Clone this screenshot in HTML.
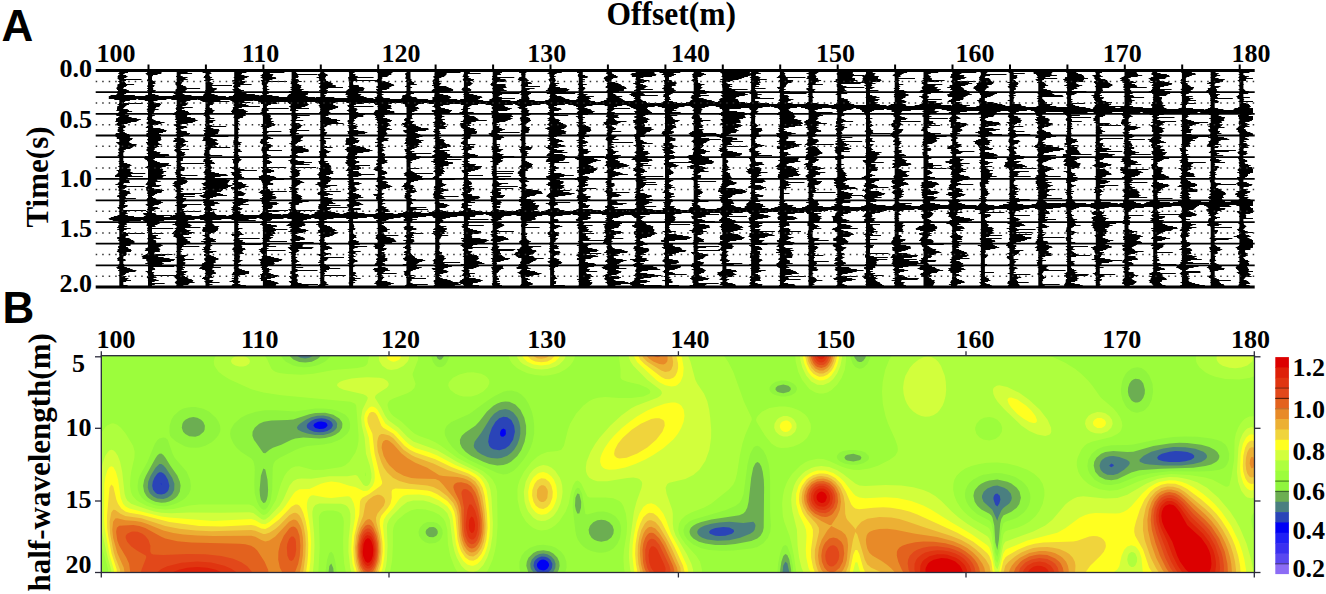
<!DOCTYPE html>
<html><head><meta charset="utf-8"><style>
html,body{margin:0;padding:0;background:#fff;overflow:hidden}
svg{display:block}
</style></head><body>
<svg width="1326" height="594" viewBox="0 0 1326 594">
<rect width="1326" height="594" fill="#fff"/>
<clipPath id="cpB"><rect x="101.3" y="355.7" width="1153.2" height="216.8"/></clipPath>
<g clip-path="url(#cpB)">
<rect x="101.3" y="355.7" width="1153.2" height="216.8" fill="#0000f5"/>
<path d="M95.3 349.7l1164 0 0 228-1164 0zM313.4 425.7l1.9 2.4 4 1 4-0.3 2-0.7 2.2-2.4-0.4-2-1.8-1.4-4-0.9-3.3 0.3-3.8 2zM503.3 428.5l-2.1 1.2-0.9 2-0.3 2 0.5 2 0.8 0.9 2 0.2 2-1.6 0.6-1.5-0.3-4zM160.7 483.7l0.6 1 0-1.1zM539.3 560.8l-2.2 2.9-0.2 2 0.8 2 1.6 1.7 4 1 2-0.3 2-1.3 1.8-3.1-0.2-2-1.1-2-2.5-1.8-2-0.3-2 0.2z" fill="#2a44b8" fill-rule="evenodd"/>
<path d="M95.3 349.7l1164 0 0 228-1164 0zM507.3 417.2l-4-0.4-4 1.4-3.8 3.5-3.6 6-2.8 8-0.9 6 1 4 1.6 2 2.5 1.6 6 1 6-1.7 4-3.2 3.8-5.7 1.8-8-0.8-6-2.8-5.6zM306.7 425.7l0.4 2 2.2 2.1 4.9 1.9 5.1 0.6 4-0.2 4-1 4-2.7 1.5-2.7-0.3-2-1.2-1.9-2-1.6-4-1.5-4-0.5-6 0.9-4 1.7-3.7 2.9zM1157.1 457.7l1.3 2 4.9 1.5 6 0.7 10 0 6-0.7 5.8-1.5 2.9-2 0.3-2-2.1-2-4.9-1.7-6-0.8-6-0.1-5.7 0.6-7.7 2-3.5 2zM1111.3 463.6l-2.2 2.1 2.2 1.5 2.6-1.5-0.6-1.2zM159.3 472.2l-2.1 1.5-2.8 4-1.6 4-0.6 4 0.9 4 2.2 2.8 2 1.4 4 0.7 3.4-0.9 2.6-2 1.2-2 0.9-4-1.5-6-2.6-4.4-2-2.1-2-1zM997.3 493.5l-2 0.6-1.3 1.6-0.6 2 0.2 2 1.7 5 2 1.8 2-3.1 1.1-3.7-0.6-4zM709 531.7l0.9 2 5.4 2 4 0.4 6-0.3 6.6-2.1 2.2-2-0.4-2-4.4-2.1-6-0.5-8 0.9-4.5 1.7zM535.6 559.7l-1.4 2-0.7 4 1.6 4 2.2 2.2 4 1.5 4-0.1 3.6-1.6 2-2 1.1-2 0.4-4-2-4-2.6-2-2.5-0.9-4-0.2-3.1 1.1z" fill="#4a7f80" fill-rule="evenodd"/>
<path d="M95.3 349.7l200.1 0-0.5 2 0.5 2 1.5 2 3.6 2 4.8 0.7 4-0.6 3.9-2.1 1.5-2 0.4-2-0.4-2 542.8 0-0.2 4.1 2 2.4 2-0.3 1.3-2.2 0.3-2-0.4-2 396.8 0 0 228-469.8 0-0.3-6-1.9-8.5-2-1.4-2.1 3.9-1 12-450.8 0-0.1-0.8-0.1 0.8-235.9 0zM509.3 409.9l-4-0.8-6 1.1-5.2 3.5-3.5 4-9.3 15-6.7 9-0.9 4 0.5 2 3.3 4 3.8 2.5 6 2.7 4 1 6 0.5 4-0.4 6-2.3 4-2.9 2.8-3.1 3.2-5.3 2-5.3 1-5.4 0-6-1-5.4-2-4.9-4-5zM337.2 423.7l-0.9-2-1.7-2-5.3-2.9-6-1.2-6 0.2-6 1.4-5.5 2.5-5.9 4-2.1 2-0.9 2 1.1 2 3.9 2 5.4 1.7 8 1.5 8 0 6-1.3 4-2.1 2-1.7 1.5-2.1zM1139.4 459.7l0.4 2 4.6 2 4.9 0.9 14 1 18-0.2 12-1.3 8-2.2 4-2.3 1.5-1.9 0.2-2-1.1-2-2.5-2-8.1-3-10-1.5-12-0.1-10 1.3-12 3.4-7.6 3.9zM1099.5 465.7l1.1 4 2.7 3.1 4 2 6 0.3 4.5-1.4 6.3-4 4.3-4 1.3-2-0.2-2-2.8-2-7.4-2.8-6-1-4 0.3-4 1.2-3.2 2.3-1.5 2zM159.3 464.1l-3.8 3.6-4.9 8-2.4 6-0.4 6 1.2 4 1.2 2 3.1 2.9 4 1.9 6 0.4 4.1-1.2 3-2 1.9-2 1.9-4 0.2-6-2.2-6-6.6-10-2.3-2.5-2-1.1zM997.3 485.5l-4 0.6-6 2.5-3.6 3.1-1.7 4 0 2 1.5 4 8.8 8 5 11.1 0.8-3.1 3.2-7.2 2-2.4 6-4.5 2-3.4 0.5-2.5-0.9-4-3.4-4-3.4-2zM755.5 525.7l-0.5-2-1.7-2-10 1.2-14-1.1-10 0.6-8 1.3-7.1 2-4 2-2.2 2-0.8 2 0.4 2 1.5 2 3.1 2 5.1 1.7 10 1.4 12-0.6 10.8-2.5 10.1-4 3-2 1.4-2zM539.3 554.1l-4 1.8-3.6 3.8-1.4 4 0.3 4 0.7 1.9 3.4 4.1 4.6 2.3 6 0.3 4-1.3 4.1-3.3 1.9-3.8 0.3-4.2-1.4-4-2.9-3.3-4-2.2-4-0.6z" fill="#6cae52" fill-rule="evenodd"/>
<path d="M95.3 349.7l193.1 0 0.2 4 0.9 2 3.8 3.7 6 2.6 6 0.6 6.5-0.9 5.5-2.6 2-1.6 2-2.9 0.8-2.9-0.2-2 113.9 0-0.1 4 1.6 4.5 2 1.6 2-0.3 2-2.2 1.1-3.6 0-4 409.2 0 0 4 1 4 2.7 3.5 2 0.9 2-0.2 2-1.1 2-2.7 1.3-4.4 0-4 392.7 0 0 228-467.8 0-0.4-8-1.8-10.1-2-4.7-2-1-2 2-1.9 5.8-1.2 8-0.3 8-228.1 0 4.8-4 2.2-4 0.8-4-0.4-4-1.9-4.2-4-4.1-4-2.1-6-1.1-6 0.9-4 1.8-4.8 4.8-1.7 4-0.5 4 1.8 6 3.3 4 2.8 2-200.1 0-0.8-9.5-2-4.7-2 2.4-1.4 11.8-232.6 0zM1135.3 378.7l-2 0.7-2 1.5-1.9 2.8-1.3 4-0.2 4 0.8 4 2.6 4.5 2 1.6 2 0.8 2 0 2-0.7 2-1.4 2-2.7 1.4-4.1 0.2-4-1.6-6.2-2-2.7-2-1.5zM775.5 389.7l1.8 2.1 2 0.8 4 0.6 5.8-1.5 1.7-2-0.2-2-2.2-2-5.1-1.2-5.5 1.2-2.1 2zM509.3 401.8l-4-0.4-4 0.6-4 1.4-3.9 2.3-6.6 6-7.5 9.8-4 4.3-10 6.8-3.5 3.1-1.9 4 0.2 4 1.9 4 3.5 4 5.8 4.2 12 5.9 6 2.1 8 1.5 6-0.4 4-1.2 4-2.2 6-5.7 4-6 3.3-8.2 1.5-8 0-8-1.8-8-3.9-8-5.1-5.3zM342.4 423.7l-0.6-2-2.5-3.3-6-3.7-8-1.9-10 0.2-6 1.3-16 5.2-6 0.6-16 0.3-7.5 1.3-4.6 2-4.5 4-2.1 4-0.2 4 1.5 4 9.4 13.3 2 0.2 4.2-3.5 3.4-2 8.4-3 10.2-5 3.8-1.3 8-0.8 16 1 6-0.6 6-1.4 4-1.8 4-2.9 2.8-4.2zM185.4 419.7l-2 2-1 2-0.6 4 1.3 4 2.2 2.4 4 2.1 6 0.6 4-1.2 4.4-3.9 0.9-2 0.3-4-1.6-3.8-2.2-2.2-3.8-1.9-4-0.7-4 0.6zM1219.4 455.7l-2.1-3.8-2.7-2.2-5.3-2.6-8-2.3-14-1.8-8-0.2-10 0.6-16 2.7-20 5.6-6 0.4-14-1.2-8 1-4.2 1.8-4.7 4-2.2 4-0.5 4 1.5 6 4.1 4.8 6 3.1 6 0.6 6-1 14-6.6 8-2.3 22-1.5 32-1 12-1.7 6-1.7 5.1-2.7 1.9-2 0.9-2zM161.3 453.6l-2 0.2-2 1.6-2 3-9.4 17.3-1.7 4-1.1 6 1 6 2.2 4 1.8 2 3.2 2.3 4 1.8 6 1 4-0.3 4-1.1 3.7-1.7 2.7-2 1.9-2 2.2-4 0.8-6-0.7-4-2.6-6.1-6.9-9.9-5.1-8.3-2-2.5zM844.4 457.7l1.3 2 1.6 0.8 6 1.1 6-1.4 1.1-0.5 1.1-2-1.3-2-6.9-1.9-6 1-1.9 0.9zM759.3 463l-2-0.9-2 1.3-2.1 4.3-2 10-2.6 24-1.3 5.7-2 4.2-2 2-4 1.7-28 4.1-10 2.5-4.8 1.8-3.4 2-2.2 2-1 2-0.4 2 0.4 2 0.9 2 2.5 2.7 5.6 3.3 6.4 1.9 10 1.3 10 0 10-1 16-3 6-2.4 3.2-2.8 2.3-4 0.9-4 0.4-40-0.3-8-1.1-8-1.4-5.2zM263.3 468.4l-2.4 7.3-1.3 14 0.4 6 0.9 4 2.4 3.2 2-0.5 1.4-2.7 1-4 0.4-6-0.6-10-2.2-10.1zM997.3 479.4l-8 1.1-4 1.2-4.1 2-2.7 2-3.4 4-0.9 2-0.8 4 1.3 6 2.6 4 4 3.7 8.1 4.3 1.9 1.7 1.2 2.3 1.8 8 1 16.5 2 7.7 1.6-10.2 1.3-16 1.1-4.8 2-3.4 8.1-3.8 5.3-4 2.6-3.7 1.6-6.3-1.3-6-2.8-4-5.5-4.3-3.9-1.7zM577.3 493.4l-1.9 4.3-0.4 8 0.8 4 1.5 3.8 2-0.1 1.7-5.7 0.2-6-1.9-7.6zM590 525.7l-1.4 4 0.7 4.4 2.3 3.6 2.6 2 3.1 1.4 4 0.6 6-1.3 4-3 2.1-3.7 0.4-4-1.3-4-3.2-3.5-4-1.9-4-0.5-4 0.5-4 1.9zM426.3 529.7l-0.7 2 0.3 2 1.4 2.1 2 1.1 4 0.4 3-1.6 1.3-2 0.2-2-0.6-2-1.9-1.9-2-0.8-4 0.2z" fill="#90f53e" fill-rule="evenodd"/>
<path d="M95.3 349.7l183.9 0 1.7 6 2.4 3.5 2.6 2.5 7.4 3.7 4 1.1 6 0.7 6-0.3 6.3-1.2 3.7-1.2 5.5-2.8 2.5-1.9 3.6-4.1 0.9-2 0.6-4 98.5 0 0.7 8 1.3 4 2.4 3.5 2 1.6 2 0.5 2-0.2 2-0.9 2-1.8 2-3 1.5-3.7 0.8-8 400.6 0 0.4 8 2.1 6 2.6 3.4 4 1.6 2-0.1 2-0.9 4-3.7 2.9-6.3 0.8-8 388.3 0 0 228-465.6 0-0.9-12-1.9-10-3.6-9.4-2-1.4-2 1-1.1 1.8-2.1 6-2 10-1 14-214.9 0 2.6-4 1.8-6-0.2-6-2.2-6-3-4-5.4-4-4.5-1.8-8-1.1-6 0.4-7.3 2.5-5.4 4-3 4-2.2 6 0 6 0.8 4 3.6 6-187 0-0.6-10-1.3-8-1.6-5.4-2-2.5-2 1.2-2.2 6.7-1.3 10-0.3 8-230.2 0zM1137.3 367.3l-4 0.6-2 0.9-3.8 2.9-1.7 2-2.3 4-1.4 4-1.2 8 0.3 4 1.3 6 3 6 1.8 2.2 4 3.3 4 1.4 2 0.2 6-1.8 2-1.4 3.5-3.9 2.9-6 1.4-8-0.6-8-3.1-8-3-4-2.3-2-2.8-1.6zM769.5 387.7l0 2 0.9 2 2.2 2 2.7 1.4 6 1.3 4 0 6-1.2 4-2.5 1.6-3-0.1-2-1-2-2.5-2.3-4-1.9-4-0.9-4 0-6 1.5-4 2.6zM511.3 390.6l-4 0.2-4 1-8.2 3.9-7.8 5-18 13.4-18 7.8-4.5 3.8-2 4 0 4 0.4 2 3 6 4.6 6 6.5 6.1 9.4 5.9 28.6 13.4 6 1.3 4-0.3 6-3.1 4-3.7 6-7.3 4-6.1 3.3-6.2 2-6 1.5-8 0.1-8-0.9-7.8-1.4-6.2-3.3-8-3.3-5.1-4-4.1-4-2.4zM173.8 415.7l-2.4 4-1.8 6-0.2 6 0.7 4 1.5 2 4.8 4 8.9 4.7 4 1 6 0.4 4-0.4 5.9-1.7 6.1-3.3 3.3-2.7 3.5-4 2-4 0.3-2-0.3-4-1.6-4-2.6-4-6.6-5.9-6-3-8-1.8-4-0.1-4.8 0.8-3.2 0.9-4 2.1zM345.3 414.8l-8-4-6-1.6-8-0.8-8 0.2-20 2.9-20-1.3-10 0-9.4 1.5-8.6 2.7-6.4 3.3-6.8 6-3.5 6-0.5 4 0.7 4 2.8 6 3 4 4.3 4 10.4 6.7 2 2.7 1.2 4.6 0.3 4-0.5 14 0.5 10 2.3 8 2 4 2.2 2.8 2 1.2 2-0.3 2-1.8 2-3.6 1.5-4.3 1.4-10 0.5-22 0.8-4 1.8-3 4.5-3 15.5-7.8 5.5-2.2 6.5-1.6 16-1.6 8-1.6 6-2.1 4-2 6-5.1 2-3.5 0.7-2.5 0.1-4-0.8-3.5-1.2-2.5zM163.3 437.4l-4 1.1-2 1.7-2.4 3.5-7.6 18.5-7.5 13.5-1.4 4-0.8 6 0.3 4 1.3 4 2.7 4 2.2 2 3.2 2.2 6 2.7 4.3 1.1 5.7 0.5 4-0.3 6-1.4 4-1.6 5.8-3.2 2.5-2 3.3-4 1.7-4 0.3-4-0.8-6-3.4-8-12.1-14-2-4-4.9-14-2.4-1.9zM1229.2 453.7l-1.9-6.3-2-2.9-4-3-4-1.6-6-1.4-14-1.7-12-0.3-12 0.6-14 1.8-26 5.6-6 0.6-16 0.1-8 1.5-6 2.5-5.5 4.5-3.5 6-0.9 6 0.6 4 1.7 4 4.9 6 6.7 3.9 4 1.1 6 0.4 8-1.5 18-7.4 14-3 18-1.9 30 0.1 12-0.5 8-1.1 4-1.5 2-1.5 2-2.7 1.6-4.4zM759.3 446.4l-2-0.6-2 0.4-1.9 1.5-3.2 6-2.6 10-4 30-2.3 6.3-2 2.9-4 3.2-10 4.1-32.4 9.5-3.8 2-4.2 4-1.4 4 0.1 2 1.2 4 2.8 4 5.7 4.8 8 3.7 8 1.7 12 0.9 12-0.4 18-1.8 6-1.5 6-3.9 4.6-5.5 2.4-6 0.6-6-0.8-14 0-32-0.7-10-0.8-6-2.5-8-2.8-5.3zM836.9 455.7l0 2 1.2 2 2.5 2 4.7 2 6 1.1 6-0.1 6-1.5 4-2.4 1.1-1.1 0.7-2-0.5-2-3.3-3.1-4-1.7-6-1-6 0-6 1-4 1.9zM995.3 472.9l-12 1.9-4 1.4-6 3.3-4 3.6-1.9 2.6-1.8 4-0.7 4 0.3 4 1.3 4 2.2 4 2.6 3.3 6 5.2 12 6.2 2 2.6 1.5 6.7 2.5 23.1 2 4.3 2-7 2-19.1 2-7.5 2.1-1.8 7.9-2.4 4-1.9 6-4.4 2.9-3.3 2.4-4 1.3-4 0.5-4-0.3-4-2.3-6-3.1-4-3.4-3-6-3.6-6-2.2-8-1.7zM577.3 487.8l-2 2.3-1.3 3.6-1 6-0.3 8 2.8 24 0.8 4 1.6 4 2.7 4 2.7 2.8 4 2.7 4 1.9 6 1.5 4 0.1 4-0.5 4-1.2 4-2.5 4-4.6 2.8-6.2 1.1-8-0.4-4-1.5-4.4-4-5.1-4.1-2.5-3.9-1.4-4-0.7-6 0.1-10 2.7-2-0.6-3.2-20.1-2.8-5.4zM419.8 527.7l-1.3 4 0.6 4 2.7 4 3.5 2.5 4 1.2 6-0.3 4-2.3 2-2.7 1.4-4.4-0.3-4-2.1-4-3-2.5-4-1.3-6 0.2-4 1.8z" fill="#9cfd3c" fill-rule="evenodd"/>
<path d="M98.4 439.7l3.7-8 3.2-4.5 2-1.9 4-1.9 2-0.1 4 1.5 3.6 2.9 4.9 6 7.3 12 1.6 6-0.3 6-3.2 14-0.8 6-0.3 8 0.8 6 1.7 4 3.5 4 3.2 2.2 7.3 3.8 8.7 2.8 10 1.1 8-0.7 16-3.3 10-1.1 50 0.1 4 1.5 8 7.8 2 1 2-0.3 2-1.4 2.9-3.5 5.9-10 4.9-16 3.5-8 2.8-4 4-3.6 4-1.7 4-0.2 14 3.9 10-0.3 18-2.7 4-1.9 4.1-3.5 5.9-8.9 2-5.2 1.1-5.9 0.2-6-2.4-30-1.1-2-4.5-2-69.3-6.4-18-2.8-12-3.3-22-10-6-3.6-4.8-3.9-4.1-6-0.7-4 0.9-4 2.7-4 5.8-4 34.1 0 4.1 2.5 3.6 3.5 2.4 3.9 4 8.8 2 2.1 2 1.2 4 1.3 8 1.1 14 0.6 12-1 20-3.6 24-2 6-1.3 2-0.9 2.1-2.2 2.2-10 1.9-4 44.8 0 1.6 4 0.1 6-5.4 14 0.2 2 2.8 8-1.1 4-3.2 3.2-4 2.4-14 5.3-4 2.2-1.7 2.9 0 2 1.1 4 2.4 4 2.2 2.2 8 5.7 10 9.5 3.5 2.6 4.5 2.3 10 3.4 6 2.8 6 3.7 15.9 11.8 26.1 13.6 5.6 4.4 3.7 4 3.2 6 1.3 6 0.5 34-1.3 18-1.5 8-2.2 8-4.4 10-2.9 4.5-3.1 3.5-20.4 0-3.4-4-3.6-6-4.6-12-2.3-12-0.6-14-2-7.7-2-3.6-4-3.7-5.8-3-8.2-2.3-8-0.5-6 1.3-6 3.2-7.5 6.3-3 4-1.4 4-0.5 4 0 14-0.7 14-3.1 18-42.2 0-2.7-14-0.8-10-0.3-12 0.7-20-0.5-3.8-2-4.2-2.9-2-5.1-1.1-6-0.1-4 0.7-2 1.2-2 3.1-0.4 2.2 0.8 30-1.6 30-212 0 1.8-4 0.3-4-4.9-17.8-2-5.7-2-2.9-2-0.2-2 2.7 0-96.3zM365.3 472.6l0 3.5 0.6-0.4 0-2zM508.2 349.7l66.7 0 0.3 4-0.5 4-1.8 4-2.9 4-4.7 3.9-6 3.2-4 1.3-6 1.2-6 0.4-8-0.6-8-1.9-6-2.6-4-2.4-5-4.5-2.5-4-1.4-4zM619.2 349.7l100.5 0 8.4 12 5.2 10.1 10.7 29.9 7.6 16 0.2 2-6.5 15.1-2.9 8.9-2.6 12-2.8 18-1.7 6.5-2 4.2-4.7 5.3-17.5 14-7.3 4-12.5 4.8-6 3.3-4.1 3.9-2.2 4-0.8 6 0.9 4 2 4 4.2 6 10.9 12 3.9 6 1.9 8-0.1 4-0.9 4-75.4 0-1.7-10-0.5-10 0.6-8 2.6-16 0.5-10-1.2-10-2.6-7.8-2-3.1-2-1.9-6-2.6-8-0.8-16 0-2-1.3-6-12.4-2-2.4-2-0.8-2.1 1.1-2.3 4-2.3 8-1.9 10-3.1 8-6.3 9.5-4 4.1-4 2.8-4 1.7-6 0.7-4-0.7-4-1.7-4-3-3.2-3.4-3.8-6-2.5-6-2.2-10-0.2-10 0.5-4 1.9-6 4.2-8 7.3-9.5 6-5.4 4-2.6 6-2.3 10-0.8 4-1.3 2.6-4.1 4-16 2.2-6 6-10 7.1-8 6.1-4.7 4-2 4.6-1.3 7.4-0.6 14 1 12 0 12-1.7 6.2-2.7 0.9-2-0.9-2-2.6-2-7.6-3.1-12-2.8-5.3-2.1-1.5-2 0-8-1.6-14zM794.8 349.7l51.4 0-0.3 12-1.1 8-3.1 8-4.4 6.9-6 5.6-4 2.2-4 1-4 0.1-4-0.9-6-3.7-7.3-9.2-3.8-8-2.5-10zM782.9 495.7l1.2-6 2.2-6 1.9-4 4-6 8-8 5.1-3.4 4-1.8 8-1.7 6 0.3 6 2 12 5.5 6 2 6 1.2 6 0.3 10-1.5 8.5-2.9 11.5-5.6 5.9-4.4 2.3-4 0.3-2-0.4-4-2.1-5.9-7.2-16.1-2.7-8-2.6-12-0.8-12 0.7-10 2.5-12 4-10 3.6-6 3-4 61.3 0 6.2 3.5 6 0.8 31.4-4.3 18.6 0 12 1.5 11.2 2.5 10.8 3.5 12 5.6 10 6.3 5.9 4.6 6.2 6 5 6 8.5 12 12.4 10.5 4 4.7 3 4.8 1.5 4 0.6 4-1.1 4-1.2 2-2.8 2.4-6 3-19.5 4.6-4.7 2-2.5 2-3.3 4-3.7 8-0.8 4 0 4 1.5 6 2.1 4 3.2 4 4.5 4 5.2 3.1 6 2.4 10 1.6 8-0.9 6-1.8 14.3-6.4 11.5-4 10.2-2.5 12-1.1 18 1 16 2.3 7.5 2.3 12.5 6.7 2 0.4 2-1.2 2-8.4 2.8-17.5 0.5-20 1.2-6 2.3-6 2.3-4 2.9-3.5 2-1.7 4-2 4-0.3 2 0.6 4 2.3 0 87.8-6.3 6.8-1.2 2-0.7 4 1.3 8 6.9 20.8 0 29.2-462.2 0-3.2-22-2.6-12.8-2-7.6-5.1-13.6-1.4-6-0.7-12zM980.1 419.7l-3.6 4-1.3 4 0 2 1.2 4 2.9 3.5 4 2.4 6 1 6-1.5 4-3 2.5-4.4 0.4-4-1.4-4-3.5-3.9-4-2.1-4-0.7-5.3 0.7zM987.3 462.8l-8 1.1-8 2.2-6 2.5-4.7 3.1-4 4-2.2 4-1 4-0.2 6 1.2 6 2.4 6 3.8 6 3.4 4 4.4 4 5.5 4 13.4 7.2 2 1.6 2 4.7 4 26.5 2 3.4 2-5.7 4-23 1.6-2.7 2.4-1.3 10-2.6 6-2.6 6-3.5 6-5.3 4-5.4 3.4-7.3 1.7-8-0.1-6-1.7-6-3.3-5.3-5.2-4.7-6.8-4-10-3.8-10-2.3-10-1.1zM1196.7 353.7l2.4-4 60.2 0 0 24.7-10 3.5-10 1.5-14-0.5-10-2.1-6-2.4-4-2.2-5.5-4.5-2.7-4-0.8-2-0.5-4zM448.3 385.7l0.1-2 0.9-2 3.7-4 6.3-3.3 8-2 6-0.2 8 1.6 4 1.9 2 1.7 1.6 2.3 0.5 2-0.2 2-1.9 3.8-4 3.9-6 3.4-6 1.8-8-0.1-4-1-4-1.7-5.1-4.1zM756.6 417.7l1.3-2 4.1-4 7.3-3.8 10-1.5 6 0.1 6 1 6.3 2.2 3.7 2 4 3.1 2.5 2.9 2.8 6 0.4 4-0.6 4-3.2 6-3.9 3.8-4 2.6-6 2.4-6 1.3-6 0.3-4-0.8-5.7-3.6-6.5-8-8.6-14-0.4-2z" fill="#aeff3e" fill-rule="evenodd"/>
<path d="M378.6 355.7l1.5-4 1.7-2 24.3 0 1.7 2 1.4 4-0.6 4-1.1 2-4.2 4.2-6 3-6 1-4-0.7-5-3.5-3-4.6zM516.1 351.7l0.2-2 49.8 0 0.3 2-1.2 6-1.9 2.9-4 3.8-4 2.3-8 2.4-6 0.4-6-0.5-4-0.9-8-3.9-3-2.5-2.9-4zM627.9 349.7l57.7 0 4.9 12 4.8 18 2 4 6.8 10 3.2 7.5 1.9 8.5 1 8 1 12-0.1 8-1.7 12-4.1 11.2-5.9 8.8-6.1 5.4-8 4-16 3.7-2 1.3-1.7 3.6 1 6 5.6 16 0.6 4 0 10 0.8 6 2.2 6 10.8 18 4.8 10 1.7 6 0.1 4-0.8 4-60.5 0-1.7-8-1.1-10-0.2-6 0.6-10 4.4-32 2.6-10 5-14 0.7-4-0.4-2-2.5-2.6-2-0.9-4-0.6-6 0.4-20 3.3-10-0.1-4-1.1-4-2.4-2-2.7-1.2-3.3-0.3-4 0.8-6 4-10 4.7-8 4.3-6 10.6-12 11.1-10.1 10-7.4 4.8-2.5 21.2-7.9 3.1-2.1 1.4-2-0.1-2-1.4-2-13.2-10-13.8-14-2.7-4-1.7-4-0.9-4zM799.6 349.7l42.8 0-0.4 8-1.6 8-3.1 7.5-4 5.9-4 3.5-6 2.5-6-0.3-6-3.4-5-5.7-3.9-8-2.1-8zM1216.5 357.7l0.4-2 1.3-2 2.2-2 3.8-2 21.2 0 3.9 2.1 2 1.8 1.8 4.1-0.2 2-1 2-4.6 3.8-6 2.1-6 0.6-6-0.4-6.7-2.1-3.1-2-1.8-2-1-2zM231.2 359.7l1.7-2 2.4-1.2 6-0.9 4 0.9 2.4 1.2 1.9 2 0.3 2-0.8 2-3 2-2.8 0.7-4 0.2-4-1-3-1.9-1.2-2zM927.3 356.5l4 0.4 4 2 2.9 2.8 2.7 4 3.9 10 1 6 0.4 8-0.6 6-1.5 6-1.6 4-3.2 4.9-2 2.1-4 2.6-4 1.3-4 0.2-4-0.9-4-1.7-4-2.7-3.7-3.8-2.6-4-1.8-4-1.6-6-0.5-6 0.7-6 1.5-5.7 4.6-8.3 3.5-4 5.1-4 4.8-2.4zM490.4 489.7l1.1 8 1.4 26-0.5 12-1.9 12-3.2 9.8-4 7.4-4 4.4-2 1.4-4 1.4-4-0.3-4-2-4-4.1-4.5-8-2.2-6-1.9-8-2.9-24-2.5-6.5-4-4.3-4.9-3.2-9.1-3.8-6-1.3-10-0.2-6 1.7-6 4.5-9.1 9.1-3.2 4-1.7 4-0.4 4 0.7 18-0.7 14-0.8 6-3 12-30.2 0-2.7-10-1.8-16 0.2-12 1.8-18 0-8-1.1-4.3-2-3-2-1.5-4-1.2-22-0.2-4 1.6-2 2.6-0.9 4 0 4 1.7 18 0.4 12-0.6 16-1.5 16-202.5 0 1.3-4 0-4-3.4-12-5.5-24-2-12-0.7-34 0.9-14 2-10 2.8-8 2.8-4 1.2-1.2 2-0.7 2 0.4 2 1.7 2.5 3.8 2.3 6 2.1 10 2.4 22 1.2 4 1.5 2.7 3.9 3.3 6.1 2.4 16 5.2 8 1.5 10 0.4 18-0.8 32 0.4 28-0.6 4 0.9 8 5.9 2 0.8 2-0.3 4-2.9 10.1-10.9 3.9-6.3 6.1-13.7 3.9-4.6 4-2.1 4-0.5 10 0.3 18-2.6 18 0 8-1.3 2 0.9 6 9 2 1.2 2-0.1 2-1.7 1.2-2.5 0.9-4 0-4-1.5-8-3.9-12-1.4-16-2.8-12-0.7-8 1.3-8 4.9-10 0.5-2-1.5-2-3-1.5-19.6-4.5-4.6-2-2-2 0.3-2 2.7-2 3.2-1.2 8-1.9 7.9-0.9 8.1-0.4 12 0.4 4 0.9 4 2.3 1.5 2.8-0.4 2-1.6 2-9.3 6-2.1 2-0.5 2 6.3 10 3.9 8 2.8 4 10.8 8 8.6 9.1 6 4.7 24 8.7 20 11.8 20.2 9.7 5.3 4 3.4 4 2.4 4zM993.7 387.7l2.9-2 2.7-0.4 8 1.6 12 5.9 10 7.1 10.6 9.8 7.7 10 3.5 8 0.2 4.1-0.9 1.9-1.1 1.1-4 1.1-8-1.4-8-3.6-8-5.5-16.5-15.7-7.2-8-2.6-4-1.7-4-0.4-4zM1085.7 419.7l2.9-4 3.1-2 5.6-1.6 4 0.1 4 1.1 4 2.6 2.7 3.8 0.7 4-1.4 4-4 3.7-6 2-6-0.2-4.5-1.5-2.8-2-1.6-2-1.4-4zM776.8 419.7l2.4-2 4.1-1.6 4 0 4 1.3 2.8 2.3 2.3 4 0.2 4-1.5 4-3.8 3.5-4 1.4-4 0-4-1.6-3.5-3.3-1.6-4 0.3-4zM1251.3 426.9l3.9 0.8 4.1 3.2 0 62.7-4 3.5-4 1.2-4-0.9-2-1.4-4-5.3-3.2-9-1.2-10 1.5-24 1.7-8 2.6-6 2.6-3.5 2-1.7zM543.3 465.1l4.3 0.6 4 2 3.7 3.2 4.5 6.8 1.5 4 0.9 4 0.4 6-0.7 6-1.5 6-2.6 6-2.5 3.9-2 2.3-4 3.2-4 1.7-4 0.3-4-0.9-4-2.4-5-6.1-1.9-4-1.8-6-0.8-10 1.9-10 4.1-8 3.5-4 2.6-2 3.4-1.8zM791.8 493.7l2.2-8 1.9-4 2.7-4 3.7-4 3-2.5 6-3.2 4-1.3 6-0.7 8 1.1 8 3.2 5.5 3.4 12.5 9.9 4 1.8 6 0.7 20-1.1 16 0.5 12 1.7 10 2.7 6 2.5 6 3.6 6 5 10.7 10.7 6.9 6 8.3 6 20.1 12.5 2 2.2 2 6 3.9 21.3 2.1 3.7 2.1-5.7 3.9-18.6 2-3.4 28-10.3 12-5.8 7.1-5.9 12.9-15.1 3.3-2.9 4.7-3 4-1.6 6-0.9 22 2.2 12-0.5 10-3.1 18.8-11.1 11.2-4.6 6.3-1.4 5.7-0.6 8 0.2 6 0.9 6.6 1.5 7.4 2.5 9.7 5.5 11.4 10 11.8 14 5.1 7.7 4.5 8.3 6.8 16 4.6 16 1.5 8 1 10-447.9 0-4.3-10-2.4-10-1.5-12-0.7-16-4.4-18-0.9-6-0.4-6zM1131.3 552.1l-2.4 1.6-1 2-0.7 4 1 4 1.1 1.9 2 1.3 2 0 2-1.4 1.7-3.8 0.1-4-1.8-4.1-2-1.4z" fill="#d2ff3c" fill-rule="evenodd"/>
<path d="M387 355.7l1-2 1.3-1.1 4-1.3 4 0.6 2.6 1.8 0.9 2-0.2 2-1.3 2-4 1.9-2 0.1-2-0.4-2.9-1.6-1.3-2zM521.5 351.7l0.3-2 38.7 0 0.2 4-1.6 4-3.8 3.9-6 2.8-8 1.2-8-1.1-6-2.8-4-3.9-1.1-2.1zM632.9 349.7l45.8 0 3.3 8 1.7 10-0.7 8-2.4 6-3.3 3.4-2 1-4 0.5-6-1.4-6-3-3.3-2.5-18.7-17.5-3.7-6.5zM802.4 349.7l37.2 0-0.5 8-1.8 7.2-2 4.7-4 5.9-4 3.3-4 1.5-4 0.1-4-1.4-4-3-3.4-4.3-3.5-8-1.4-6zM1008.8 397.7l2.5-0.3 6 2.2 9 6.1 5 4.8 4 5.2 1.6 4-0.1 2-1.5 1.2-2 0.2-4-1.1-6-3.4-6-4.7-6-6.3-2.6-3.9-1.3-4zM681.4 405.7l2.3 4 0.8 6-0.9 6-2.3 6.1-3.4 5.9-4.6 5.7-10 8.8-10 6.7-8 4.5-10 4.5-10 3.5-10 2.2-6 0.2-4-0.9-2.2-1.2-1.8-1.9-1.2-4.1 0.3-4 1.4-4 3-6 4.5-6.5 4.7-5.5 8.2-8 7.5-6 7.6-5.4 10-5.8 8-3.6 9.2-3.2 6.8-1.3 4 0.1 3.5 1.2zM486.5 489.7l1.9 12 1.4 18 0.1 8-0.6 8.7-1.7 9.3-2.7 8-3.6 6.4-4 4-4 1.7-2 0-4-1.3-4-3.6-3.3-5.2-1.8-4-2.3-8-3.5-28-1.3-4-3.8-5.4-8-5.9-10-4.3-10-1.5-12 0.2-4 1-4 3.1-6 8.9-7.1 7.9-2.4 4-0.8 6 1.7 18-0.2 12-1.8 12-3.3 10-22.8 0-4.1-14-1.2-14 0.7-14 3.1-18 0-8-1.2-6-2.6-5.5-2-1.6-2-0.4-16 1.9-6-0.5-12-2.4-2 0.4-2 1.4-1.5 2.7-0.9 4 0 4 3.3 22 0.9 12-0.7 20-1.8 16-195.6 0 1-4-0.1-4-4.1-14-5.2-28-0.6-8 0.3-36 1-6.7 2-6.6 2-3.2 2-1 2 0.9 2.6 4.6 2.2 8 2.6 18 2.4 6 2.2 2.5 4 2.2 32 8 8 1.1 44 3.4 38-1.9 4 1.2 6 3.6 4 0.4 4-2.3 12-10.9 4-4.9 8-12.2 1.9-2.2 4.1-2.4 10-0.3 11.4-5.3 4.6-1.3 6-0.8 8 1 10 3.2 6 1.3 8 3.8 4-0.2 2-1.1 3.4-3.9 1.6-4 0.5-4-0.3-6-4.1-20-1.5-14-3.8-12-0.9-6 0.2-4 1.3-4 3.2-4 2.4-1.1 2 0.1 2.1 1 1.9 1.7 8 14 11.5 8.3 8.5 9.4 4 3.5 6 3.3 14 4.3 8 3.2 18 9.5 14 5.8 5.6 3 4.4 3.4 2.4 2.6 2.5 4zM1093.1 421.7l1.3-2 2.9-1.6 4-0.1 3.2 1.7 1.3 2 0.1 2-0.9 2-1.7 1.4-2 0.8-4 0-3.4-2.2-0.9-2zM782 421.7l3.3-1.3 2 0.2 2.3 1.1 1.6 2 0.6 2-0.2 2-2.3 3.1-2 1-2 0.1-2-0.5-2-1.4-1.3-2.3-0.2-2 0.6-2zM1251.3 434.2l4 0.9 4 4.2 0 45.6-4 4.4-4 1.1-2-0.4-2-1.2-2-2.2-2-3.3-2.4-7.6-0.8-8 0.7-14 2.1-10 3.1-6 3.3-2.9zM798.6 485.7l3.6-6 3.1-3.2 3.8-2.8 4.2-2 4-1.1 8-0.2 8 2.6 6 3.9 4.9 4.8 9.1 11.9 2.3 2.1 3.7 1.9 6 0.6 20-0.9 12 0.8 14 2.9 12 4.4 8.1 4.3 19.9 12.5 20 11.8 16 11.2 2 2.4 2 5.6 4 21.6 1.3 2.9-134.8 0-4.5-15.4-2 0.3-3.8 15.1-38.8 0-4.2-10-2.2-10-0.5-8 0.7-14-0.5-6-1.4-4-5.8-12-2.7-10 0-10zM543.3 472.1l4 1.1 4 3 2.6 3.5 2.4 6 0.8 8-0.3 4-1.5 5.3-2 4.2-2 2.9-4 3.3-2 0.9-4 0.5-3.5-1.1-2.5-1.6-4-5-2.6-7.4-0.6-8 1.7-8 3.3-6 4.3-4 1.9-0.9zM1246.6 577.7l-100.1 0-2.9-4-0.8-2-1.4-14-1.9-6-2.2-3.3-2-1.8-4-1.4-4 1.2-3.1 3.3-2.6 6-2.3 10.5-2 3.4-4 3-10.8 5.1-104.7 0 5.4-24 2.1-3.6 2-1.3 20-8.2 30-7.9 8-4.4 14.1-10.6 5.9-2.8 4.1-1.2 5.9-0.8 20 0.7 4-0.4 4-1.2 4-2.3 4-3.5 10.8-12.5 6.5-6 6.6-4 4.1-1.7 10-1.8 6 0.2 6 1.3 5.5 2 7.6 4 8.6 6 6.3 5.2 5.1 4.8 7.1 8 9.6 14 7.8 16 3.4 10 2.1 8 1.6 10zM647.3 503.9l4-0.7 4 1.6 4 3.4 4.1 5.5 2.7 6 4.9 14 8.3 15.4 7.7 16.6 1.3 6-1 6-51.3 0-2.1-8-1.5-14 0.2-10 1.2-10 2.8-14 2.7-7.9 4-6.7z" fill="#ffff20" fill-rule="evenodd"/>
<path d="M526.2 351.7l0.4-2 29 0 0.3 2-0.9 4-3.7 3.9-4 1.8-6 0.9-6-0.8-4-1.7-4-4zM636.9 349.7l36.9 0 2.6 6 1.7 8 0 4-0.8 4-1.9 4-2.1 2.1-4 1.5-4-0.4-4-1.8-17.1-13.4-4-4-3-6zM804.6 349.7l32.8 0-0.3 6-1.3 6-2.4 6-2.1 3.2-4 3.9-4 1.8-4 0.1-2-0.6-3.9-2.4-3.5-4-3-6-1.9-8zM369.3 413.2l2-1.3 2 0 2 1.2 2 2.7 4.1 9.9 1.8 2 10.3 6 11.1 12 5.2 4 5.5 2.7 20 6.8 16 7.9 17.5 6.6 6.6 4 3.9 4 3.3 6 2.1 8 2.3 18 0.6 14-1.2 12-2.1 8-3 6.4-4 4.7-4 2-4-0.5-4-2.7-3.9-5.9-1.7-4-2.1-8-2.1-22-1.2-6-2.9-6-4.1-4.6-10-6.9-6-2.6-4-1-14-1.4-18-0.6-3.1 1.1-0.6 2 0.2 6-1.4 6-2.5 4-6.6 8-1.5 4-0.1 4 2.7 18 0.3 10-1.4 12.1-2.9 9.9-2 4-16.8 0-2.8-6-2.2-8-1-8-0.3-8 1-12 5-21.1 0.7-12.9 0.7-2 1.7-2 6.9-3.6 11.3-8.4 1.5-2 0-2-2.8-9-4.7-19-2.2-20-3.7-8-1.2-4-0.1-4zM663.3 419.9l1.1 1.8 0.3 4-2.3 6-6.2 8-8.9 7.7-10 6.2-10.7 4.1-7.3 0.7-2.5-0.7-2.2-2-0.5-2 0.7-4 3.1-6 4.9-6 8.9-8 9.1-6 10.5-4.6 4-0.9 4 0zM1251.3 440.6l2 0.1 1.9 1 2.1 2.2 2 3.9 0 28.8-2 3.8-2 2.2-2 1.2-2 0.2-2-0.8-1.8-1.5-2.2-3.4-2-6.6-0.5-6 0.5-10 1.8-8 2.2-4.3 2-2zM802 485.7l4.4-6 2.4-2 4.5-2.6 6-1.6 4-0.1 4 0.7 4.1 1.6 3.9 2.4 5.8 5.6 4.8 8 5.4 12.7 2 2.7 2 1.3 4 0.8 14-1.5 10-0.5 7.6 0.5 10.4 1.7 8 2.2 8 3 40 18.2 16 9 7.8 5.9 6.2 5.5 2 2.7 2 5.7 2.1 16.1-121.4 0-4.7-2.5-2-2.4-2-4.5-4-14.4-2-3.9-2 0-2 4.6-3.6 17.1-2.3 6-29.6 0-2.4-4-2.3-6-2-10-0.1-8 1.9-14 0-6-1.5-4-7-10-2.2-4-2.7-8-0.5-4 0.3-5.6 1-4.4zM541.3 478.3l4 0.5 4 3.1 2.1 3.8 1.4 6-0.4 6-2.3 6-2.8 3.3-4 1.9-4-0.6-3.4-2.6-2.4-4-1.4-6 0.3-6 2.2-6 2.7-3.5zM1150.4 491.7l4.9-4 6-2.9 6-1.4 8 0.4 5.9 1.9 6.1 3.2 14 10.5 8 7 7.1 7.3 4.9 6.2 6.3 9.8 4.2 8 3.3 8 3.1 10 1.9 10 0.8 12-85 0-6.7-10-6.1-18-8-14-0.9-4 0.2-4 1.5-6 3.9-12 4.6-10zM109.5 487.7l1.8-3.1 2 2 3.1 13.1 1.6 4 3.3 4.9 4 2.9 4 1.3 12 2 28 7.3 30 4 22 0.5 30-1.7 4 0.8 6 2.8 4 0.4 4-1.8 10-7.8 12-12.5 4-2.4 2 0 2 1.2 2 2.8 2 4.6 2.5 8.7 1.8 10 0.7 12-0.2 10-0.8 10-2.1 14-189.1 0 0.8-4-0.1-4-5.2-16-3.5-18-1-8-0.1-12zM647.1 513.7l2.2-0.9 4 0.5 4 2.9 4 5.4 13.5 26.1 8.3 18 1.4 6-1.3 6-43.8 0-2-6-1.5-8-0.8-10 0.5-10 2-12 2.5-8 3.2-6.4zM1105.3 542.3l0.6 3.4-0.3 2-1.8 4-3.3 4-10.3 10-8.5 12-81.1 0 0.7-8 2-8.6 2-3.7 2.1-1.7 10.4-6 9.4-4 7.4-2 8.7-1.3 30-0.8 4-0.8 12-4.2 4-0.6 4 0.3 4 1.5 2.3 1.9z" fill="#f0d43c" fill-rule="evenodd"/>
<path d="M531.2 351.7l0.7-2 18.3 0 0.7 2-0.3 2-1.2 2-2.1 1.5-2 0.9-4 0.7-4-0.6-4-2.1-1.7-2.4zM640.8 349.7l28.7 0 2.6 6 1 6-0.3 4-1.5 3.7-2 1.9-4 0.7-4-1.4-14-8.8-4.1-4.1-2.1-4zM806.6 349.7l28.9 0-0.4 6-1.5 6-1.7 4-2.6 3.7-2 2-4 2-4 0.1-4-1.7-3.9-4.1-3-6-1.4-6zM379.3 435.2l2-1.2 2-0.1 6 1.6 4 2.8 10.2 11.4 7.8 5.4 4 1.9 18 6.5 14 6.5 20 6.2 4 2.2 4 3.2 4 5.8 2.8 8.3 2.3 14 1.2 14-0.3 9-1.5 9-2.5 6.7-4 5.7-4 2.3-4-0.5-3-2.2-2.9-4-2.5-6-1.9-8-1.4-20-1.2-6-3.1-6.8-6-6.7-8-6.3-6-3-6-1.3-18-1.9-10-2.6-6.4-3.4-5.6-5.1-3.4-4.9-2.6-5.4-3.4-10.6-0.7-6 0.1-4.1 0.8-3.9zM1251.3 447.2l2 0.1 2 1.6 1.6 2.8 1.2 4 0.7 6-0.4 6-1.1 4.2-2.1 3.8-1.9 1.5-2 0.3-2-1.1-2-3-1.1-3.7-0.6-6 0.4-6 1.3-5.5 2-3.6zM803.9 487.7l2.5-4 2.9-3.1 4-2.6 4-1.4 4-0.5 6 0.9 4 1.8 4 2.9 4.9 6 3.3 8 1.4 8 0.3 10 1 4 1 2 7.2 8 0.9 1.8 2.5-3.8 3.7-4 5.8-2.9 12-1.7 12 0.5 8 1.5 8 2.3 16 5.7 28 8.8 10 4.2 8 4.5 6 4.4 5.2 4.7 5.4 6 3.5 6 1.1 6 0.1 6-100.5 0-6.8-4.5-12-5.5-4-3.1-2.5-4.9-7.5-25.3-2-2.5-2.3 7.8-4.6 26-3.1 8-3.4 4-19.1 0-3.2-4-2-4-1.9-6-0.9-6 0.1-8 4.2-18-0.3-4-2.4-4-9.1-9.6-4-7.3-1.4-5.1-0.3-4 0.8-6zM541.3 485.2l2 0 2 1.1 2 3 0.6 2.4-0.6 6.2-2 3-2 1.2-2 0-2-1.1-2-3-0.5-2.3 0.4-6 2.1-3.3zM1155.5 491.7l5.8-3.6 6-1.6 6 0.2 6 1.9 5.3 3.1 20.7 17.3 6 5.8 5.9 6.9 5.5 8 4.6 8.5 3.3 7.5 2.7 8.5 1.7 7.5 1 8 0.1 8-73.8 0-6.5-10-5-10-6.2-18-1.7-10 0.3-10 2.5-12 2.4-6 2.2-4zM379.3 494.8l2.5 0.9 2.2 2 0.9 2 0.2 2-1.3 4-6.4 8-1.4 4 0.2 4 3.6 14 1 8 0.1 10-0.9 8-2.7 9.4-2 3.9-2.1 2.7-10.3 0-4-6-2.9-10-1.1-14 1.3-12 2.2-8 4.8-12 2.3-12 3-4 4.8-3.5 4-1.5zM111.3 512.4l2-2.6 2 0.2 5.1 3.7 4.9 2.2 16 2.4 24 7.7 14 2.8 16 1.7 16 0.7 40-1.1 4 0.7 8 3.3 2 0 4-1.4 6-3.8 4-3.3 10-10.4 4-2.3 2-0.2 2 0.7 2 1.9 2 3.5 2.3 6.9 1.7 9.8 0.5 8.2-0.5 12.9-1.7 13.1-1.7 8-182.3 0 0.7-4-0.2-4-4.7-12-1.8-6-3.5-18-0.5-12zM647.3 521.1l2-0.9 2 0 4 1.9 4 4.4 6.8 11.2 5.3 10 9 20 0.5 6-1.3 4-37 0-2.4-6-1.8-8-0.7-8 0.2-10 1.2-8 2.2-7.6 3.4-6.4zM1003.2 573.7l2.1-8 3.3-4 6.7-5.5 6-3.7 6-2.6 6-1.8 6-0.9 8-0.2 5.9 0.7 6.1 1.4 6.3 2.6 3.7 2.4 3.5 3.6 2 4 0.7 4-0.4 6-1.7 6-70.2 0z" fill="#ecb034" fill-rule="evenodd"/>
<path d="M644.8 349.7l20.2 0 2.5 6 0.1 4-0.5 2-1.8 2.1-2 0.7-4-0.6-6-2.5-4-2.6-3-3.1-1.1-2zM808.3 349.7l25.5 0-1 8-1.2 4-2.3 4.1-2 2.3-4 2.4-4 0.1-4-2-3.9-4.9-1.6-4-1.3-6zM383.3 441.2l2-1.1 2 0 2 0.8 4 3.3 8 9.1 6 4.8 8 4.6 12 5.1 12 7.4 4 0.9 14 1 6 1.2 3.9 1.4 3.5 2 4.2 4 2.4 4 2.6 8 3 16 0.9 12-0.5 8-1.7 8-2.3 5.2-2 2.8-2 1.7-2 0.9-2 0.1-2.1-0.7-2.4-2-2.7-4-2.2-6-1.2-6-1.1-20-1.7-8-1.7-4-2.6-4-10.3-12.6-4-4.3-4-1.9-18-0.3-6-0.7-7.5-2.2-7.5-4-7-6.5-2.5-3.5-3.2-6-2-8 0.5-4zM1251.3 456.9l2 0.2 1.3 4.6 0 2-1.3 4.2-2 0.3-1.6-4.5 0.4-4zM817.3 479.1l6-0.5 4 1 4 2 4 3.6 1.8 2.5 2.8 6 1.1 8-1.1 8-2.6 6.2-6 9.2-2-0.1-8-3.9-8-5.1-5.7-6.3-2.7-6-0.8-4 0-4 0.8-4 1.6-4 4.8-5.6zM1157.3 494.1l4-2.8 6-1.9 4 0 6 1.7 4 2.2 5.5 4.4 18.5 16.9 6 6.2 6 7.6 4 6.5 4 8 2.6 6.8 2.3 8 1.1 6.4 0.6 7.6-0.3 6-63.9 0-5.4-8-6.2-12-5-14-3.2-14-0.5-10 1.4-10 2.8-8 2.5-4zM113.1 521.7l2.2-3.1 2-0.4 8 2.1 10 0.7 6 1.1 6 1.9 16 6.6 10 2.5 10 1.4 14 1 16 0.4 38-0.1 4 1 6 3.3 4 1.3 4-0.9 6-3.9 13.8-14.9 4.2-2.2 2 0.2 2 1.3 2.8 4.7 1.4 4 1.4 8 0.3 8-0.4 10-1.5 10.1-2 8.2-1.3 3.7-174.1 0 0.5-6-0.6-4-6.5-14.6-4.2-15.4-0.8-8zM369.3 519l2 1.3 2 2.9 4 9.8 1.8 8.7 0.5 10-1.1 10-3.2 9.4-2 3-2 1.8-2 1-2 0.1-2-0.7-2-1.5-2-2.7-2-4.2-2.4-10.2-0.5-10 1.6-12 2.8-8 4.5-6.8 2-1.5zM647.8 527.7l1.5-0.8 2-0.2 4 1.9 4 4.3 6 9.4 11.8 25.4 0.7 4-0.2 2-1.7 4-30.1 0-2.9-6-2-8-1-10 0.2-6 1.3-8 2-6 1.9-3.5zM831.3 526.1l10 5 4 3.5 2 4.1 0.8 7-1.2 14-1.6 5.9-2 4.1-2 2.6-4 3.3-4 1.5-2 0.1-4-1.1-2-1.3-4-5.1-2.3-6-1-8 0.9-8 2.8-8 5.6-9.2zM866.6 535.7l1-2 1.7-1.6 4-1.9 6-1.3 8-0.2 8.1 1 19.9 4.1 22 3.3 16 4.2 8 3.4 6 3.4 6 4.6 4.9 5 4.2 6 1.9 4 1 4.8-0.4 5.2-85.2 0-8.4-9.2-4-3.6-6-4.2-8.7-5-3.3-3-2-3.9-1.1-5.1-0.3-4zM1008.5 573.7l1.1-4 2.2-4 3.5-4.2 4.6-3.8 9.4-4.8 10-2 6 0.1 6 1 4 1.3 4.6 2.4 2.7 2 3.5 4 1.8 4 0.8 4-0.1 4-0.9 4-59 0z" fill="#e88a28" fill-rule="evenodd"/>
<path d="M650.8 349.7l7.8 0 1.6 2 0.7 2-0.3 2-1.3 1.2-2 0.3-4-1.3-2.4-2.2-0.6-2zM810 349.7l22.1 0-1.1 8-1.7 4.3-2 2.9-2 1.8-4 1.4-4-1-2-1.6-2-2.6-2.3-5.2zM817.3 481.5l6-0.5 6 2.1 4.9 4.6 3.1 6.4 0.8 7.6-1.5 6-3.3 5.4-2 1.8-4 1.9-2 0.3-4-0.5-6.2-2.9-3.8-3.3-2-2.7-2.5-6-0.5-6 1.7-6 3.3-4.6 2-1.7zM457.3 482.6l4-0.3 6 1.5 4 2.8 4 5.8 2 5.4 2 7.9 2.4 14 0 12-1.1 6-1.4 4-1.9 3.4-2 2.1-2 1.1-2 0.1-2-0.7-2-1.8-2.5-4.2-1.9-6-0.8-6-0.9-22-1.9-6.7-4.5-9.3-1.4-4 0.1-2 1.3-2zM1159.7 495.7l5.6-3 4-0.6 6 1.2 4 2.1 5.1 4.3 8.9 9.2 11.7 10.8 6.3 6.8 8 12.1 5.5 13.1 2.6 12 0.5 8-0.6 6-54.8 0-6.6-10-5.9-12-4.7-13.1-3.5-12.9-1.1-10 1-10 3.1-8zM116.9 527.7l2.3-2 14.1-0.6 6 0.8 6 2 16 8.9 4 1.6 12 2.8 14 1.2 48.1 1.3 5.9 0.6 5.8 1.4 3.3 2 2.9 2.9 7.3 11.1 3.5 8 1.1 8-139.3 0 0.3-6-1.1-8-2.7-6-7.1-12-2-5.3-1.2-8.7zM369.3 524.8l2 1.2 2 2.5 3.1 7.2 1.6 8 0.3 8-1 8.8-2 6.6-2 3.7-2 2.1-2 1.1-2 0.1-2-0.8-2-1.7-3.2-5.9-2.2-10-0.1-10 1.8-10 2.6-6 3.1-3.9 2-1zM293.3 526.6l2 0.7 2 2.3 2.2 6.1 0.9 10-0.6 10-1.6 8-2.9 7.9-2 3-2 1.8-2 0.8-2-0.1-2-1-2.3-2.4-3.1-6-1.7-8 0.2-8 1.8-8 3.6-8 5.5-7.2 2-1.4zM649.3 533.1l2-0.4 2 0.4 2 1.3 4 4.2 4.5 7.1 9.2 20 1.2 4-0.1 4-2.5 4-22 0-2.9-4-2.4-6-1.3-6-0.5-12 0.8-6.1 2-5.9 2-3zM833.3 537.5l4 1 4 3.3 2.1 3.9 0.8 8-1.4 8-3.2 6-4.3 3.8-4 0.9-4-1.5-2.9-3.2-2.5-6-0.6-6 0.8-6 1.4-4 1.8-3.2 4-3.9zM896.9 551.7l0.8-2 1.5-2 3.1-2 5-1.8 8-1.6 8-0.7 10.6 0.1 11.4 1.5 8 2.2 6 2.4 6 3.4 5.7 4.5 3.7 4 2.6 3.9 2 4.6 0.9 5.5-0.6 4-73.1 0-4.7-8-3.5-8-1.5-6zM1013.5 575.7l0.5-4 1.6-4 5-6 2.6-2 6.1-3.1 6-1.7 4-0.5 8 0.7 8 3.3 4 3.3 1.6 2 1.9 4 0.8 4-0.7 6-49.2 0z" fill="#e3621e" fill-rule="evenodd"/>
<path d="M811.6 349.7l18.8 0-0.6 6-2.5 5.7-2 2.3-2 1.2-4 0.2-2-1-2.4-2.4-1.6-3-1-3zM819.3 483.4l5.8 0.3 4.2 2.2 4 4.6 1.9 5.2 0.1 6-2 5.5-4 4.4-4 1.6-6-0.6-4-2-4.5-4.9-2.2-6 0.3-6 2.4-5.3 4-3.6zM463.3 489.3l2-0.3 2.3 0.7 3.7 3.4 1.6 2.6 4.4 12.2 2 8.8 0.8 7-0.8 10.4-2 5.9-2 2.8-2 1.3-2 0.2-2-1-1.5-1.6-2.5-5.2-1.1-4.8-0.5-8 0.3-16-2.5-14 0.1-2zM1161.3 497.8l3.8-2.1 4.2-0.8 4 0.7 4 1.8 6 5.2 10 11.4 10 9.2 6 6.5 6.7 10 5.2 12 1.6 6 1.1 8 0 6-0.9 6-45.8 0-7-10-5-10-8.8-24-2.5-10-0.4-8 1.4-8 2.9-6zM367.3 528.5l2 0.1 2 1.3 2.5 3.8 2.5 8 0.8 8-0.6 8-2.3 8-2.9 4.3-2 1.2-2 0.2-2-0.9-2-2.1-2-3.8-1.8-6.9-0.6-6 0.5-8 1.9-8 2-3.9 2-2.3zM125.8 535.7l1.4-2 4.1-2 2-0.3 4.4 0.3 4.7 2 2.7 2 3.3 4 2 6-0.1 6 1.1 2 1.9 0.7 10 0.7 24-1.1 18 0.2 16 1.7 12 2.9 8 3.4 6 4.1 4.5 5.4 2.4 6-114.4 0 1.7-8 4.7-12-0.1-2-8.8-4.9-6-4.4-4.1-4.7-1.6-4zM293.3 536.4l2 2.5 0.6 2.8 0.3 8-1 6-1.9 4.1-2 1.3-2-1.1-1.9-4.3-0.6-8 0.5-4 2-4.9 2-2.2zM651.3 538.8l2 0.2 2 1.1 4 4.6 10 20.9 1.2 4.1-0.6 4-1.4 2-3 2-10.3 0-1.9-1.1-3-2.9-3.1-6-1.8-8-0.2-10 2.1-7.5 1.9-2.5zM833.3 545.2l2 0.7 2 1.9 1.6 3.9 0.4 4-0.8 4-2.1 4-3.1 2.5-2 0.3-2-0.6-2.2-2.2-1.5-4-0.4-4 0.7-4 2.2-4 2.5-2zM908.1 559.7l1.7-4 4-4 3.4-2 5.7-2 6.4-1.1 8-0.4 12 1.7 6 2 6 2.9 4.3 2.9 4.3 4 2.9 4 1.9 4 1.1 6-0.6 4-63 0-3.6-8-0.9-6zM1018 573.7l2.3-6 5-5.2 6-3.1 8-1.5 8 1.2 5.3 2.6 2.7 2.4 2.5 3.6 1.3 6-0.6 4-40.4 0z" fill="#e2481a" fill-rule="evenodd"/>
<path d="M813.4 349.7l15.2 0-0.8 6-2.5 4.6-2 1.6-2 0.6-2-0.3-2-1.3-2-2.7-1.1-2.5zM819.3 485.8l4-0.1 4 1.7 2.6 2.3 2.3 4 0.7 4-1 6-2.6 3.7-4 2.4-2 0.3-4-0.5-3.4-1.9-3.5-4-1.5-4 0.3-6 2-4 2-2zM1163.3 499.7l4-1.7 4-0.1 4 1.5 2 1.3 4 3.7 10 12.7 12 11.3 6.1 7.3 5.8 10 3.9 12 1 10-0.7 6-1.2 4-36 0-6.4-8-4.6-8-3.5-8-8.6-22-2.7-10-0.3-6 0.8-6 2.6-6zM469.3 504.4l2 0.2 2 2.6 2 4.2 2 7 0.6 5.3-0.1 6-1.6 6-0.9 1.8-2 1.9-2 0.2-2-1.4-1.5-2.5-1.9-8-0.1-4 1.6-14zM367.3 531.8l2 0.2 2 1.4 2 3.3 2.1 7 0.5 6-0.7 8-1.9 6.3-2 3.1-2 1.4-2 0.1-2-1-2.7-3.9-1.8-6-0.7-6 0.3-6 1.2-6 1.6-4 1.4-2zM651.3 546.6l2-0.4 2 1.1 2 2.3 6.6 14.1 1.5 4 0.2 2-0.4 2-2 2-3.9 0.7-2.7-0.7-3.3-2.4-2.3-3.6-1.7-5-0.8-7 0.7-6zM914.6 563.7l1.6-4 1.6-2 3.5-3 4-2.1 6-1.7 6-0.7 6 0.3 6 1.1 6 2 4 2 4 2.7 3.5 3.4 2.8 4 1.5 4 0.2 6.5-0.4 1.5-53.5 0-1.9-4-1.1-4zM153.6 577.7l2.3-4 1.9-2 3.5-2.6 6-2.9 14-3.5 16-1.2 14 1 13.2 3.2 6.8 3 4.5 3 2.1 2 2.6 4zM1022.4 573.7l1.4-4 3.4-4 6.1-3.3 6-0.9 6 1 5.5 3.2 2.8 4 1 4-0.5 4-31.7 0z" fill="#e03510" fill-rule="evenodd"/>
<path d="M815.4 349.7l11.2 0-1.2 6-2.1 2.7-2 0.8-2-0.4-2-1.9-1.4-3.2zM819.3 488.6l4-0.2 2 0.8 2.9 2.5 1.8 4 0.1 4-0.8 2.5-2 2.7-2 1.3-2 0.6-4-0.5-2-1.1-2-2-1.7-3.5-0.3-4 1.6-4 2-2zM1165.3 501.9l2-0.8 4-0.1 2.2 0.7 3.8 2.5 4 4.7 8 11.7 14 13.4 5.8 7.7 4.2 8.9 1.6 5.1 1 6 0.1 4-0.8 6-2.6 6-24.5 0-6.1-6-4.3-6-5-10-5.3-14-6.5-14-1.8-6-0.5-6 0.9-6 1.8-4zM471.3 516.6l2 1.2 1.3 3.9 0.5 4-0.5 4-1.3 2.9-2 0.5-2-3.2-0.5-4.2 0.5-6zM367.3 535l2.6 0.7 1.4 1.3 1.5 2.7 1.1 4 0.7 6-0.4 6-1.7 6-1.2 2.2-2 1.8-2 0.2-2-1.3-2-3.2-1.2-3.7-0.7-6 0.3-6 1.6-6.2 2-3.3zM920.4 565.7l1.8-4 1.9-2 5.2-3.4 8-2.1 6 0 4 0.6 8.6 2.9 3.3 2 4.1 3.7 1.8 2.3 1.8 4 0.3 6-0.5 2-44.3 0-2.3-6zM1049.5 573.7l-0.5 4-21.7 0-0.1-4 2.1-4 4-2.9 4-1.1 4 0.2 4 1.5 2.5 2.3zM166.4 577.7l4-4 3.4-2 5.1-2 8.4-1.9 10-0.7 10 0.7 8.6 1.9 8.5 4 4.1 4z" fill="#de2008" fill-rule="evenodd"/>
<path d="M818.4 349.7l5.3 0-0.1 2-1.2 2-1.1 0.8-2-0.9zM821.3 491.6l2 0.4 2 1.4 1.3 2.3 0.3 2-1.7 4-1.9 1.1-2 0.2-2.8-1.3-1.5-2-0.5-2 0.1-2 1-2 1.7-1.5zM1165.3 505.7l4-1.5 4 0.9 2 1.4 4.3 5.2 7.7 13.5 14 12.8 5.5 7.7 2.5 5.4 1.4 4.6 0.8 8-0.5 4-1.4 4-2.3 3.1-2 1.4-2 0.9-4 0.3-6-1.8-4-2.7-4-3.8-5.2-7.4-2.9-6-4.9-14-7.8-14-2.4-6-0.8-5.6 0.5-4.4 1.5-3.6zM367.3 538.3l2 0.3 2 2.3 1.5 4.8 0.5 3.8-0.5 6.2-1.5 4.6-2 2.3-2 0.2-2-1.6-2.2-5.5-0.3-4 0.8-8 1.7-3.8zM925.8 567.7l2.1-4 2.1-2 3.6-2 7.7-1.6 6 0.5 4 1.1 4 1.9 4.7 4.1 2.2 4 0.6 2-0.2 4-0.6 2-34.2 0-1.9-4-0.5-4zM179.2 577.7l3-2 5.3-2 9.8-1.2 10.5 1.2 5.4 2 2.9 2zM1035.8 573.7l1.5-0.9 2 0 1.5 0.9 0.5 2.2-1.7 1.8-2.8 0-1.7-2z" fill="#dc0000" fill-rule="evenodd"/>
</g>
<rect x="101.3" y="355.7" width="1153.2" height="216.8" fill="none" stroke="#2a2a3a" stroke-width="1.3"/>
<line x1="95" y1="356.8" x2="101.3" y2="356.8" stroke="#2a2a3a" stroke-width="1.3"/>
<line x1="1254.5" y1="356.8" x2="1260.5" y2="356.8" stroke="#2a2a3a" stroke-width="1.3"/>
<line x1="95" y1="428.3" x2="101.3" y2="428.3" stroke="#2a2a3a" stroke-width="1.3"/>
<line x1="1254.5" y1="428.3" x2="1260.5" y2="428.3" stroke="#2a2a3a" stroke-width="1.3"/>
<line x1="95" y1="501" x2="101.3" y2="501" stroke="#2a2a3a" stroke-width="1.3"/>
<line x1="1254.5" y1="501" x2="1260.5" y2="501" stroke="#2a2a3a" stroke-width="1.3"/>
<line x1="95" y1="572.5" x2="101.3" y2="572.5" stroke="#2a2a3a" stroke-width="1.3"/>
<line x1="1254.5" y1="572.5" x2="1260.5" y2="572.5" stroke="#2a2a3a" stroke-width="1.3"/>
<line x1="101.3" y1="351.2" x2="101.3" y2="355.7" stroke="#2a2a3a" stroke-width="1.3"/>
<line x1="101.3" y1="572.5" x2="101.3" y2="577.5" stroke="#2a2a3a" stroke-width="1.3"/>
<line x1="389" y1="351.2" x2="389" y2="355.7" stroke="#2a2a3a" stroke-width="1.3"/>
<line x1="389" y1="572.5" x2="389" y2="577.5" stroke="#2a2a3a" stroke-width="1.3"/>
<line x1="678.4" y1="351.2" x2="678.4" y2="355.7" stroke="#2a2a3a" stroke-width="1.3"/>
<line x1="678.4" y1="572.5" x2="678.4" y2="577.5" stroke="#2a2a3a" stroke-width="1.3"/>
<line x1="966" y1="351.2" x2="966" y2="355.7" stroke="#2a2a3a" stroke-width="1.3"/>
<line x1="966" y1="572.5" x2="966" y2="577.5" stroke="#2a2a3a" stroke-width="1.3"/>
<line x1="1254.3" y1="351.2" x2="1254.3" y2="355.7" stroke="#2a2a3a" stroke-width="1.3"/>
<line x1="1254.3" y1="572.5" x2="1254.3" y2="577.5" stroke="#2a2a3a" stroke-width="1.3"/><rect x="1275.3" y="357.10" width="13.6" height="10.93" fill="#dc0000"/><rect x="1275.3" y="367.43" width="13.6" height="10.93" fill="#de2008"/><rect x="1275.3" y="377.77" width="13.6" height="10.93" fill="#e03510"/><rect x="1275.3" y="388.10" width="13.6" height="10.93" fill="#e2481a"/><rect x="1275.3" y="398.43" width="13.6" height="10.93" fill="#e3621e"/><rect x="1275.3" y="408.77" width="13.6" height="10.93" fill="#e88a28"/><rect x="1275.3" y="419.10" width="13.6" height="10.93" fill="#ecb034"/><rect x="1275.3" y="429.43" width="13.6" height="10.93" fill="#f0d43c"/><rect x="1275.3" y="439.77" width="13.6" height="10.93" fill="#ffff20"/><rect x="1275.3" y="450.10" width="13.6" height="10.93" fill="#d2ff3c"/><rect x="1275.3" y="460.43" width="13.6" height="10.93" fill="#aeff3e"/><rect x="1275.3" y="470.77" width="13.6" height="10.93" fill="#9cfd3c"/><rect x="1275.3" y="481.10" width="13.6" height="10.93" fill="#90f53e"/><rect x="1275.3" y="491.43" width="13.6" height="10.93" fill="#6cae52"/><rect x="1275.3" y="501.77" width="13.6" height="10.93" fill="#4a7f80"/><rect x="1275.3" y="512.10" width="13.6" height="10.93" fill="#2a44b8"/><rect x="1275.3" y="522.43" width="13.6" height="10.93" fill="#0000f5"/><rect x="1275.3" y="532.77" width="13.6" height="10.93" fill="#2020f5"/><rect x="1275.3" y="543.10" width="13.6" height="10.93" fill="#3a30f0"/><rect x="1275.3" y="553.43" width="13.6" height="10.93" fill="#5a48f0"/><rect x="1275.3" y="563.77" width="13.6" height="10.33" fill="#8c6cf5"/><rect x="1275.3" y="387.50" width="13.6" height="1.2" fill="#8b2a10"/><rect x="1275.3" y="397.83" width="13.6" height="1.2" fill="#5a200a"/><rect x="1275.3" y="408.17" width="13.6" height="1.2" fill="#c07030"/><rect x="1275.3" y="480.50" width="13.6" height="1.2" fill="#4a8a20"/><rect x="1275.3" y="490.83" width="13.6" height="1.2" fill="#3d6a30"/><rect x="1275.3" y="563.17" width="13.6" height="1.2" fill="#4a3a8a"/>
<clipPath id="cpA"><rect x="95.7" y="69" width="1157.3" height="220"/></clipPath><g clip-path="url(#cpA)">
<path d="M129.5 71v1H128v1H124.7v1H123.3v1H126.1v1H127.5v1H126.3v1H124.2v1H127.8v1H126v1H124.5v1H125.2v1H126v1H128.9v1H127.1v1H125.9v1H123.9v1H123.3v1H126.6v1H128.8v1H129.5v1H128.1v1H126.1v1H124.3v1H134.9v1H146.8v1v1v1H136.3v1H129.9v1H125.2v1H124v1H125.4v1H129v1H126.5v1H125.3v1H124.2v1H123.3v1H127.8v1H129v1H132.1v1H127.4v1H128.2v1H125.2v1H129.1v1H128.6v1H131.6v1H136.8v1H140.8v1H138.6v1H136.7v1H130.8v1H127.6v1H123.7v1H124.5v1H125.7v1H125.3v1H123.3v1v1H124.6v1H123.3v1H124.9v1H126.7v1H129.3v1H128.5v1H130.2v1H129.9v1H132.7v1H132v1H130.3v1H129.2v1H129.6v1H131.5v1H136.6v1H136.2v1H133.6v1H132.4v1H130.6v1H125.8v1H123.8v1H124.5v1H123.6v1H123.3v1v1H123.4v1H124.1v1H123.3v1v1v1v1H124.1v1H123.8v1H127.2v1H130.3v1H131.5v1H129.8v1H129.3v1H127.6v1H130.7v1H130.6v1H130.4v1H132.6v1H132.7v1H131.1v1H131.9v1H131v1H127.8v1H127.2v1H126.1v1H129.3v1H129.2v1H129.9v1H123.8v1H123.3v1H126.5v1H128.7v1H126.4v1H124.9v1H123.3v1H126.3v1H129.6v1H129.9v1H130.6v1H127.6v1H127.1v1H125.5v1H125.9v1H127.6v1H124.8v1H126.7v1H127.1v1H124.9v1H125.2v1H124.1v1H127.7v1H127.3v1H125.2v1H123.3v1v1H124.2v1H127.2v1H126.6v1H127.7v1H125.5v1H127.9v1H134v1H144.1v1H146.8v1v1H140.9v1H129.3v1H124.6v1H126.6v1H126.8v1H124.7v1H126.8v1H124.1v1H123.3v1H126.6v1H124v1H123.4v1H126.1v1H126.8v1H128v1H128.5v1H125.8v1H125.6v1H129.6v1H131.1v1H133.3v1H134.4v1H134.5v1H134.6v1H130.7v1H130.5v1H126v1H127.9v1H128.6v1H131v1H131.6v1H131v1H126.5v1H126.6v1v1H125.8v1H123.6v1H123.3v1v1H125.4v1H125.7v1H123.4v1H123.3v1v1H124.1v1H123.3v1H124.4v1H126.9v1H130.1v1H132.6v1H136.4v1H135.5v1H128.8v1H126.1v1H125.1v1H123.5v1H126.5v1H125.2v1H128.4v1H127.2v1H131v1H126.1v1H123.3v1v1H123.4v1H127.6v1H125.6v1H119.3v-1v-1v-1v-1v-1v-1v-1v-1v-1v-1H119.2v-1H118.5v-1H119.3v-1v-1v-1v-1H118.1v-1H119.1v-1H117.2v-1H116.4v-1H117.7v-1H118.4v-1H118.7v-1H119.3v-1v-1v-1H117.5v-1H117.6v-1H117.1v-1H118.3v-1H119.3v-1v-1H119.1v-1H119.3v-1H118.7v-1H116.9v-1H117.6v-1v-1H118.9v-1H118.1v-1v-1H119.3v-1v-1v-1v-1v-1H118.2v-1H118.7v-1H117.2v-1v-1H119.3v-1v-1v-1v-1v-1v-1H119.2v-1H117.2v-1H118.8v-1H117.1v-1H118.1v-1H118.4v-1H119.2v-1H118.4v-1H118.2v-1H118.3v-1H112.7v-1H109.4v-1H108.8v-1H110.8v-1H113.8v-1H117.5v-1H119.3v-1v-1v-1H118.7v-1H119.3v-1v-1H118.1v-1H117.4v-1H119.1v-1H118.9v-1H119.3v-1v-1v-1v-1H119.1v-1H119.3v-1v-1H119v-1H117.1v-1H117.5v-1H119.3v-1H118.7v-1H119.2v-1H119.3v-1H118.5v-1H118.7v-1H118.9v-1H118.2v-1H117.8v-1H118.9v-1H115.4v-1H117.7v-1H118.5v-1H119.3v-1v-1H119.1v-1H119.2v-1H119.3v-1H115v-1H115.1v-1H116.4v-1H117.5v-1H118.2v-1H118v-1H116.6v-1H119v-1H119.3v-1v-1H118.2v-1H119.3v-1v-1H118.9v-1H119.3v-1H118.5v-1H119.3v-1v-1v-1v-1H118.8v-1H117.7v-1H118.6v-1H118.7v-1H118.1v-1H119.3v-1H118.6v-1H118.3v-1H118.7v-1H119.3v-1v-1v-1H118.5v-1H117.4v-1H116.2v-1H119.3v-1v-1H119.1v-1H116.8v-1v-1H115.6v-1H114.9v-1H115.3v-1H115.8v-1H119.3v-1H117.7v-1H117.6v-1H117.7v-1H118.4v-1H117.9v-1H119.3v-1H117.5v-1H116.3v-1H116.7v-1H117.9v-1H115.3v-1H116v-1v-1H116.2v-1H118.1v-1H119.3v-1H116.4v-1H115.9v-1H118.2v-1H118.5v-1H119.2v-1H116.3v-1H117v-1v-1H117.1v-1H117.3v-1H118.8v-1H117.6v-1H119v-1H119.3v-1v-1v-1H114.3v-1H108.8v-1v-1v-1H110.5v-1H116.4v-1H117.2v-1H118.6v-1H117.6v-1H118v-1H117v-1H116.4v-1H116.7v-1H117.4v-1v-1H117.6v-1H119.3v-1v-1H118.2v-1H119.3v-1H118.6v-1H117.6v-1H117.7v-1H117.6v-1H118.1v-1H119.3v-1H118.3v-1H119.2v-1H119.3ZM162.7 71v1H161.6v1H161.3v1H156.9v1H153v1H152.2v1H152v1v1v1H152.7v1H155v1v1H155.4v1H152.8v1H154.5v1H154.1v1H152.9v1H153.2v1v1H155.7v1H154.8v1H152v1v1H155.2v1H158.6v1H171.1v1H175.5v1H173.5v1H166.4v1H157.5v1H153.6v1H154.2v1H160.2v1H161v1H160.1v1H159.4v1H156.1v1H155.4v1H158.6v1H154.8v1H154.3v1H153.9v1H152.1v1H152v1H154.8v1H152.4v1H152v1H152.1v1H153.5v1H155.6v1H160.2v1H164.6v1H161.4v1H158.3v1H152.8v1H153.1v1H153.2v1H160.5v1H164.1v1H166.6v1H166v1H163v1H159.1v1H161.1v1H160.2v1H160.5v1H161.1v1H161v1H161.4v1H160.5v1H158.2v1H158.3v1H159.5v1H161.6v1H157.9v1H159.2v1H156.6v1H154.8v1H154.7v1H153.9v1H156.7v1H160.3v1H159.8v1H165.8v1H169.2v1H165.1v1H160.6v1H155v1H153.5v1H154.7v1H157.1v1H159.8v1H162.8v1H168.4v1H171.1v1H165.8v1H161.4v1H160.3v1H163.1v1H162.7v1H166.2v1H163.7v1H163.4v1H161.8v1H166v1H163.4v1H162.7v1H155.4v1H156.9v1H157.4v1H160.6v1H155.6v1H155.9v1H156v1H161.2v1H159.5v1H152.1v1H154.1v1H160.5v1H163.9v1H162v1H161.5v1H157.1v1H155.1v1H153.8v1H152v1H153v1H155.6v1H156.7v1H158.1v1H161.1v1H159.1v1H160.8v1H158.8v1H154.3v1H152.8v1H157.9v1H159.7v1H155.3v1H154v1H152v1v1H155.6v1H156.3v1H158.9v1H163.9v1H172.8v1H175.5v1H172.8v1H164.1v1H159.3v1H161.9v1H159.6v1H157.5v1H154.9v1H155.6v1H152v1v1v1v1v1H152.2v1H152.1v1H152.6v1H158v1H155.9v1H156.4v1H156.1v1H153.6v1H155.8v1H156.2v1v1H161.3v1H161.4v1H162.7v1H160.7v1H158.7v1H159.5v1H160.2v1H159.7v1H159.9v1H154.7v1H154.2v1H152v1H155.6v1H158.2v1H163.7v1H168.4v1H174.9v1H173.9v1H170.9v1H162.3v1H163.8v1H162.2v1H158.7v1H154.7v1H153.5v1H154.9v1H155.1v1H152.4v1H152v1H154.2v1H153.4v1H153.8v1H154.5v1H154v1H156.6v1H153.6v1H156.3v1H158.7v1H154.7v1H152v1H155.1v1H154.8v1H152v1H152.3v1H148v-1v-1v-1v-1v-1v-1H147.9v-1H148v-1H147.8v-1H146.9v-1v-1H148v-1v-1H147.8v-1H147.2v-1H145.6v-1H148v-1v-1v-1v-1H147.9v-1H148v-1v-1H145.3v-1H147.4v-1H147.3v-1H146.3v-1H146.2v-1H142.4v-1H142.5v-1H141.8v-1H143.3v-1H145.6v-1H147.3v-1H148v-1v-1H144.9v-1H145.6v-1H145.5v-1H147.5v-1H148v-1v-1H147.9v-1H147.4v-1v-1H147.8v-1H148v-1H147.8v-1H147.3v-1H148v-1v-1H147.9v-1H148v-1v-1H146.9v-1H147.9v-1H147.1v-1H147.5v-1H147.1v-1H147.6v-1H148v-1H146.5v-1H146.7v-1H146.9v-1H148v-1H144.5v-1H143.2v-1H137.5v-1v-1H139v-1H143.8v-1H145.4v-1H143.7v-1H143.1v-1H147v-1H146v-1H147.6v-1H147v-1H147.7v-1v-1H148v-1H146.6v-1H145.7v-1H147.4v-1v-1H147.3v-1H145.7v-1H146.5v-1H147.1v-1H148v-1v-1H147.6v-1H148v-1H147.1v-1H147.4v-1v-1H146.5v-1H146.2v-1v-1H145.7v-1H147.2v-1H147.6v-1H145.7v-1H146.2v-1H147.1v-1H147.6v-1H148v-1v-1v-1v-1v-1v-1v-1v-1v-1v-1v-1v-1H147.5v-1H145.3v-1H146.7v-1H148v-1v-1v-1v-1H147.7v-1H147v-1H145.4v-1H144.3v-1H144.6v-1H145v-1H148v-1v-1H146.8v-1H148v-1H147.7v-1H146.5v-1v-1H147.3v-1H146.8v-1H148v-1v-1H147.2v-1H146.8v-1H146v-1H148v-1H147.7v-1H147.1v-1H148v-1v-1H146.6v-1H143.8v-1H146.3v-1H146.5v-1H148v-1H146.4v-1H147.6v-1H148v-1v-1H145.8v-1H146.8v-1H148v-1v-1H146.7v-1H146.6v-1H147.8v-1H148v-1H146.7v-1H147.2v-1H147.1v-1H147.8v-1H147.9v-1H147.4v-1H148v-1v-1H147.3v-1H147.4v-1H146.8v-1H147.5v-1H148v-1H147.3v-1H148v-1v-1H147.1v-1H148v-1v-1H144.8v-1H138.2v-1H137.5v-1v-1H141.7v-1H145.4v-1H147.9v-1H148v-1v-1v-1H147.2v-1H148v-1H147.1v-1H148v-1H147.2v-1H147.5v-1H148v-1v-1v-1v-1H147v-1H147.4v-1H148v-1v-1v-1H147.7v-1H146.5v-1H145.7v-1H147.1v-1ZM189.7 71v1H187.6v1H184v1H180.7v1v1H182.7v1H187.5v1H185.5v1H187.7v1H183.7v1H183.5v1H182.2v1H181.6v1H181.1v1H183.1v1H185.7v1H186.5v1H188.2v1H186.8v1H185.6v1H185.8v1H183.2v1H182.8v1H184.5v1H191.5v1H203.2v1H204.2v1v1H197.6v1H190.4v1H186.5v1H185.7v1H187.5v1H187.3v1H185.8v1H182.4v1H181.8v1H184.3v1H181.9v1H185.1v1H188v1H189.1v1H193.1v1H190.9v1H187.3v1H187v1H190.9v1H195.1v1H195.5v1H197.6v1H195.2v1H192.8v1H187.6v1H180.7v1v1H186.4v1H187.2v1H183.6v1H180.7v1H181.4v1H186.7v1H187v1H190v1H188.9v1H181v1H183.4v1H180.7v1H183.5v1H184.6v1H185.4v1H188.1v1H184.6v1H183.2v1H186v1H185.6v1H183.7v1H181.8v1H180.7v1v1v1H182v1H185v1H184.5v1H185.4v1H184.2v1H180.8v1H182.8v1H183.1v1H182.9v1v1H180.7v1v1v1H181.4v1H181v1H182.2v1H184.7v1H184.8v1H184.6v1H184.2v1H180.7v1v1v1H182.3v1H181.6v1H181v1H185.4v1H181.4v1H184.4v1H186.9v1H187.7v1H186.9v1H185.5v1H182.8v1H180.7v1H180.9v1H180.7v1H183.2v1H183.7v1H181v1H182.6v1H180.7v1v1H183.7v1H184v1H184.1v1H182.9v1H186.2v1H185.9v1H184.6v1H184.2v1H182.9v1H182.6v1H185.4v1H187v1H186.3v1H184.9v1H182.3v1H184v1H183.3v1H181.9v1H184.3v1H185.3v1H185.4v1H191.6v1H200.6v1H204.2v1H202.8v1H194.6v1H188.2v1H187.4v1H184.9v1H188.3v1H190.3v1H191.6v1H190.5v1H184.5v1H185.1v1H186.6v1H190.6v1H189.2v1H192.8v1H191.8v1H189v1H183.1v1H183.7v1H186.7v1H185.6v1H187.4v1H187.6v1H189.9v1H190.3v1H189.5v1H186.1v1H183.7v1H181.6v1H182v1H181.5v1H183.3v1H180.7v1H181.9v1H180.7v1v1v1H183v1H185.5v1H184v1H184.7v1H184.2v1H185.1v1H183.4v1H185.3v1v1H184.8v1H185.3v1H182.8v1H185v1H182.8v1H184v1H181.7v1H183.4v1H186.2v1H183.9v1H185.5v1H183.7v1H185v1H187.6v1H188.4v1H191.8v1H193.2v1H192.8v1H194.6v1H189.4v1H188.4v1H183.4v1H180.7v1H176.1v-1H176.3v-1H176.5v-1H175.6v-1H174.9v-1H175.6v-1H176.7v-1v-1H175.7v-1H174.7v-1H174.4v-1H174v-1H176.1v-1H176.7v-1H176.4v-1H175.7v-1H176.7v-1v-1v-1v-1H176.2v-1H176.4v-1H176.7v-1v-1v-1v-1v-1v-1v-1H175.5v-1H176.6v-1H176.4v-1H176.7v-1v-1v-1H176.1v-1H176.7v-1v-1v-1H176.6v-1H176.7v-1v-1H175.9v-1H176.7v-1v-1v-1v-1v-1v-1H175.6v-1H173.4v-1H173.7v-1v-1H171.9v-1H172.9v-1H173.9v-1H174.9v-1H175.8v-1H174.7v-1H176.3v-1H176.7v-1H175.6v-1H172.5v-1H175v-1H176.7v-1H175.7v-1H176.2v-1H171.9v-1H167.7v-1H167.1v-1H170.3v-1H172.8v-1H175.4v-1H174.9v-1H176.7v-1v-1v-1v-1v-1v-1v-1H175.1v-1H176.7v-1v-1H176.2v-1H176.7v-1v-1H176.6v-1H176.2v-1H174.8v-1H175.9v-1H176.6v-1H176.5v-1H176.7v-1v-1H175.5v-1H175.3v-1H176.5v-1H176.1v-1H175.5v-1H174.1v-1H172.6v-1H174.4v-1H172.7v-1H173.9v-1H174.5v-1H176.7v-1v-1H176.1v-1H176.7v-1H176v-1H176.7v-1H175.6v-1H175.5v-1H174.8v-1H176.1v-1H175.9v-1H176.4v-1H176.7v-1H176.4v-1H176.7v-1H176.5v-1H176.7v-1v-1v-1H176.1v-1H176.7v-1v-1v-1v-1H176.6v-1H176.3v-1H176.6v-1H176.7v-1H176.4v-1H175.4v-1H174.2v-1H174.7v-1H176.2v-1H175.2v-1H175.6v-1H175.4v-1H175.8v-1H175.7v-1H176.7v-1H173.2v-1H173.6v-1H175.1v-1H174.1v-1H176.7v-1v-1H175.9v-1H175.8v-1H176.7v-1H175.8v-1H176.6v-1H176.7v-1H175.9v-1v-1H176.7v-1H175.9v-1H174.2v-1H175.1v-1H176.4v-1H176v-1H175.5v-1H176.7v-1H174.9v-1H175.7v-1H175.5v-1H175.3v-1H175.4v-1H172.9v-1H173.6v-1H174.5v-1H176v-1H176.7v-1H176v-1H175.6v-1H176.2v-1H176.7v-1H176.2v-1H176.7v-1v-1v-1v-1v-1H171.3v-1H168.1v-1H167.5v-1H170.1v-1H172.8v-1H175.3v-1H173.8v-1H175.4v-1H175.9v-1H175.4v-1H175.7v-1H176.7v-1v-1v-1H176.3v-1H175.5v-1H175.4v-1v-1H176.7v-1v-1H176.5v-1H176.7v-1v-1H176v-1H176.7v-1v-1v-1v-1ZM210.6 71v1H210.7v1H211.4v1H209.5v1v1H210.1v1H212.1v1H210.5v1H213.5v1H210.6v1H209.7v1H211.4v1H213.3v1H212.5v1H211.1v1H211.9v1H212.7v1H216.8v1H216.5v1H214.6v1H214v1H209.5v1H211.4v1H214.6v1H217.7v1H225.9v1H232.6v1H233v1H230.9v1H220.4v1H217.3v1H213.9v1H213.6v1H212.9v1H209.9v1H209.5v1H209.8v1H212.1v1H212.5v1H214.6v1H213.5v1H212.9v1H213v1H209.6v1H209.5v1H209.9v1H210.5v1H214.3v1H209.6v1H215.3v1H213.3v1H212.9v1H209.5v1v1H212.2v1H210.6v1H210.8v1H213.3v1H219v1H219.5v1H218.8v1H218.4v1H218v1H215.4v1H213.4v1H209.5v1H210.7v1H212.7v1H216.7v1H217.6v1H215.2v1H216.6v1H218.5v1H216.7v1H215.4v1H216.6v1H214.1v1H210.8v1H210.4v1H209.5v1v1v1v1H210.4v1H209.5v1v1H210.1v1H210.9v1H209.9v1H212.4v1H212.2v1H214.1v1H215v1H210.6v1H210.8v1H211.4v1H212.1v1H211.6v1H210.7v1H211.4v1H211.2v1H214.8v1H219v1H226.5v1H227.8v1H220.6v1H214.9v1H219.6v1H226.7v1H229.9v1H229v1H228.3v1H227.6v1H227.9v1H232.5v1H230.6v1H228v1H226.5v1H223v1H222.3v1H221.1v1H216.9v1H220.4v1H223v1H220.9v1H216.4v1H213v1H210v1H209.5v1v1H214v1H217.9v1H219.5v1H214.7v1H214.6v1H210.8v1H211v1H212.2v1H216.8v1H212.1v1H210.1v1H214.5v1H215.1v1H216.4v1H226.2v1H233v1v1v1H221.4v1H212.4v1H212.7v1v1H212.5v1H213.7v1H214.5v1H218.4v1H218v1H218.5v1H218v1H217.6v1H216v1H214.6v1H210.9v1H209.5v1v1v1H210.2v1H212.9v1H216v1H214.7v1H216v1H210.9v1H210.6v1H210.8v1H212.2v1H210.6v1H210.3v1H210.1v1H211.3v1H209.5v1H210.8v1H213v1H209.5v1v1H211.3v1H213.9v1H215.9v1H218.4v1v1H215.6v1H215.5v1H215.7v1H213.7v1H213.8v1H214.9v1H213.7v1H213.5v1H212.6v1H212.3v1H214.3v1H214.2v1H215.7v1H215.9v1H212.4v1H211.6v1H212v1H213.3v1H209.7v1H209.5v1H213.2v1H212.4v1H210.5v1H209.5v1H212.5v1H209.5v1H212.5v1H205.5v-1v-1v-1v-1H205.2v-1H204.4v-1H205.5v-1H204.1v-1H202v-1H203v-1H204.8v-1H205.1v-1H205.5v-1H204.8v-1H205.5v-1v-1H205v-1H202.2v-1H199.1v-1H200.1v-1H201.5v-1H203v-1H201.8v-1H202.2v-1H204.1v-1H205.4v-1H204.8v-1H204.2v-1H204.3v-1H205.5v-1v-1H204v-1v-1H205.5v-1H204.4v-1H203.4v-1H204.4v-1H202.1v-1H204v-1H203.3v-1H204.9v-1H205.4v-1H205.5v-1H203.6v-1H203.8v-1H201.1v-1H205.5v-1H203.2v-1H204.4v-1H205.5v-1H204.5v-1H202.5v-1H204.9v-1v-1H205.1v-1H202.7v-1H202.1v-1H202.4v-1H202.9v-1H202.7v-1H205.2v-1H204.8v-1H205.5v-1v-1v-1v-1H204.2v-1H200.1v-1H195v-1v-1H195.5v-1H199.5v-1H203.5v-1H204.9v-1H204.4v-1H205.1v-1H205.2v-1H204v-1H204.3v-1H205v-1H205.4v-1H204.2v-1H203.4v-1H204.1v-1H203v-1H203.5v-1H201.3v-1H202.9v-1H205.5v-1H202.7v-1H200.6v-1H199.5v-1H203.5v-1H204.3v-1H202.7v-1H205v-1H205.5v-1H202.3v-1H203.5v-1H202.7v-1H205.4v-1H203.5v-1H202.8v-1H201.7v-1H204.3v-1H205.5v-1v-1H203v-1H202.9v-1H204.7v-1v-1H205.5v-1H204.5v-1v-1H203.4v-1H204.2v-1H204.9v-1H205.2v-1H205.5v-1H204.5v-1H205.5v-1H204.3v-1H205.3v-1H204.6v-1H204.9v-1H203.2v-1H203.6v-1H203.7v-1H205.4v-1H204.9v-1H205.5v-1H204.2v-1H203.8v-1H204.1v-1H204.6v-1H204.7v-1H204.3v-1H205.5v-1H204.8v-1H205.3v-1H205.5v-1H204.7v-1H205.5v-1v-1v-1v-1H202.3v-1H203.1v-1H203.3v-1v-1H205v-1H203.8v-1H204.1v-1H204v-1H205.2v-1H204.4v-1H203.4v-1H205.5v-1H204.1v-1H205.5v-1v-1H205v-1H204.8v-1H205.5v-1v-1H205.2v-1H205.5v-1H205.4v-1H205.5v-1H205.4v-1H205.1v-1H203.7v-1H204.9v-1H203.8v-1H204.4v-1H205v-1H204.6v-1H205.5v-1H205.1v-1H205.5v-1v-1v-1v-1v-1H205.4v-1H202.4v-1H200.4v-1H198v-1H195v-1H195.2v-1H198.3v-1H203.1v-1H203.6v-1H204.5v-1H205.5v-1v-1H205.1v-1H205.5v-1v-1v-1v-1v-1v-1H205.4v-1H205.5v-1v-1H204.1v-1H205.3v-1H205.2v-1H203.6v-1H204v-1H205v-1H205.5v-1v-1H202.6v-1H202.1ZM248 71v1H246.4v1H242v1H241.4v1H244.4v1H248.8v1H247.2v1H244.6v1H244.5v1H242.1v1H245v1H245.1v1H243.7v1H240.1v1H240.4v1H240.3v1H238.2v1H239.1v1H240.7v1H244v1H241.8v1H242.2v1H246.5v1H254.9v1H259.5v1H261.7v1v1v1H261.5v1H253.7v1H244.4v1H238.2v1H242.3v1H246v1H248.5v1H246v1H241.9v1H238.7v1H243.9v1H245.6v1H247.7v1H246v1H243.3v1H245.3v1H245.7v1H243.3v1H242.9v1H239.7v1H238.2v1v1H239.6v1H238.2v1H239.2v1H238.2v1v1H238.3v1H238.2v1H239.1v1H239.6v1H238.2v1v1H238.6v1H238.2v1v1H240.4v1H238.3v1H238.9v1H238.3v1H238.2v1v1H238.6v1H241.6v1H240.3v1H240.8v1H238.2v1H238.4v1H238.2v1H238.3v1H240.2v1H240.5v1H241.9v1H238.2v1v1v1H239.1v1H238.2v1H238.6v1H239.9v1H241.5v1H240.7v1H239.3v1H238.9v1H238.2v1v1v1v1v1H239.9v1H244.4v1H242.4v1H240.6v1H241.5v1H239.8v1H241.8v1H241.5v1H242v1H244.1v1H243.2v1H239.1v1H238.2v1H238.3v1H241.9v1H243v1H246.4v1H245.6v1H248.6v1H244.7v1H241.5v1H238.2v1v1H241.6v1H243.5v1H242.6v1H244.7v1H243.7v1H238.2v1v1H242.8v1H248.5v1H247.2v1H248.2v1H245.7v1H243.3v1H240.6v1H240.4v1H238.2v1H239.9v1H242.5v1H241.7v1H238.2v1H239.4v1H240.8v1H240.3v1H243.5v1H256.9v1H261.7v1v1H256.6v1H248.7v1H242.2v1H238.2v1H239v1H238.2v1H239v1H238.2v1H238.3v1H238.2v1H242.5v1H239.1v1H238.2v1H240.1v1H241.1v1H242.1v1H243.6v1H239.7v1H239.2v1H238.4v1H241.8v1H239.7v1H242.9v1H242.5v1H245v1H241.3v1H243.6v1H241.6v1H242.3v1H242.1v1H245v1H245.5v1H243.1v1H242.3v1H242.7v1H243.9v1H239.3v1H239.6v1H240.1v1H239.9v1H239.7v1H239.6v1H242.5v1H240.7v1H239.5v1H238.2v1H241v1H240.5v1H238.8v1H238.5v1H239.4v1H241.9v1H244.8v1H249.1v1v1H249v1H245.3v1H239.4v1H238.2v1v1H238.6v1H238.2v1v1H240.2v1H239.7v1H238.2v1H240.4v1H245.9v1H243.4v1H232.3v-1H231.7v-1H232.3v-1H234.2v-1H233v-1H229.5v-1H231.7v-1H233.7v-1H231.7v-1H234v-1H234.2v-1v-1H231.8v-1H232.5v-1H233v-1H234.2v-1v-1v-1H233.8v-1v-1H234.2v-1v-1H233.9v-1H233.8v-1H234.1v-1H233.7v-1H232.6v-1H234.2v-1H234v-1H234.2v-1v-1H233.8v-1H234.1v-1H234.2v-1H234.1v-1H233.5v-1v-1H232.2v-1H232.6v-1H233.5v-1H234.2v-1H233.9v-1H233.8v-1H234.2v-1H233.8v-1H234.2v-1H233.3v-1H233.8v-1H234.2v-1H234.1v-1v-1H232v-1H231.2v-1H234.2v-1v-1v-1v-1v-1v-1v-1v-1v-1v-1v-1v-1H234.1v-1H233.9v-1H231.5v-1H230.3v-1H226.2v-1H225.9v-1H228.6v-1H231.7v-1H232.9v-1H232.5v-1H234.2v-1H232.8v-1H231.3v-1H232.5v-1H231.4v-1H233v-1H233.3v-1H233.9v-1H232.9v-1H232.4v-1H234.2v-1v-1H233.7v-1H234.2v-1H233.2v-1H234.2v-1v-1v-1v-1H233.2v-1H234v-1H234.2v-1H234v-1H231.1v-1H231v-1H234.2v-1v-1H232.4v-1H232.2v-1H234v-1H233.1v-1H233.7v-1H234v-1H234.2v-1H233.9v-1H234v-1H232.8v-1H231.7v-1H231.9v-1H230.8v-1H234.2v-1v-1H233.8v-1H231.8v-1H230v-1H233.8v-1H234.1v-1v-1H233.6v-1H232.9v-1H233v-1H233.1v-1H232v-1H234.2v-1v-1H234v-1H233.7v-1H233.9v-1H234.2v-1H233v-1H234.2v-1H234.1v-1H233.8v-1H234.2v-1v-1v-1v-1H233.5v-1v-1H233.2v-1H233.4v-1H233.5v-1H234.2v-1H234v-1H234.2v-1v-1v-1v-1v-1v-1v-1v-1v-1v-1v-1v-1H233.2v-1H234.2v-1v-1v-1v-1v-1v-1v-1H233.4v-1H233.9v-1H234.1v-1H234.2v-1H232.1v-1H232v-1H231v-1H231.8v-1H232.6v-1H233v-1H232.8v-1H234.2v-1H233.6v-1v-1H234.2v-1H233.7v-1H232.2v-1H230.4v-1H226.3v-1H223.7v-1H225.6v-1H228.8v-1H232.9v-1H233.9v-1H234.2v-1H232.8v-1H233.8v-1H233.3v-1H232.4v-1H234.2v-1H233.6v-1H233v-1H233.7v-1H234.2v-1H232.7v-1H233.4v-1H234.2v-1H232.3v-1H234.2v-1v-1H233.7v-1H234.2v-1v-1v-1v-1v-1ZM268.6 71v1H272.1v1H269.9v1H273.2v1H272.7v1H272.1v1H275.8v1H276.1v1H272.4v1H269.4v1H270.3v1H268.3v1H267.7v1H266.9v1v1H268.3v1H266.9v1H267.1v1H269.3v1H267.3v1H268.3v1H268.5v1H268.8v1H266.9v1H272.4v1H278.8v1H290.4v1v1v1v1H287.9v1H276.6v1H277.2v1H270.9v1H268.1v1H266.9v1v1H268.2v1H268.4v1H268.7v1H266.9v1v1H267.9v1H269.5v1H270.6v1H270.8v1H270.3v1H272.4v1H271.4v1H270.9v1H273.6v1H271.8v1H273.9v1H275.4v1H274.7v1H271.5v1H269.3v1H267v1H266.9v1v1H269v1H268.5v1H267.2v1H266.9v1H267.1v1H268.3v1H270.6v1H273.1v1H268v1H266.9v1v1H269.1v1H267.4v1H270.8v1H272.5v1H271v1H270.7v1H268.9v1v1H266.9v1v1v1v1H268.3v1H270.8v1H267.5v1H269v1H269.1v1H267.2v1H269.4v1H271.2v1H272v1H270.1v1H266.9v1v1v1H267.1v1H268.6v1H271.1v1H274v1H274.1v1H271v1H266.9v1v1H270.1v1H274.4v1H276.1v1H280.7v1H277.3v1H272.5v1H270.5v1H270.3v1H273.1v1v1H267.8v1H267.4v1H268v1H267.9v1H269.6v1H270.2v1H270v1H273.3v1H272.6v1H274.9v1H272.5v1H275.8v1H276.5v1H275.8v1H271.6v1H266.9v1H269.7v1H276.9v1H278.6v1H277v1H272.5v1H272.9v1H272.4v1H271.7v1H267.9v1H266.9v1v1H268.7v1H272.1v1H281.3v1H289.3v1H290.4v1H289.3v1H283.5v1H272v1H270.7v1H266.9v1H267.5v1H266.9v1H271.1v1H276.6v1H277v1H273.2v1H275.1v1H272.2v1H276v1H274.3v1H274.9v1H275.4v1H272.8v1H273.7v1H270.3v1H272.9v1H271.2v1H269.4v1H269.7v1H267v1H266.9v1H270v1H270.2v1H268.8v1H267.6v1H266.9v1H268.5v1H266.9v1v1v1v1v1v1H267.1v1H270.8v1H274.1v1H278.7v1H282.2v1H281.4v1H278.8v1H274.1v1H274.7v1H273.1v1H268.4v1H267.9v1H266.9v1H269v1H271.6v1H269.3v1H269.4v1H268.6v1H270.8v1H273.5v1H278.2v1H277.4v1H274.9v1H270.9v1H267v1H271.2v1H274.4v1H277.6v1H278.6v1H276.1v1H275.8v1H277v1H261v-1H262.9v-1v-1v-1v-1v-1H260.9v-1H261v-1H259.6v-1H260.9v-1v-1H260.8v-1H260.1v-1H262v-1H262.9v-1H262.2v-1H262.9v-1H261.8v-1H262v-1H260.8v-1H261.8v-1H262.9v-1H260.4v-1H260.6v-1H260.1v-1H260.8v-1H259.7v-1H258.7v-1H261.6v-1H262.1v-1H261.6v-1H262.9v-1v-1H261.7v-1H260.9v-1H259.5v-1H260.2v-1H258.8v-1H261v-1H262.5v-1H262.9v-1v-1v-1v-1H262.3v-1H262.9v-1H262.7v-1H262.9v-1H261.9v-1H262.9v-1v-1v-1v-1v-1v-1v-1H262.7v-1H262.9v-1H262.7v-1v-1H262.9v-1H262.3v-1H260.1v-1H261.5v-1v-1H261.4v-1H262.8v-1H261.9v-1H259.5v-1H255.9v-1H253.3v-1H254.1v-1H259.5v-1H260.9v-1H262.1v-1H262.5v-1H262.9v-1H262.7v-1H262.9v-1v-1H261.9v-1H262.9v-1v-1H261.8v-1H261.9v-1H261.4v-1H259.9v-1H261.7v-1H259.9v-1H262v-1H262.9v-1H261.9v-1H262.4v-1H260.6v-1H258.7v-1H259.9v-1H261.1v-1H262.9v-1v-1H262.6v-1H262.9v-1v-1H262.6v-1v-1H262v-1H261.6v-1H261.1v-1H259v-1H259.1v-1H259v-1H258.8v-1H261.2v-1H262.9v-1v-1H262.5v-1H261.8v-1H261.9v-1H262.9v-1H262.2v-1H261v-1H262.9v-1v-1v-1H262.8v-1H262.9v-1H262.3v-1H262.9v-1v-1v-1H262v-1H262.2v-1H262.3v-1H262.9v-1H262.8v-1H262.4v-1H262.2v-1H261.4v-1v-1H261.7v-1H261.9v-1H262.6v-1H262.9v-1H262.8v-1H260.9v-1H259.9v-1H260.2v-1H260.8v-1H260.9v-1H262.6v-1H262.9v-1v-1H262v-1H262.4v-1H262.9v-1H262v-1H262.9v-1v-1v-1H262.5v-1H262.7v-1H260.8v-1H261.8v-1H261.3v-1H262.9v-1v-1v-1v-1v-1v-1v-1v-1H262.3v-1H262.7v-1H262.9v-1H260.5v-1H261.7v-1H261.4v-1H261.7v-1H261.9v-1H262.9v-1v-1v-1v-1H261v-1H260.5v-1H258.1v-1H254.1v-1H252.6v-1H255.2v-1H258.3v-1H261.3v-1H260.4v-1H262.7v-1H262.1v-1H261.8v-1H262.9v-1v-1v-1H262.4v-1H262.9v-1v-1H262.7v-1H261.9v-1H261.7v-1H261.9v-1H261.7v-1H260.9v-1H262.7v-1H262.3v-1H260.7v-1H261.8v-1H260.6v-1H261.9v-1H262.9v-1v-1H261.9ZM298 71v1H296.2v1H297.2v1H295.6v1H298.1v1H298.7v1H298.1v1H295.8v1H298.4v1H299v1H301.7v1H297.9v1H297.3v1H299.2v1H301.4v1H300.9v1H301.2v1H300.3v1H303.6v1H301.8v1H303.2v1H304.5v1H308.1v1H307.8v1H305.8v1H307.7v1H315.3v1H319.1v1v1v1H314v1H307.1v1H307.7v1H308.8v1H307.6v1H305.3v1H301.6v1H298.7v1H296v1H298.3v1H295.6v1v1H296.4v1H297.6v1H300.8v1H297.3v1H300.1v1H297.2v1H296.2v1H295.6v1v1v1H299.5v1H300.6v1H302.4v1H301.2v1H300.6v1H299.1v1H297.3v1H296.1v1H296.9v1H296.3v1H298.9v1H295.8v1H299v1H303.3v1H302.8v1H301.2v1H300.7v1H302.5v1H300.4v1H298.1v1H296.9v1H295.6v1v1H302.8v1H302.9v1H305.5v1H308.3v1H308.8v1H308.6v1H303.4v1H297.4v1H296v1H297.7v1H299.6v1H299.1v1H295.6v1v1H297.6v1H304.2v1H306.5v1H303.8v1H303.6v1H295.6v1v1v1v1H297.2v1H300.7v1H299.4v1H299.2v1H300v1H299.5v1v1H297.8v1H295.6v1v1H297.1v1H300.2v1H302.4v1H304.2v1H300.4v1H299.5v1H297.7v1H296.5v1H295.6v1H298.5v1H297.6v1H296.5v1H297.1v1H297.8v1H296.6v1H298.5v1H300.7v1H302.1v1H301.2v1H302.2v1H301.2v1H300.4v1H305.7v1H302.4v1H299.2v1H298.8v1H295.6v1v1v1H295.7v1H296.2v1H295.6v1H300.6v1H300v1H303.5v1H309.2v1H319.1v1v1v1H311.1v1H306.9v1H303.5v1H302.7v1H302.9v1H304.6v1H305.4v1H305.1v1H301.9v1H299.4v1H300.7v1H305.8v1H308.3v1H306v1H303.4v1H297.8v1H295.6v1H297.2v1H300.4v1H303.4v1H304.8v1v1H299.8v1H295.6v1H296.4v1H299.4v1H303.5v1H302.7v1H302.6v1H303v1H300.3v1H298.2v1H299.3v1H298.6v1H296.6v1H295.8v1H296.3v1H295.6v1v1H297.2v1H295.8v1H296.4v1H297.8v1H299.3v1H296.8v1H295.6v1H301.2v1H296v1v1H295.6v1v1H297.5v1H297.2v1H297.4v1H295.6v1v1H298v1H298.4v1H297.3v1H296.9v1H296.7v1H297.6v1H297.7v1H297.3v1H297.9v1H301.6v1H303.5v1H308.5v1H303.5v1H290.3v-1v-1H290.9v-1H291v-1H289.8v-1H288.9v-1H291.4v-1H291.6v-1H290.5v-1H290v-1H289.1v-1H291.5v-1H291.6v-1H290.2v-1H290.3v-1v-1H291.6v-1v-1v-1H291.5v-1H291.6v-1v-1v-1H291.4v-1H291.6v-1H291.2v-1H291.1v-1H291.6v-1H291.2v-1H291.3v-1H291.1v-1H291.6v-1v-1H291v-1H288.9v-1H291.6v-1H291.1v-1H290v-1H288.8v-1H287.9v-1H290.5v-1H289.8v-1H291.6v-1v-1v-1H291.4v-1H290.6v-1H290.2v-1H291.5v-1H291.6v-1v-1H291.2v-1H291.6v-1H290.6v-1H291.6v-1H288.3v-1H290.2v-1H290.4v-1H291.6v-1H289.3v-1H290.5v-1H286.5v-1H287.8v-1H289.4v-1H290.1v-1H290.6v-1H291.6v-1v-1H287.3v-1H283.5v-1H281.1v-1v-1H282.5v-1H288.2v-1H289.3v-1H290v-1H289.3v-1H288.4v-1H291v-1H289.9v-1H291.1v-1H290.4v-1H290.7v-1H288.6v-1H289.3v-1H291.6v-1v-1v-1v-1H291.4v-1H291.6v-1v-1H291.5v-1v-1v-1H289.1v-1H291.6v-1H290.2v-1H290.4v-1H289v-1H291.6v-1H291.2v-1H291.6v-1v-1v-1v-1v-1v-1H290.9v-1H290.5v-1H289.4v-1H291.6v-1H291.5v-1v-1H290.8v-1H290.2v-1H291.6v-1H290.7v-1H290.4v-1H291v-1H291.3v-1H291.6v-1v-1H290.6v-1H290.2v-1H290v-1H288.4v-1H290.7v-1H291.6v-1H291.3v-1H290v-1H289.9v-1H291.6v-1v-1H291.5v-1H291.6v-1H290.9v-1v-1H291.4v-1H291.6v-1v-1v-1H290.8v-1H289.3v-1H291.2v-1H290.9v-1H291.6v-1v-1v-1H291.3v-1H291.6v-1H291.5v-1H289.8v-1H290.8v-1H289.9v-1H289.8v-1H290.2v-1H289.3v-1H291.2v-1H291.6v-1v-1H290.8v-1H290.2v-1H291.3v-1H291.6v-1v-1H290.6v-1H291.6v-1v-1v-1v-1H291.2v-1H291.6v-1H290.8v-1H291.6v-1v-1H290v-1H290.2v-1H290.6v-1H290.3v-1H289.1v-1H290.5v-1H290.6v-1H288.9v-1H287.8v-1H286.4v-1H283.6v-1H281.9v-1H281.6v-1H284.8v-1H287.2v-1H287.8v-1H288.8v-1H290.7v-1H289.7v-1H288.9v-1H291.6v-1H290.6v-1H291.6v-1H290.4v-1H291.6v-1v-1v-1H290.6v-1H291v-1H291.6v-1v-1H291.3v-1H291.6v-1v-1v-1v-1v-1v-1v-1H291.5ZM324.3 71v1v1H325.4v1H327.4v1H327.7v1H326v1H325.4v1H325.2v1H325.9v1H326.2v1H328.3v1H331.2v1H332.7v1H332.6v1H335.7v1H335.8v1H333.6v1H328.1v1H326.5v1H327.9v1H327v1v1H326.8v1H324.3v1H325.8v1H325.2v1H334.3v1H347.8v1v1v1H341.6v1H335.7v1H333.3v1H333.2v1H335.3v1H338.1v1H338v1H335.5v1H332.7v1H329.5v1H329.2v1H330.4v1H330.8v1H328.3v1H328.4v1H325.8v1H329.2v1H331v1H337v1H340.1v1H337v1H338.3v1H334.2v1H331.2v1H327.4v1H326.3v1H324.3v1v1H325.2v1H325.3v1H324.3v1H327.1v1H326.6v1H325.9v1H324.3v1v1v1v1v1H325.6v1H326.1v1H325.8v1H326v1H324.3v1H324.6v1H327.1v1H326.6v1H324.3v1H326.1v1H327.5v1H330.5v1H329.1v1H326.4v1H326.2v1H326.8v1H326.5v1H324.3v1v1v1v1H327.8v1H325.7v1H329.2v1v1H330.5v1H331.1v1v1H331.3v1H331.1v1H331.5v1H333.4v1H332.9v1H333.3v1H330.1v1H326.3v1H329v1H331.1v1H334.6v1H329.4v1H330.8v1H330.1v1H328.4v1H328v1H326.4v1H329.4v1H330.3v1H327.8v1H324.8v1H326.3v1H324.3v1H325.4v1H326.6v1H329.6v1H332.9v1H327.9v1H324.3v1H328.1v1H332.6v1H331.4v1H328.8v1H332v1H333v1H335.4v1H329v1H324.3v1H327v1H328.5v1H330.8v1H329.7v1H327.8v1H329.9v1H335.2v1H339.5v1H347.8v1v1v1H345.7v1H333.5v1H326.7v1H324.3v1H327.1v1H325.6v1H324.4v1H324.3v1H327v1H330v1H331.9v1H332.6v1H335v1H336.6v1H334.4v1H338.2v1H336.7v1H334.2v1H332.7v1H329.6v1H325.2v1H324.3v1H324.5v1H324.7v1H324.3v1H326.1v1H328.9v1H328.1v1H326.3v1H329.6v1H331.4v1H332.2v1H328v1H324.6v1H324.3v1H325.5v1H330.8v1H328.5v1H325.8v1H324.3v1H328.3v1H328.2v1H327.4v1H326.5v1H324.3v1v1v1H325.8v1H327.4v1H329.1v1H330v1H329.8v1H329v1H326.1v1H326.9v1H324.3v1H325v1H324.3v1v1v1v1v1v1v1H325.5v1H326.7v1H326.5v1H328.3v1H325.4v1H329v1H316.1v-1H318.1v-1H319.3v-1H320.3v-1v-1v-1H320.1v-1H320.3v-1H319.6v-1H320.3v-1v-1v-1v-1v-1H319.5v-1H320.3v-1v-1H319.9v-1H320.3v-1H320v-1v-1H320.1v-1H319v-1H320.3v-1H318.1v-1H319.5v-1H319.3v-1H320.3v-1H320v-1H320.3v-1v-1H318.7v-1H317.9v-1H320.3v-1v-1v-1H320.2v-1H320.1v-1H320.3v-1v-1H320v-1H320.3v-1H319.3v-1H320.3v-1H320v-1H319.9v-1H319v-1H319.9v-1H320.3v-1H320.1v-1H320.3v-1H318.8v-1H320.3v-1v-1H318.1v-1H318.2v-1H317.9v-1H319.7v-1H320v-1H319.2v-1H318.4v-1H318.2v-1H316.2v-1H318.2v-1H316.8v-1v-1H319.2v-1H318.7v-1H314.5v-1H311.5v-1H309.8v-1v-1H311.5v-1H314.4v-1H314.7v-1H317.7v-1H316.6v-1H319.5v-1H318.3v-1v-1H318.2v-1H318.9v-1H318.6v-1H320.3v-1v-1v-1H319.8v-1H319.6v-1H320.3v-1v-1v-1H320.2v-1H317.9v-1H317.3v-1H318.1v-1H319.9v-1H320.3v-1v-1v-1v-1H319.3v-1H318.5v-1H315.5v-1H317.3v-1H317.4v-1H320.3v-1v-1H319.7v-1H318.1v-1H318.9v-1H319.1v-1H318.4v-1H317.3v-1H318.5v-1H318.9v-1H320v-1H319.7v-1H319.5v-1H319v-1H320.3v-1H320.1v-1H320.3v-1H319.9v-1H319.1v-1H318.9v-1H318.4v-1H320v-1H320.3v-1v-1v-1H318.8v-1H319.8v-1H319.6v-1H319.9v-1H319.2v-1H319v-1H320.3v-1v-1v-1v-1v-1v-1v-1v-1v-1v-1H319.5v-1H320.3v-1v-1v-1v-1v-1H319.7v-1H320.3v-1v-1v-1v-1H319.4v-1H320.3v-1H320.1v-1H320.3v-1v-1v-1v-1v-1H320v-1H320.3v-1v-1v-1v-1v-1v-1v-1H318.4v-1H319.2v-1H320v-1H320.3v-1H320.1v-1H320.3v-1H319.7v-1H319.4v-1H318.7v-1H319.7v-1H318.6v-1H315.3v-1H313.4v-1H311.7v-1H309.8v-1H311v-1H315.9v-1H320.3v-1v-1v-1v-1v-1v-1H319.1v-1H320.3v-1v-1H319.3v-1H319.2v-1H320.1v-1H320.3v-1H318.7v-1H320.2v-1H320.3v-1H318.6v-1H319.2v-1H318.9v-1H316.6v-1H318.9v-1H318.2v-1H317.6v-1H319.7v-1H320.3v-1ZM354.7 71v1H354.6v1H353.1v1H355.5v1H355.2v1H357.7v1H358.2v1H356.7v1H357.2v1H357v1H353.5v1H353.1v1v1H353.3v1H358.7v1H359v1H363.4v1H364.5v1H364v1H363.5v1H359.4v1H360.2v1H358.4v1H361.2v1H360.4v1H363.8v1H366.6v1H373.4v1H376.6v1v1v1H376v1H363.8v1H355.9v1H353.9v1H355v1H354.3v1H356.7v1H357.4v1H356.7v1H356v1H358.3v1H361.4v1H365v1H363.3v1v1H357.4v1H356.1v1H354.1v1H354.8v1H353.8v1H353.3v1H355.2v1H353.3v1H355.9v1H357.8v1H356.5v1H356.6v1H353.8v1H358.3v1H364.5v1H367.3v1H365.1v1H358.1v1H354.7v1H353.3v1H354.5v1H358.1v1H356.4v1H359.4v1H359v1H358.1v1H355v1H353.1v1H355.9v1H360.3v1H364.4v1H366v1H369.9v1H372.5v1H369.5v1H363.3v1H357.4v1H357v1H355.3v1H358.8v1H360.1v1H357v1H354.8v1H355.9v1H359.2v1v1H356.3v1H355.1v1H354.9v1H359.4v1H360.8v1H361.1v1H359v1H353.1v1H358.5v1H359.1v1H360.8v1H360.9v1H361.3v1H358.4v1H353.1v1H354.2v1H353.6v1H353.9v1H353.8v1H359.1v1H361.5v1H359.4v1H354.7v1H354.6v1H355.7v1H356.4v1H358.9v1H356.6v1H355.5v1H353.1v1H356.2v1H359.1v1H361v1H360.9v1H363.3v1H358v1H355.2v1H353.7v1H356.4v1H359.7v1H361.3v1H363.2v1H359.2v1H354.3v1H353.1v1H353.6v1H353.1v1H354.2v1H354.4v1H357.7v1H364.6v1H373.1v1H376.6v1v1H366.9v1H357.8v1H353.1v1v1v1v1v1H353.7v1H354v1H354.3v1H353.9v1H355.4v1H355.1v1H353.1v1v1v1H353.3v1H354.3v1H356.3v1H355.9v1H356.5v1H354v1H353.1v1H356.3v1H358.8v1H358.5v1H360.2v1H359.8v1H354.6v1H360.4v1H357.7v1H354.4v1H353.1v1H353.5v1H360.7v1H355.6v1v1H353.3v1H353.9v1H355.6v1H353.3v1H353.8v1H355.1v1H357.3v1H357.5v1H354.5v1H353.6v1H353.1v1H353.9v1H354.6v1H353.1v1v1v1v1v1H355.6v1H356.1v1H354.8v1H356.1v1H353.2v1H354.7v1H356.5v1H355.1v1H356.6v1H353.3v1H355.1v1H353.3v1H353.1v1v1H353.4v1H349.1v-1v-1v-1H348.7v-1v-1H349.1v-1v-1v-1v-1v-1v-1v-1v-1v-1v-1v-1v-1v-1v-1v-1H348.8v-1H349.1v-1v-1H347.7v-1H349.1v-1v-1H347.8v-1H349.1v-1v-1H348.2v-1H349.1v-1H348.3v-1H348.6v-1H349.1v-1H347.9v-1H348.8v-1H349.1v-1v-1H349v-1H349.1v-1v-1H349v-1H348.5v-1H349.1v-1H348.2v-1H348.4v-1H349.1v-1v-1v-1v-1v-1v-1v-1v-1v-1H348.3v-1H349.1v-1H347.7v-1H349.1v-1v-1v-1v-1v-1v-1v-1H348.9v-1H348v-1H349.1v-1H346.2v-1H342.9v-1H339.5v-1H339v-1H341.1v-1H343.5v-1H346.5v-1H348.8v-1H347.8v-1H348.2v-1H348.8v-1H348.5v-1H347.6v-1H346.8v-1H347.3v-1H349.1v-1v-1H348.4v-1H346.5v-1H346v-1H348.5v-1H347.7v-1H349.1v-1v-1H348.6v-1H347.2v-1H348.6v-1H349.1v-1v-1H348v-1H347.8v-1H348.7v-1H348.1v-1H349.1v-1H348.1v-1H348.6v-1H348.5v-1H347.5v-1H349.1v-1H347.9v-1H349.1v-1H348.5v-1H348.4v-1H347.1v-1H347.4v-1H348.6v-1H348.1v-1H348.6v-1H345.8v-1H346.9v-1H347.6v-1H348.1v-1H348.6v-1H347.5v-1H347.3v-1H345.8v-1H345.3v-1H346.5v-1H346.2v-1H347.6v-1H346.4v-1H346.8v-1H346.1v-1H347.3v-1H347.5v-1H348v-1H348.4v-1H346.9v-1H346.4v-1H344.9v-1H346.4v-1H346.8v-1H348.8v-1H349.1v-1H345.3v-1H345.6v-1H346v-1H345.6v-1H345.7v-1H346.1v-1v-1H349.1v-1v-1v-1v-1H347.8v-1H348v-1H347.3v-1H349.1v-1v-1H348.9v-1H348.5v-1H348.6v-1H347.5v-1H349.1v-1H348v-1H348.3v-1H347.5v-1H347.7v-1H349.1v-1v-1v-1v-1v-1v-1v-1v-1H348.4v-1H346.9v-1H348.5v-1H349.1v-1v-1H347.9v-1H347.4v-1H349.1v-1H348.9v-1H346.3v-1H339.1v-1H338.6v-1H339v-1H343.8v-1H347.3v-1H346.4v-1H347.6v-1H345.5v-1H345.9v-1H343.9v-1H345.9v-1H346.6v-1H347.7v-1H349.1v-1v-1H348.3v-1H349.1v-1v-1v-1H349v-1H348.8v-1H348.6v-1v-1H348.3v-1H348.1v-1H349.1v-1v-1v-1v-1H348.9v-1H347.6ZM391.3 71v1H392.5v1H391.4v1H391.3v1H388.7v1H387.6v1H382.3v1v1H381.8v1v1H385.5v1H388.9v1H391.2v1H393.6v1H394.1v1H391.4v1H389.5v1H389.2v1H386.8v1H382.2v1H383.5v1H381.8v1v1H383.5v1H381.8v1H382.3v1H383.3v1H389.9v1H405.3v1v1v1H401v1H391.8v1H388.5v1H391.1v1H391.3v1H390.8v1H391.8v1H387.2v1H390v1H394.2v1H394.4v1H389.7v1H387.3v1H384.5v1H384.9v1H383.2v1H387.2v1H389.9v1H392v1H390.9v1H387.6v1H389.3v1H388.5v1H390.6v1H387.9v1H386.8v1H389.7v1H385.6v1H386.6v1H386v1H386.6v1H387.3v1H386.6v1H384.9v1H384.8v1H384.3v1H388.7v1H387.5v1H388.3v1H383.6v1H381.8v1v1H383.3v1H383.6v1H381.8v1H385.7v1H382.7v1H383.6v1H384.5v1H382.5v1H381.9v1H384.2v1H385.2v1H385v1H383.5v1H384.2v1H384.8v1H385v1H387.4v1H386.7v1H387.4v1H384.6v1H381.8v1v1v1H383.1v1H382.4v1H381.8v1H383.5v1H386.1v1H387.1v1v1H384.8v1H381.8v1H384.7v1H385.4v1H384.1v1H383.6v1H382.6v1H386.5v1H388v1H386.3v1H388.2v1H390.5v1H392.2v1H389.9v1H386v1H382.6v1H381.8v1v1v1H384.3v1H383.4v1H381.9v1H381.8v1H383.6v1H381.8v1H384.9v1H381.8v1H383.1v1H382.3v1H385.2v1H382.6v1H381.8v1H383.8v1H386.5v1H385.6v1H388.4v1H388.5v1H389.7v1H385.1v1H393.4v1H399.6v1H405.3v1v1H400.6v1H393.6v1H388.5v1H386.3v1H381.8v1H382.7v1H384v1H381.8v1H383.6v1H385.1v1H386.3v1H387v1H389.8v1H387.3v1v1H383.4v1H383.8v1H384.5v1H385.8v1H386.5v1H390.5v1H393.7v1H394.5v1H395.5v1H396.2v1H392.1v1H388v1H384.6v1H385.2v1H384v1H383.1v1H386.7v1H386.1v1H384.2v1H381.8v1H384.6v1H384.4v1H385.5v1H385.3v1H385.4v1H384.9v1H387.4v1H387.2v1H387.3v1H385.1v1H382.8v1H384.7v1H385.3v1H384.7v1H381.8v1H385.5v1H387.8v1H388v1H389.8v1H385v1H383.6v1H381.8v1v1H382.6v1H381.8v1H384.2v1H383v1H382.2v1H381.8v1H387.3v1H390.5v1H393.8v1H390.9v1H388.4v1H384.3v1H377.8v-1H376.6v-1H376.3v-1H374.3v-1H375.4v-1H375.7v-1H377.1v-1H377.8v-1v-1v-1H377.3v-1H377.8v-1H376.7v-1H377.1v-1H377.3v-1H374.7v-1H374.4v-1H372.9v-1H374v-1H377.7v-1H377.8v-1H376v-1H374.6v-1H375.2v-1H376.3v-1H376.4v-1H377.1v-1H376v-1H376.6v-1H377.8v-1H377.3v-1H376.4v-1H374.9v-1H377.8v-1v-1v-1v-1v-1H375.1v-1H374.9v-1H373.5v-1H374.8v-1H374.2v-1H376.2v-1H377.5v-1H377.7v-1v-1H377.1v-1H375.6v-1H375.8v-1H376.3v-1H375.7v-1H377.2v-1H377.8v-1H377.7v-1H377.8v-1H377.6v-1H377.8v-1H376.7v-1H377.8v-1v-1v-1H377.7v-1H377.6v-1H376.1v-1H376.9v-1H376.1v-1H377.7v-1H374.1v-1H373.2v-1H370.4v-1H367.3v-1H370.2v-1H375.6v-1H377.8v-1v-1H376.3v-1H376.2v-1H377.7v-1H377.8v-1v-1v-1v-1v-1H377.6v-1H377.8v-1v-1H376.5v-1H376v-1v-1H376.5v-1H374.1v-1H373.2v-1H377.5v-1H377.8v-1v-1H376.8v-1H377.8v-1H377.6v-1H377.2v-1H375.9v-1H375.4v-1H377.8v-1v-1v-1H376.5v-1H376.8v-1H377.2v-1H376.3v-1H377.4v-1H377.8v-1v-1v-1v-1v-1H377.6v-1H375.3v-1H373.6v-1H374.3v-1H374.6v-1H376.4v-1H377.5v-1H376v-1H376.4v-1H377.8v-1H377.2v-1H376.5v-1H377.4v-1H377.8v-1H376.9v-1H377.8v-1v-1v-1v-1H377.6v-1H377.7v-1H377.8v-1v-1v-1v-1H375.7v-1H377v-1H377.4v-1H377.7v-1H375v-1H377.6v-1v-1H376.6v-1H376.7v-1H377.8v-1v-1v-1v-1v-1v-1H376.8v-1H377.8v-1v-1v-1H377.2v-1H377.8v-1H377.5v-1H377.8v-1v-1H376.8v-1H377.6v-1H377v-1H375.5v-1H376.5v-1H375v-1H375.9v-1H374.8v-1H373.6v-1H374v-1H373.9v-1H374.7v-1H375.3v-1H377.8v-1v-1v-1H377.3v-1H377.8v-1H375v-1H374.1v-1H369.7v-1H367.3v-1v-1H371.3v-1H375.2v-1H374.5v-1H376.7v-1H377v-1H377.4v-1H376.6v-1H377.8v-1v-1H376.8v-1H376v-1H377.8v-1H376.4v-1v-1H377.8v-1v-1v-1H377.4v-1H374.8v-1H375.9v-1H377.1v-1H377.8v-1v-1v-1v-1v-1v-1H377.1v-1H377.8ZM410.5 71v1v1v1v1v1v1v1v1H411.5v1H411.4v1H412.3v1H414.3v1H414.1v1H413.7v1H410.5v1v1H412.1v1H410.5v1v1v1H412.1v1H411.3v1H414v1H410.8v1H410.5v1H411.6v1H411.5v1H417.3v1H428.1v1H434v1v1H433.6v1H423.9v1H418.2v1H416.8v1H415.5v1H418.2v1H419.1v1H416.7v1H414.5v1v1H412v1H413.5v1H413.9v1H412.1v1H411.9v1v1H412.7v1H410.5v1v1H414.2v1H412.9v1H412.1v1H415.3v1H416v1H418.4v1H420.9v1H428.3v1H428.6v1H425.9v1H418v1H415.4v1H417.6v1H420.3v1H423v1H422.5v1H419.2v1H416.3v1H419.1v1H423.5v1H421v1H421.8v1H418.6v1H419.3v1H417.9v1H418.6v1H416.7v1H414.5v1H411.9v1H410.5v1H414.4v1H412.1v1H413.1v1H416.2v1H416.3v1H420.8v1H421.2v1H419.4v1H416.2v1H412.6v1H410.7v1H412v1H410.5v1v1v1v1H410.6v1v1H410.7v1H410.9v1H412.6v1H414.5v1H412.4v1H416.9v1H419.8v1H422.5v1H422v1H423.2v1H423.3v1H418.1v1H414v1H411.1v1H410.5v1v1H413.3v1H414.2v1H413.2v1H415v1H412.5v1H416v1H416.8v1H414.6v1H410.5v1v1H411.9v1H411.3v1H410.5v1H411.7v1H415.8v1H413.2v1H411.7v1H412.2v1H413.1v1H411v1H410.5v1v1H412.7v1H416.6v1H413.3v1H413.5v1H412.8v1H421.1v1H431.2v1H434v1v1H426.1v1H418v1H412.4v1H416.9v1H412.5v1H411.8v1H410.5v1v1v1v1H413.4v1H413.1v1H416.3v1H416.4v1H411.7v1H410.5v1H414v1H414.5v1H413v1H413.8v1H412.1v1H414v1H411v1H413.7v1H414.2v1H414.3v1H412.8v1H411.5v1H410.5v1v1v1H411.2v1H410.5v1H411.3v1H410.5v1v1v1H411.1v1H411.9v1H412.9v1H414.4v1H415.1v1H416.9v1H422.9v1H425.2v1H422.2v1H419.2v1H417.7v1H416.4v1H411.5v1H416.9v1H421.7v1H419.1v1H415.8v1H412.8v1H410.8v1H410.5v1v1v1H414.5v1H411.5v1H414.5v1H411.1v1H411.7v1v1H410.5v1v1H412.6v1H416.2v1H417.1v1H420.6v1H405.6v-1H405.1v-1H406.3v-1H406.5v-1v-1v-1v-1v-1v-1H406v-1H406.4v-1H404.9v-1H404.2v-1H404.3v-1v-1H403.7v-1H406.2v-1H406.5v-1v-1H406.4v-1H406.5v-1H405v-1H402.8v-1H406.2v-1H406.3v-1H406.5v-1H404.6v-1H403.7v-1H403v-1H404.7v-1H405.4v-1H405.6v-1H403.9v-1H405.5v-1H403.9v-1H404.5v-1H406.5v-1v-1H405v-1H403.1v-1H404.8v-1H405.9v-1H406.5v-1H405.2v-1H405.5v-1H405.9v-1H403.3v-1H406.5v-1v-1H405.9v-1H404.3v-1H404.9v-1H406.5v-1H406.2v-1v-1H406.5v-1v-1H404.3v-1H404.2v-1H403.6v-1H404.8v-1H406.4v-1H406.5v-1v-1v-1v-1H403.7v-1v-1H405v-1H403.6v-1H400.4v-1H396.7v-1H397.4v-1H397.9v-1H403.1v-1H405.5v-1H406.5v-1v-1v-1v-1v-1v-1v-1v-1v-1v-1v-1H406.3v-1H405.6v-1H404.5v-1H404.7v-1H404.6v-1H405.3v-1H405v-1H406.5v-1H405.6v-1H406.5v-1H404.7v-1H404v-1H404.5v-1H401.7v-1H403v-1H404.1v-1H404.2v-1H405.9v-1H406.5v-1v-1v-1v-1v-1H406.2v-1H404.3v-1H404.5v-1H403.8v-1H405.4v-1H406.5v-1v-1v-1v-1v-1v-1v-1v-1v-1v-1H406.4v-1H406.5v-1v-1H405.7v-1H406.3v-1H404.5v-1H405.6v-1H406.5v-1H405.7v-1H406.4v-1H405.2v-1H404.9v-1H404.4v-1H406.5v-1v-1v-1H405.8v-1H406.5v-1H404.4v-1H405v-1H406v-1H405.4v-1H405.6v-1v-1H406.5v-1v-1v-1v-1v-1H404.7v-1H403.6v-1H403.2v-1H406.4v-1H406.5v-1H405.5v-1H403.4v-1H404.1v-1H403v-1H402v-1H404.8v-1H405.7v-1H404.3v-1H404v-1H405.1v-1H406.5v-1v-1v-1v-1H405.3v-1H406.5v-1v-1v-1v-1H406.4v-1H406.5v-1H405.3v-1H405.1v-1H404.8v-1H402.7v-1H398.9v-1H399.3v-1H398.2v-1H399v-1H401.3v-1H402.1v-1v-1H402.6v-1H405.4v-1H406.2v-1H406.5v-1H405.5v-1H406.5v-1v-1v-1v-1H405v-1H406.3v-1H406.5v-1v-1v-1H405.3v-1H406.1v-1H406.5v-1H405.4v-1v-1H405.8v-1H405.9v-1H405.2v-1H405.3v-1H406.5v-1ZM440.8 71v1H444.7v1H446.7v1H446.4v1H445.5v1H444.3v1H441.4v1H439.2v1v1v1H440v1H439.4v1H441.2v1H440.3v1H439.4v1H446.5v1H448.6v1H451.4v1H453.1v1v1H450.6v1H444v1H439.6v1H443.3v1H448.2v1H450.3v1H451.1v1H449.6v1H457.2v1H462.7v1v1v1H457.4v1H449.6v1H443.1v1H440.4v1H441.1v1H444.6v1H448.8v1H452v1H450.9v1H449.9v1H445v1H441.7v1H442.1v1H444.4v1H442.1v1H441.4v1H444.9v1H442.5v1H443v1H444.9v1H445.8v1H445.5v1H443.7v1H447v1H445.3v1H445.8v1H439.3v1H439.2v1H440.2v1H439.7v1H440.9v1H439.2v1H441.3v1H439.2v1H441.2v1H439.8v1H443.6v1H444.8v1H444v1H444.6v1H445.8v1H449.4v1H450.5v1H450.7v1H447v1H442.8v1H439.8v1H442.1v1H444.7v1H447v1H447.4v1H450.2v1H449.9v1H452.1v1H450.8v1H447v1H446.2v1H444.8v1H448v1H452.9v1v1H448.8v1H447.1v1H443.6v1H443.1v1H444.2v1H442.9v1H444v1H445v1H443.1v1H443.9v1H441.5v1H441.7v1H439.4v1H439.2v1H441.5v1H442.5v1H442.2v1v1H442.1v1H443.5v1H446.3v1H445.1v1H442.8v1H440.9v1H443.3v1H446.7v1H448.4v1H443.7v1H441.6v1H443.3v1H440.4v1H442.5v1H443.3v1H444.1v1H445.5v1H439.2v1H441v1H439.2v1H439.7v1H444v1H447.4v1H449.3v1H447.2v1H445.7v1H439.5v1H439.8v1H442.7v1H446.5v1H462.3v1H462.7v1v1v1H457.2v1H450.1v1H445.7v1H442.4v1H443.3v1H442.9v1H444.7v1H440.2v1H439.2v1H440.6v1H446.3v1H443.6v1H446.9v1H446.7v1H445.1v1H446.4v1H444.3v1H444.8v1H442.3v1H440v1H441.5v1H440.9v1H440.4v1H439.5v1H439.3v1H439.2v1H439.6v1H439.9v1H440.6v1H439.4v1H439.8v1H439.7v1H439.6v1H439.2v1v1H439.9v1H442.1v1H441.8v1H439.7v1H443.5v1H444.5v1H444.2v1H445.9v1H444.4v1H443.6v1H443v1H444v1H444.5v1H448v1H450.3v1H451.9v1H447.9v1H444.3v1H443.4v1H446.6v1H448.3v1H447.3v1H443.3v1H439.7v1H441v1H439.2v1H440.2v1H442.7v1H447.3v1H450.7v1H452.6v1H457.9v1H458.6v1H460.7v1H454.9v1H445.4v1H435.2v-1H433.8v-1H434.8v-1H434.3v-1v-1H433.6v-1H433.8v-1H435.2v-1v-1v-1v-1v-1H434.5v-1H435v-1H435.1v-1H433.9v-1H435.2v-1H432.7v-1H431.8v-1H435.2v-1H434.5v-1H435.2v-1v-1H433.4v-1H433.8v-1H433.6v-1H432.7v-1H433.9v-1H435.2v-1v-1v-1v-1v-1H434.6v-1H435.2v-1H434.8v-1H435.2v-1v-1v-1v-1v-1v-1v-1v-1v-1v-1v-1v-1H435v-1H435.2v-1v-1H434.9v-1H433.8v-1H431.7v-1H433.3v-1H433v-1H435.2v-1H433.1v-1H434.3v-1H435.2v-1v-1v-1v-1v-1v-1H435v-1H435.2v-1v-1v-1H433.3v-1H432.4v-1H430.4v-1H427.1v-1H426.7v-1H428.7v-1H432.3v-1H434.3v-1H435.1v-1H435.2v-1v-1v-1v-1v-1H434.7v-1H434.8v-1H435.2v-1H434.7v-1H435.1v-1H434.4v-1H433.3v-1H433.8v-1H433.5v-1H432.9v-1H433.4v-1H434v-1H434.1v-1H435.2v-1H434.8v-1H434.9v-1H433.9v-1H434.2v-1H435.2v-1v-1v-1v-1v-1v-1H434.8v-1H432.6v-1H432.8v-1H434.1v-1H435.2v-1v-1v-1H434.9v-1H433.4v-1H434.3v-1H435.2v-1H434.8v-1H435.2v-1H434.7v-1H435.2v-1H433.8v-1H435v-1H433.3v-1H431.2v-1H433.6v-1H433.4v-1H434.5v-1H435.2v-1H432.1v-1H432.3v-1H434.2v-1H435.2v-1H434.5v-1H432.9v-1H433.9v-1H435.2v-1H434.6v-1H433.2v-1H435.2v-1H435.1v-1H435.2v-1v-1v-1H434.7v-1H435.1v-1H435.2v-1H433.6v-1H434.7v-1H435v-1v-1H434.2v-1H435.2v-1H434.3v-1H433v-1H434.4v-1H433.9v-1H435.2v-1v-1H433.8v-1H434.8v-1v-1H434.3v-1H432.9v-1H434.6v-1H435.2v-1v-1H434.4v-1H434.8v-1H435.2v-1H434.3v-1H434.2v-1H433.6v-1H433.7v-1H431.9v-1H431.7v-1H435.2v-1v-1H434.5v-1H432.4v-1H433.8v-1H434.1v-1H428.6v-1H424.7v-1v-1H427.5v-1H432.4v-1H432.5v-1H432.3v-1H434.2v-1v-1H434.4v-1H434.5v-1H432.1v-1H431.6v-1H431.8v-1H432.8v-1H434.3v-1H433.8v-1v-1H432v-1H433.4v-1H432.8v-1H433v-1H432.5v-1H432.7v-1H433.5v-1H434.4v-1H433.6v-1H433.3v-1H434.5v-1H434.4v-1H434.5v-1H434.6v-1H431.4ZM471.1 71v1H469.9v1H467.9v1v1v1H469.3v1H468.5v1H470.8v1H474v1H473.1v1H470.4v1H471.4v1H472.7v1H471.6v1H470.4v1H467.9v1v1H469.9v1H471.2v1H471.1v1H467.9v1v1H469.3v1H473.5v1H477.2v1H481.5v1H482.2v1H480v1H478.4v1H483.2v1H491.4v1v1H487.8v1H478v1H471.4v1H469.5v1H467.9v1H470.2v1H468.1v1H467.9v1v1v1H468.2v1H468v1H469.6v1H474.5v1H475.9v1H477.5v1H478.5v1H477v1H475.8v1H471.3v1H471.2v1H469.5v1H470.8v1H467.9v1H469.9v1H474.2v1H476.1v1H475v1H477v1v1H476.4v1H471.5v1H469.4v1H470.6v1H470.5v1H470.2v1H467.9v1v1v1v1v1H470.6v1H470v1H473.6v1H474.1v1H471.4v1H471.7v1H468.5v1H467.9v1v1H469.6v1H475.2v1H478v1H477.3v1H475.3v1H469.8v1H467.9v1v1H469.5v1H468v1H469.6v1H475.9v1H474.8v1H478.3v1H481.1v1H480.1v1H478.2v1H474.9v1H470.9v1H467.9v1H469v1H468v1H467.9v1v1v1v1v1H469v1H470.6v1H471.5v1H472v1H471.5v1H469v1H472.2v1H470.5v1H474.2v1H471.8v1H471.7v1H470.8v1H470v1H467.9v1H471.9v1H472.2v1H479.3v1H480.1v1H478.6v1H475.2v1H472.1v1H470.8v1H467.9v1v1H468.3v1H471.8v1H467.9v1v1H470.9v1H471.1v1H475.2v1H482.3v1H491.1v1H491.4v1H483.5v1H475.5v1H469.6v1H469.9v1H470.1v1H468.9v1H467.9v1H469.3v1H472.1v1H468.9v1H468.6v1H468.2v1H467.9v1H468.2v1H470v1H473v1H477.1v1H481v1H481.3v1H478.8v1H472.3v1H471.7v1H472.1v1v1H480.5v1H486.6v1H488.7v1H486.6v1H484.8v1H481v1H477.3v1H473.1v1H472.1v1H471.7v1H472.7v1H468.2v1H468.5v1H472.2v1H471.4v1H470.6v1H472.3v1H476.9v1H478.4v1H478.3v1H479v1H477.8v1H476.7v1H479.6v1H482v1H478.9v1H478.3v1H478.6v1H478.8v1H476.4v1H473.6v1H468.7v1H469.6v1H469.4v1H469.2v1H467.9v1H470v1H470.5v1H471.1v1H469.2v1H475.7v1H480.4v1H482.7v1H480.8v1H477.8v1H473v1H472.7v1H479v1H476.6v1H462.1v-1H463.9v-1H463.1v-1H460.3v-1H458.3v-1H459.7v-1H460.3v-1H462v-1H463.5v-1H463.9v-1H463.8v-1H461.7v-1H462.5v-1H463.1v-1H463.9v-1H462.7v-1H461.6v-1H463.8v-1H463.9v-1H463.1v-1H463.9v-1v-1H460.8v-1H463.9v-1v-1v-1v-1H463.7v-1H463.9v-1v-1H462.8v-1H463.7v-1H463.5v-1H463.4v-1H463.9v-1v-1H462.7v-1H462.8v-1H463.9v-1H463.3v-1H462.1v-1H460.6v-1H461.7v-1H463.9v-1v-1H462.4v-1H461.7v-1H463.2v-1H461.1v-1H463.9v-1v-1v-1H463.2v-1H463.9v-1H463.7v-1H463.9v-1H463.5v-1v-1H463.9v-1H462.3v-1H461.6v-1H462.8v-1H462.2v-1H463.9v-1v-1v-1v-1v-1v-1v-1H463.6v-1H461.8v-1H458.4v-1H454.6v-1H454.4v-1H458.8v-1H463.1v-1H463.9v-1H463.2v-1H461.1v-1H461.6v-1H462v-1H461.5v-1H462.1v-1H463.9v-1H463.8v-1H463.5v-1H461.9v-1H463.7v-1H463.4v-1H463.1v-1H462.6v-1H461.1v-1H462.5v-1H462.2v-1H463.9v-1H463.3v-1H463.1v-1H462.2v-1H462.8v-1H463.9v-1H462.5v-1H463.1v-1H463.9v-1H463.4v-1H463.9v-1v-1v-1H463.7v-1H463.2v-1H463.9v-1v-1v-1v-1H462.7v-1H461.9v-1H461.6v-1H463.9v-1v-1v-1H462.6v-1H463.5v-1H461.7v-1H463.9v-1H463.5v-1H462.4v-1H463.9v-1H463.8v-1H463.9v-1v-1v-1H462.5v-1H463.9v-1H462.7v-1H463.7v-1H463.9v-1v-1H461.5v-1H463v-1H463.3v-1H462.5v-1H463.9v-1H462.8v-1H460.9v-1v-1H462.4v-1H463.4v-1H463.9v-1H461.6v-1H463.4v-1H463.9v-1v-1H462.4v-1H463.9v-1v-1v-1H463.4v-1H463.8v-1H462.5v-1H461.2v-1H460.7v-1H460.5v-1H460.7v-1H460.1v-1H463.3v-1H460.7v-1H462.9v-1H463.6v-1H463.9v-1v-1H462.7v-1H463.9v-1H462.2v-1H462.1v-1H459.5v-1H462.1v-1H462.9v-1H461.1v-1H462.9v-1H463.1v-1H463.2v-1H463.6v-1H460.8v-1H455.6v-1H454.6v-1H455.3v-1H457v-1H460.1v-1H463.9v-1v-1H463.6v-1H463.9v-1H463.3v-1H463.9v-1v-1H463.8v-1H462.5v-1H461.6v-1H462.1v-1H463.4v-1H463.9v-1v-1v-1v-1v-1v-1H463.2v-1H462.8v-1H463.5v-1H463.9v-1H462.6v-1H463.2v-1H463.5v-1H463.9v-1v-1ZM503.2 71v1H502v1H500.2v1H501v1H497.3v1v1H496.9v1H500.3v1H505.5v1H506.1v1H504.8v1H497.2v1H496.7v1H502.2v1H505.5v1H505.9v1H506.6v1H503.3v1H504.2v1H501.9v1H500.6v1H496.7v1H498.3v1H502.1v1H499.8v1H498.7v1H501.9v1H500.4v1H501.8v1H510.4v1H520.2v1v1v1H512.9v1H504.4v1H505.2v1H507.8v1H511.8v1H509.9v1H507.3v1H498.1v1H498.7v1H506.9v1H512.3v1H511.7v1H513v1H510.6v1H512.5v1H510.6v1H507.7v1H505.5v1H499.3v1H496.7v1H497.9v1H496.7v1H499.4v1H499.3v1H501.7v1H504.9v1H502.4v1H499.9v1H496.7v1H497.6v1H499v1H500.7v1H502.9v1H504.1v1H501.4v1H500.9v1H496.7v1v1v1v1H500v1H497.2v1H499.8v1H498.8v1v1H503.1v1H501.5v1H500.5v1H497.4v1H499.8v1H503.5v1H502.2v1H498.4v1H499.6v1H503.2v1H501v1H502.8v1H502.3v1H500.2v1H498.5v1v1H496.7v1v1v1v1v1v1v1v1v1H496.9v1H496.7v1H497.8v1H498.4v1H496.7v1v1v1H497.8v1H498.9v1H500.8v1H501.5v1H499.5v1H498.9v1H496.8v1H497.1v1H500.7v1H500.8v1H498.3v1H501v1H501.2v1H500.3v1H505v1H504v1H502.9v1H496.7v1H497.3v1H498.8v1H500.8v1H501.7v1H500.5v1H500.6v1H496.9v1H500.2v1H500v1H496.7v1H498.7v1H504.4v1H516.3v1H520.2v1v1v1H511.4v1H503.8v1H502.2v1H501.1v1H501.7v1H498.4v1H496.7v1H501.4v1H501.7v1H503.8v1H504.2v1H502.5v1H500.3v1H498.4v1H496.8v1H498.8v1H499.6v1H497.2v1H498.3v1H496.8v1H497.7v1H503.8v1H505.9v1H508v1H508.6v1H503.6v1H500.6v1H497.1v1H496.7v1H497.7v1H497.6v1H499.3v1H498.8v1H498.1v1H498v1H497.3v1H500v1v1H501v1H500.7v1H502.1v1H503.4v1H504.9v1H510v1H508.4v1H503.9v1H500.6v1H496.7v1H497v1H496.7v1H500.5v1H503v1H502.9v1H503.6v1H500.9v1H499.5v1H498.9v1H497.9v1H496.7v1v1v1H497.9v1H497.4v1H498.9v1H499v1H496.7v1H499.9v1H497.4v1H500.1v1H499.7v1H502v1H503.9v1H492.7v-1H492.4v-1H492v-1H491.9v-1H492.7v-1H492.5v-1H492.7v-1v-1v-1v-1v-1v-1v-1H491.9v-1H492.4v-1H491.6v-1H492.7v-1H492.1v-1H491.7v-1H491.2v-1H492.7v-1v-1v-1H491.9v-1H492.7v-1H491.7v-1H492.2v-1H492.1v-1H490.9v-1H492.7v-1v-1v-1H491.3v-1H492.7v-1H491.5v-1H492.7v-1H491.7v-1H490.8v-1H491.9v-1H491.8v-1H492.6v-1H492.7v-1H491.8v-1H492.7v-1v-1v-1H490.8v-1H491.2v-1H492.4v-1H492.7v-1H491.6v-1H491.5v-1H490.5v-1H492.7v-1H491.2v-1H491v-1H492.3v-1H492.7v-1v-1v-1v-1v-1H492.2v-1H492.7v-1H492.5v-1H491.9v-1H491.4v-1H490.6v-1H492.5v-1H491.7v-1H491.5v-1H489.2v-1H485.8v-1H483.9v-1H485.4v-1H490.8v-1H492.2v-1H492.7v-1v-1H492.6v-1H492v-1H492.7v-1H492.6v-1H491.8v-1H492.7v-1H491v-1H491.2v-1H491v-1H490.8v-1H491.1v-1H490.1v-1H492.7v-1H492v-1v-1H490.3v-1H491.7v-1H491.9v-1H492.7v-1v-1v-1H492.5v-1H491.9v-1H492.1v-1H492.4v-1H492.7v-1v-1v-1v-1H492.1v-1H492.7v-1v-1H492.1v-1H492.2v-1H491.4v-1H492v-1H491.6v-1H492.7v-1H491.5v-1H492.7v-1H491.6v-1H491.4v-1H492.7v-1v-1v-1v-1H490.3v-1H492.5v-1H492.6v-1H492v-1H492.7v-1v-1H492.4v-1H492.7v-1v-1v-1H492.1v-1H492.7v-1H491.5v-1H491.9v-1H491.5v-1v-1H492.7v-1v-1H492.3v-1H492.7v-1v-1v-1v-1v-1v-1H491.3v-1H489.7v-1H489.3v-1H488.7v-1H491.2v-1H491.4v-1H491.7v-1H492.7v-1v-1v-1v-1v-1v-1H492v-1H492.2v-1H492.7v-1v-1v-1v-1H491.6v-1H491.9v-1H491.8v-1H492.7v-1H491.6v-1H491.5v-1H491.1v-1H492.7v-1v-1H491.8v-1v-1H492.7v-1H491.2v-1H485.6v-1H482.2v-1v-1H484.1v-1H489.3v-1H489.5v-1H491.8v-1H492.7v-1v-1v-1v-1H492v-1H490.2v-1H492.7v-1v-1H492.6v-1H492.1v-1H492.7v-1v-1H491.2v-1H490.4v-1H491v-1H492.1v-1H492.7v-1v-1H491.9v-1H492.1v-1H492.6v-1H492v-1H492.7v-1v-1v-1v-1ZM525.4 71v1H526.4v1H525.4v1H525.6v1H525.4v1v1v1H526.6v1H527.6v1H528.8v1H527.6v1H530.8v1H531.9v1H528v1H528.1v1H527v1H525.4v1H528.2v1H529.5v1H527.2v1H529.7v1H528.9v1H531v1H529.4v1H528.2v1H528.4v1H529v1H529.6v1H529.3v1H534.7v1H541.6v1H548.9v1v1H540.5v1H531.7v1H526.9v1H525.4v1H527.5v1H527.3v1H529.3v1H528.7v1H528.4v1H528.5v1H530.9v1H529.3v1H526.4v1H528.5v1H530v1H530.1v1H531v1H529.7v1H528.2v1H526.7v1H525.4v1v1H526.5v1H529.8v1H529v1H529.9v1H529.2v1H528.7v1v1H525.5v1H525.4v1v1v1v1H525.5v1H525.4v1v1v1v1H526.1v1H525.4v1v1H529v1H532.3v1H531.6v1H530.8v1H525.5v1H527.6v1H526.9v1H528.5v1H526.9v1H527.1v1H525.4v1v1H525.5v1H525.4v1v1H527.2v1H529.1v1H531.4v1H532.9v1H532v1H532.2v1H530.8v1H528.7v1H527.6v1H527.9v1H525.5v1v1H525.4v1v1v1v1H526.7v1H527.4v1H525.4v1H527.4v1H529.1v1H525.4v1v1H526.2v1H527.3v1H526.4v1H525.4v1H526.3v1H531.9v1H538.6v1H541.3v1H542v1H542.7v1H536.3v1H534.9v1H529.7v1H527v1H526.4v1H531v1H533.1v1H534.5v1H533v1H535.9v1H535.2v1H539.1v1H538.8v1H537.9v1H537.4v1H537.8v1H534.3v1H539.4v1H548.9v1v1v1H542.2v1H536.8v1H535v1H535.7v1H533v1H531.7v1H526.7v1H526.4v1v1H528.2v1H526.9v1H525.4v1v1v1v1v1v1v1H527.4v1H527v1H525.4v1H526.7v1H526.2v1H526.6v1H527.4v1H528.8v1H530.9v1H529.4v1H527.9v1H528.6v1H528.7v1H530.6v1H529.9v1H531.3v1H532.2v1H536.1v1H536.3v1H534.7v1H533.8v1H530.9v1H529.2v1H533.5v1H534.4v1H537.7v1H536.6v1H535.6v1H533.1v1H531.3v1H529.7v1H526.6v1H525.4v1H527.8v1H528.4v1H530.7v1H527v1H529.9v1H535v1H537.2v1H541.5v1H539.3v1H533.5v1H529.5v1H525.4v1H528.1v1H529.8v1H526.9v1H528v1H530.8v1H532.7v1H532.6v1H529.5v1H525.4v1H521.4v-1H520.2v-1H520.8v-1H521.4v-1v-1v-1v-1v-1v-1H521v-1H520.4v-1H520.5v-1H520.4v-1H518.8v-1H517.5v-1H519.6v-1H520.5v-1H521.4v-1H516.7v-1H516.5v-1H518.2v-1H520.3v-1H518.9v-1H520.4v-1H520v-1H520.7v-1H521.4v-1v-1v-1H518.1v-1H516.6v-1H515.6v-1H513.6v-1H514.8v-1H515.5v-1H517.9v-1H517.7v-1H516.9v-1H519.6v-1H520.3v-1H521.4v-1v-1H520.9v-1H521.4v-1H519.3v-1H519.2v-1H520.4v-1H521.4v-1H521.3v-1H521.4v-1v-1v-1H520.9v-1v-1H521.4v-1v-1v-1v-1v-1v-1H521v-1H520.9v-1H521.1v-1H521.4v-1v-1v-1H521.3v-1H520.7v-1H520.5v-1H520.6v-1H520.8v-1H516.5v-1H513v-1H510.9v-1v-1H511.3v-1H516v-1H518.5v-1H521.2v-1H520.8v-1H521.4v-1H520.2v-1H519.9v-1H520.9v-1H520.8v-1H518.9v-1H519.8v-1H519v-1H520.7v-1H519.4v-1H521.1v-1H521.4v-1v-1v-1v-1H520.6v-1H521.4v-1v-1H520v-1H519v-1H521.4v-1H521.2v-1H521.4v-1v-1H520.7v-1H519.8v-1H518.9v-1H520.4v-1H521.4v-1H521.1v-1H520.1v-1H518.8v-1H519.2v-1H517.8v-1v-1H518.4v-1H519.6v-1H519.9v-1H521.1v-1H520.6v-1H519.3v-1H520.5v-1H521.4v-1v-1v-1v-1H521.1v-1H521.4v-1v-1v-1H521v-1H521.3v-1H521.4v-1v-1H520.6v-1H520.2v-1H520.1v-1H519.1v-1H520.7v-1H519.4v-1H520.9v-1H521.4v-1v-1v-1v-1v-1H520.7v-1H519.9v-1H521v-1H520.8v-1H521.4v-1H521.1v-1H520.7v-1H520.8v-1H521.4v-1H520.9v-1H520.8v-1H521.4v-1v-1v-1v-1v-1H519.9v-1H520.8v-1H521.4v-1H521v-1H520.5v-1v-1H519.9v-1H520.3v-1H521.4v-1v-1v-1v-1v-1H520.8v-1H521.4v-1v-1H519.1v-1H517.7v-1H519.4v-1H517.5v-1H515.2v-1H510.9v-1v-1H512.2v-1H516.9v-1H519.1v-1H521.2v-1v-1H521.4v-1v-1H520.4v-1H521.1v-1H520.1v-1H519.9v-1H521.1v-1H521.4v-1v-1v-1v-1H520.7v-1H521.1v-1H521.4v-1v-1v-1H519.3v-1H517.9v-1H518.5v-1H519.2v-1H521.4v-1v-1H521.1v-1H521.2v-1H519.1v-1H520.2ZM558.8 71v1H557.5v1H556.7v1H554.8v1H554.1v1H555.7v1H554.1v1H555.1v1H555.4v1H555.8v1H555.2v1H554.6v1H559.2v1H555.9v1H557.5v1H555.7v1H560v1H566.9v1H569.3v1H568.2v1H566.1v1H562.2v1H556.3v1H555.6v1H556.9v1H561.5v1H563.5v1H565.2v1H569.4v1H577.6v1v1v1H576.6v1H564.9v1H557.1v1H554.1v1H556.5v1H560.7v1H561.5v1H558.9v1H554.1v1v1H557.1v1H558.5v1H558.7v1H554.1v1H554.6v1H555.4v1H558.8v1H560.1v1H559.1v1H560.9v1H563.1v1H565.4v1H566.3v1H566.8v1H565.8v1H564.4v1H561.4v1H564.2v1H566.3v1H565.7v1H565.8v1H561.7v1H557.1v1H556.8v1H554.1v1H555.8v1H559.1v1H562.2v1H563.6v1H558.6v1H557.6v1H561v1H564.6v1H565.4v1H558.7v1H554.1v1H556.9v1H563.7v1H562.4v1H556.7v1H554.1v1H562.8v1H564.9v1H567.3v1H563v1H565.2v1H564.8v1H563.6v1H559.1v1H555.6v1H554.5v1H554.3v1H554.1v1H555.9v1H558.6v1H558.4v1H555.2v1H556.1v1H554.1v1v1H561.4v1H564.5v1H563.6v1H564v1H559.8v1H561.5v1H556.5v1H560v1H563.5v1H563.6v1H562.8v1H560.8v1H562.5v1H563.5v1H564.2v1H562.3v1H560.1v1H554.1v1H563.2v1H569.5v1H574.6v1H571.5v1H565.3v1H558.3v1H554.6v1H555.4v1H555.5v1H556v1H555.2v1H555v1H557.6v1H557.9v1H555.6v1H554.1v1v1H558.7v1H559.8v1H564.2v1H573v1H577.6v1H577.5v1H570.8v1H562.6v1H555.4v1H554.1v1v1H557.9v1H558.6v1H558.3v1H554.1v1v1H554.8v1H559.8v1H562.3v1H558.3v1H556.3v1H554.1v1v1H554.9v1H558.8v1H559.2v1H558.6v1H558.8v1H556v1H555.5v1H557.9v1H556.6v1H555.7v1H555.4v1H554.1v1H555v1H554.1v1H557v1H558.8v1H557.9v1H558.8v1H554.1v1H554.8v1H559.8v1H560.4v1H559.5v1H559.4v1H555.5v1H554.1v1v1H556.6v1H559.2v1H558.8v1H560.9v1H562.1v1H561.3v1H558.7v1H557.2v1H558.1v1H555.2v1H554.1v1v1v1H554.7v1H554.1v1v1v1H555.3v1H555.5v1H556.2v1H557.2v1H554.8v1H554.1v1H556.2v1H556v1H555.9v1H554.1v1v1v1H550.1v-1v-1v-1v-1v-1v-1v-1v-1v-1v-1v-1v-1v-1v-1v-1v-1v-1H549.7v-1v-1H550.1v-1H548.8v-1H549.1v-1H549.6v-1H549.8v-1H548.3v-1H547.6v-1H549.6v-1H550.1v-1H548.3v-1H550.1v-1v-1v-1v-1v-1H549.6v-1H548.8v-1H549.6v-1H549.9v-1H549.2v-1H550.1v-1H549.5v-1H550v-1H549.3v-1H548.7v-1H549.7v-1H550.1v-1v-1v-1H549.9v-1H550.1v-1H548.5v-1H549.5v-1H548.1v-1H547.5v-1H547.7v-1H549.4v-1H549.9v-1H550.1v-1v-1H549.4v-1H550.1v-1v-1v-1H548.7v-1H549.9v-1H550.1v-1v-1v-1v-1v-1v-1H548.3v-1H546.7v-1H541v-1H539.6v-1H541.1v-1H545.5v-1H547.8v-1H550.1v-1v-1v-1H549.6v-1H548.3v-1H545.8v-1H549v-1H549.5v-1H550.1v-1v-1H549.7v-1H548.3v-1H546.4v-1H546.8v-1H547.8v-1H548.9v-1H550.1v-1v-1H550v-1H549.5v-1v-1H550.1v-1v-1H548v-1H546.3v-1H547.9v-1H548.3v-1H550.1v-1H549.5v-1H548.3v-1H545.2v-1H546.4v-1H546.1v-1H548.5v-1H550.1v-1H548.1v-1H550.1v-1H548.4v-1H550.1v-1H549v-1H550.1v-1H549.5v-1v-1H550v-1H550.1v-1H548.5v-1H550.1v-1H545.9v-1H546.2v-1H546.7v-1H548.1v-1H549.5v-1v-1H546.5v-1H547.1v-1H548.3v-1H549.6v-1H549.4v-1H550.1v-1H548.8v-1H547.5v-1H545.8v-1H547.8v-1H547.9v-1H549.9v-1H549.1v-1H550.1v-1v-1H547.6v-1H549.1v-1H547.4v-1H549.5v-1H548.3v-1H549.5v-1H548.5v-1H548.4v-1H548.8v-1H548.4v-1H549.1v-1H547.4v-1H545.4v-1H547.4v-1H549.5v-1H548.6v-1H547.2v-1H548.5v-1H549.2v-1H549.5v-1H547.8v-1H548.8v-1H547.5v-1H549.2v-1H549.9v-1H549.4v-1H547.5v-1H548.3v-1H547.8v-1H549.7v-1H549v-1H550v-1H548.8v-1H548.2v-1H548.5v-1H548.1v-1H546.4v-1H542.8v-1H540.1v-1H540.8v-1H545.2v-1H548.5v-1H549.4v-1H550v-1H549.4v-1H550v-1H550.1v-1H546.8v-1H548.3v-1H548.8v-1H545.9v-1H547.6v-1H547.8v-1H548.8v-1H549.1v-1H549.2v-1H549.6v-1H550.1v-1v-1H549.7v-1H549v-1H548.5v-1H549.6v-1H550.1v-1H549.5v-1H549.4v-1H549.3v-1H547.5v-1H548.6v-1H548ZM582.8 71v1v1v1v1H585.1v1H587.7v1H587.5v1H582.8v1H584.9v1H582.8v1H583.3v1H582.8v1v1H586.8v1H583v1v1H584.8v1H585.3v1H584.4v1H583.5v1H582.8v1H586.3v1H583.6v1H587.5v1H585.8v1H588.6v1H589.6v1H590.9v1H588.9v1H590.4v1H595v1H605.9v1H606.3v1H604.6v1H592.5v1H586.3v1H584.6v1H587.5v1H590.8v1H591.8v1H594.6v1H593.1v1H587.7v1H588v1H582.8v1v1H584.9v1H582.8v1H583.3v1H582.8v1v1H585.8v1H583.5v1H582.8v1H586.1v1H588.5v1H590.6v1v1H591v1H591.2v1H590.1v1H586.5v1v1H585.3v1H584.6v1H584.3v1v1H585v1H582.8v1H584.8v1H587.3v1H588.1v1H585.8v1H582.8v1H586.8v1H582.8v1H583v1H583.4v1H588v1H587.8v1H590.7v1H588.8v1H587.5v1H583.7v1H583.8v1H585.9v1H591.3v1H594.1v1H597.5v1H600.9v1H596.2v1H592.8v1H590.6v1H588.5v1H590.7v1H593.3v1H593.7v1H596.7v1H597.1v1H595.8v1H594v1H593.6v1H590v1H584.8v1H582.8v1H587.7v1H589.1v1H587.9v1H586.8v1H587.9v1H585.9v1H587.3v1H585v1H588.3v1H587.8v1H585v1H582.8v1H585.5v1H586.6v1H586.1v1H584.6v1H582.8v1H583.4v1H586.6v1H585.7v1H590.7v1H590.4v1H588v1H590.2v1H586.9v1H587.1v1H583v1H585.6v1H586v1H590v1H589v1H588.1v1H582.8v1H592.6v1H600.9v1H606.3v1v1H601.1v1H590.4v1H590.7v1H588.1v1H590.8v1H590.4v1H587.7v1H582.8v1v1H583.9v1H584.3v1H583.5v1H584.5v1H586.1v1H588.1v1H586.8v1H588.9v1H588.2v1H584.9v1H582.8v1H584.3v1H586v1v1H587.8v1v1H590.5v1H589.3v1H584.7v1H582.8v1H583.4v1H585.7v1H586v1H588.4v1H587.4v1H588v1H592.5v1H597v1H598.4v1H596.9v1H590v1H587.5v1H586.7v1H595.7v1H598.1v1H592.6v1H590.9v1H585.6v1v1H585.1v1H587.9v1H594.5v1H596v1H597.1v1H594.1v1H588.4v1H587.2v1H589.9v1H589.1v1H584.3v1H586.1v1H586.7v1H590.9v1H591.7v1H593.4v1H590.5v1v1H588.8v1H591.6v1H590v1H592.3v1H592.1v1H591.2v1H589.9v1H586.5v1H578.8v-1H578.5v-1H578.8v-1v-1v-1H578.3v-1H578.8v-1H577.1v-1H578.8v-1v-1v-1v-1v-1v-1v-1v-1v-1v-1v-1v-1v-1H577.4v-1H578v-1H578.8v-1v-1v-1v-1H576.9v-1H577v-1H578.8v-1H577.8v-1H576.4v-1H577.2v-1H578.4v-1H577.9v-1H578.8v-1v-1v-1v-1H578.6v-1H578.8v-1H576.9v-1H578.8v-1v-1H578.6v-1H577.9v-1H578.8v-1v-1v-1v-1v-1v-1v-1v-1H578.6v-1H578.4v-1H578.8v-1v-1H577.9v-1H577.6v-1H578.3v-1H576.8v-1H577.3v-1H578.4v-1H578.8v-1v-1H576.2v-1H575.9v-1H577.7v-1H578.2v-1H578.8v-1H577.8v-1H572.7v-1H571.1v-1H568.3v-1v-1H573.2v-1H576.4v-1H578.4v-1H578.8v-1H578.7v-1H578.8v-1v-1H578.1v-1H577.8v-1H578.8v-1H577.6v-1H577.2v-1H577.8v-1H576.6v-1H577.1v-1H577.3v-1H578.4v-1H578.3v-1H578.4v-1H577.7v-1H575.9v-1H578.8v-1v-1v-1H577.1v-1H578.2v-1H578.8v-1v-1v-1H578.1v-1H577.7v-1H574.8v-1H576.5v-1H577.1v-1H578.8v-1v-1H578.5v-1H578.8v-1H577.2v-1H577.4v-1H577v-1H578.8v-1v-1H577.5v-1H578.8v-1v-1v-1v-1v-1v-1v-1H576.8v-1H575.1v-1H577.5v-1H578.7v-1H577.7v-1H578.3v-1H578.5v-1H578.8v-1H578.7v-1H578.2v-1H578.1v-1H578.8v-1H577.9v-1H578.8v-1H577.2v-1H578.8v-1v-1H577.5v-1H578.8v-1H576.5v-1H578.5v-1H578.8v-1v-1H578.5v-1H578.8v-1H577v-1H578.2v-1H578.1v-1H578.8v-1H578.6v-1H578.8v-1H578.6v-1H578.5v-1H577.7v-1H577.3v-1H578.7v-1H578.2v-1H576.4v-1H578.8v-1H578.5v-1H578.8v-1H578v-1H577.6v-1H575.9v-1H578.1v-1H577.7v-1H576v-1H576.9v-1H577.7v-1H578.8v-1H577.6v-1H576.5v-1H578v-1H576v-1H573.5v-1H568.3v-1v-1v-1H572.8v-1H576.4v-1H576.3v-1H577.7v-1H577v-1H577.9v-1H578.8v-1H577.4v-1H578.8v-1v-1v-1H578.5v-1H578.8v-1H577.9v-1H578.8v-1v-1v-1H577.9v-1H578.4v-1H578.8v-1v-1v-1v-1v-1v-1H578.1v-1H577.8v-1H578v-1H578.8v-1H577v-1H578.3ZM614.4 71v1H611.9v1H612.3v1H613.9v1H616v1H617.7v1H617.4v1H613.2v1H611.8v1H611.5v1v1H615.3v1H618.5v1H620.7v1H621.8v1H624.5v1H626v1H626.6v1H624v1H623.9v1H619v1H618.2v1H613.3v1H615.4v1H616.4v1H622.2v1H619.6v1H621.4v1H622.9v1H624.6v1H634.7v1H635v1v1H633.9v1H622.2v1H617.1v1H613.9v1H617.4v1H614.3v1H612.8v1H611.5v1H614.8v1H614.1v1v1H618.4v1H617.8v1H619.1v1H614.1v1H615v1H616.5v1H616.7v1H620.5v1H618.2v1H616.6v1H611.8v1H612.5v1H614.1v1H616v1H615.4v1H612.7v1H613v1H612.2v1H611.5v1v1H612.9v1H616.6v1H615.6v1H614.2v1H611.9v1H612.3v1H612.7v1H611.5v1v1H613.7v1H611.5v1H613.4v1H614.5v1H611.5v1H612.9v1H613.6v1H618.5v1H616v1H614.9v1H613.1v1H617.9v1H618.6v1H617.5v1H618.2v1H615.5v1H617.9v1H619.8v1H619.7v1H623.5v1H626.7v1H629.2v1H627.6v1H621.5v1H619.3v1H614v1H613.5v1H615.8v1H619.4v1H622.6v1H621v1H618.4v1H614.9v1H612.4v1H613v1H612.9v1H611.5v1v1v1H614.3v1H614.6v1H614.7v1H613.5v1H611.5v1H612.4v1H612.7v1H612.8v1H612.4v1H613.4v1H616.5v1H619.7v1H621.2v1H618.7v1H612.2v1H611.5v1v1H612.4v1H616.8v1H617.5v1H617.3v1H612.2v1H612.3v1H613.8v1H617.9v1H614.7v1H618.5v1H626v1H635v1v1v1H631v1H623.9v1H620.3v1H618.3v1H613v1H612.1v1H614v1H620.4v1H624.5v1H622v1H619.9v1H620.5v1H619v1H618.4v1H614.2v1H611.5v1H614.2v1H621v1H622.8v1H620.7v1H616.1v1H613.6v1H614.4v1H614v1H611.6v1H611.8v1H611.5v1H612.7v1H611.5v1v1v1v1H612v1H612.8v1H614.7v1H621.5v1H624.4v1H627.8v1H627.3v1H619.9v1H617.3v1H618.5v1H613.8v1H613.9v1H615.9v1H622.7v1H626.6v1H623.3v1H620.7v1H619.4v1H617v1H617.4v1H619.2v1H619.1v1H618.4v1H616v1H618.7v1H621.3v1H620.9v1H618.6v1H616.6v1H611.5v1H618.9v1H621v1H619.2v1H613.9v1H615.5v1H624.8v1H628.3v1H628.6v1H620.9v1H615.4v1H614.2v1H605.9v-1H607.5v-1v-1H606.9v-1H605.4v-1H606.8v-1H606.5v-1H604.7v-1H604.3v-1H605.2v-1H605v-1H603.9v-1H605.6v-1H607.5v-1H606.9v-1H607.5v-1v-1H605.1v-1H602.8v-1H601.8v-1H603.5v-1H606v-1H606.2v-1H607.5v-1H607.1v-1H605.1v-1H605.7v-1H606.8v-1H607.5v-1H607.1v-1H606.5v-1H607.5v-1H606.4v-1H606.8v-1H604.2v-1H605.8v-1H606.2v-1H607.3v-1H607v-1H606.7v-1H606.5v-1H607.5v-1H606.2v-1H605.5v-1H603v-1H603.8v-1H603.3v-1H604.1v-1H604.8v-1H605.7v-1H604.1v-1H605.7v-1H605.9v-1H605.3v-1H603.7v-1H604.8v-1H604.4v-1H605.2v-1H604.8v-1H604.4v-1H604.2v-1H604.7v-1H603.2v-1H605.7v-1H607.3v-1H607.4v-1H605.4v-1H606.3v-1H605.3v-1H607v-1H606.3v-1H606.5v-1H601.9v-1H598v-1H597v-1H598.1v-1H602.9v-1H605.1v-1H607v-1H605.4v-1H605v-1H607.1v-1H607.5v-1v-1H607.4v-1H607.5v-1v-1H607v-1H606.9v-1H607.1v-1H607.3v-1H606.5v-1H607v-1H606.6v-1H605.9v-1H604.5v-1H605.7v-1H606.5v-1H606.2v-1H607.2v-1H606.2v-1H607.2v-1H606.3v-1H606.6v-1H605.4v-1H605.9v-1H607.2v-1H605.7v-1H607.5v-1v-1v-1v-1v-1v-1H604.4v-1H606.5v-1H606.8v-1H607.5v-1v-1H607.1v-1H606.9v-1H604.8v-1H605.9v-1H606.4v-1H605.8v-1H605.9v-1H607.5v-1H606.8v-1H605v-1v-1H606.2v-1H606v-1H606.2v-1H607.5v-1v-1H607.4v-1H607v-1H605.7v-1H607.5v-1v-1v-1v-1v-1v-1v-1v-1H606.7v-1H605.6v-1H606v-1H606.4v-1H607.5v-1H605.6v-1H606.9v-1H606.6v-1H607.2v-1H607.5v-1H606.8v-1H607.5v-1H607.2v-1H605.8v-1H606.2v-1H606.4v-1H604.8v-1H603.8v-1H603.6v-1H605.9v-1H606.4v-1H606.3v-1H607.5v-1H607.4v-1H605.9v-1H606.5v-1H607.2v-1H607.1v-1H606.9v-1H607.4v-1H607.5v-1H606.9v-1H607.5v-1v-1v-1H604.7v-1H602.3v-1H597v-1v-1H600.6v-1H603.9v-1H606.5v-1H606.3v-1H607.5v-1v-1v-1v-1v-1H606.9v-1H606.3v-1H606.8v-1H607.5v-1v-1H605.6v-1H605.8v-1H607v-1H607.2v-1H606.8v-1H607.5v-1H606.3v-1H605.1v-1H604.8v-1H603.8v-1H604.2v-1H605.7v-1H607.5v-1v-1H606.2v-1H606.5v-1H606.6ZM653 71v1H654.4v1H654.7v1H656.3v1H655.8v1H652.1v1H643.4v1H640.5v1H643.7v1H649.3v1H646.5v1H644.2v1H640.3v1H643v1H645.8v1H647.5v1H645.7v1H644.4v1H641v1H640.6v1H641v1H642.5v1H643.6v1H644.8v1H644.5v1H640.6v1H640.7v1H640.4v1H641.3v1H642.6v1H646v1H646.9v1H659.5v1H663.8v1v1H654.7v1H647.8v1H647v1H648v1H649.5v1H650.6v1H652v1H650.5v1H648.1v1H645.3v1H643.4v1H645.8v1H648.2v1H649.5v1H647.3v1H648v1H647.1v1H644.1v1H644.7v1H645v1H644.7v1H651.4v1H651.5v1H653.6v1H651.3v1H650v1H646.5v1H645.7v1H644.5v1v1H645v1H640.4v1v1H640.5v1H642.8v1H643.9v1H646.7v1H644.3v1H642.2v1H644.3v1H645v1H643.6v1H643.8v1H644.3v1H643v1H648.1v1H648.3v1H649.8v1H647.7v1H645.4v1H643.3v1H646.1v1H647.6v1H651.9v1H652.4v1H649.1v1H640.6v1H640.3v1H643.4v1H644.6v1H642.7v1H640.6v1H642.2v1H644.5v1H645.1v1H647v1H644v1H640.7v1H642.8v1H641.1v1H645.1v1H645.5v1H645.2v1H642.6v1H643.4v1H643.3v1H647.3v1H645.9v1H649.4v1H645v1H644v1H642.9v1H641v1H640.3v1H643.5v1H640.3v1v1H644.8v1H647.1v1H651.5v1H651.8v1H649.5v1H646.2v1H641.3v1H648.1v1H649.2v1H652.2v1H648.8v1H646.6v1H644.5v1H645.2v1H645v1H646.5v1H652.8v1H663.8v1v1v1H662.7v1H649.8v1H640.3v1H645.4v1H643.3v1H642.2v1H640.9v1H642.2v1H643.9v1H644.4v1H644.9v1H646.7v1H650.7v1H653.2v1H653.1v1H653v1H654.3v1v1H653.9v1H655.3v1H657.1v1H654.6v1H652.1v1H650.9v1H647v1H642.1v1H640.3v1v1H643.3v1H644.6v1H647.1v1H647.5v1H642.8v1H640.3v1H643.3v1H648.4v1H649.1v1v1H648.4v1H646.4v1H643.8v1H645.8v1H640.6v1H642.5v1H642.1v1H646.7v1v1H648.5v1H645v1H640.3v1H643.9v1H642.5v1H647.6v1H653.3v1H656.8v1H657.5v1H650.6v1H648.1v1H641.7v1H640.3v1H647.2v1H654.5v1H661.2v1H658.1v1H651.3v1H643.6v1H640.3v1H647.2v1H649.9v1H646.6v1H640.3v1H644v1H650v1H649.7v1H633v-1H631.9v-1H630.2v-1H628.9v-1H630.1v-1H632.3v-1H633.8v-1H634.4v-1H634.3v-1H635.7v-1H635.5v-1H633.5v-1H634.8v-1H635.4v-1H636.3v-1H635.4v-1H635.2v-1H635.8v-1H636.3v-1v-1H634v-1H633.3v-1H632.9v-1H634.7v-1H636.3v-1H633.8v-1H632.6v-1H630v-1H635.2v-1H635.7v-1H634.8v-1H634.7v-1H635.9v-1H635.3v-1H635.6v-1H635.8v-1H634.5v-1H634.7v-1H633.3v-1H633.8v-1H634.2v-1H636.3v-1v-1H635.6v-1H635.2v-1H636.1v-1H634.7v-1H636.2v-1H636.3v-1H635.4v-1H635v-1H635.8v-1H634.5v-1H633.9v-1H633.8v-1H634.3v-1H635.8v-1H635.7v-1H636.3v-1H634.2v-1H632.5v-1H632v-1H634.4v-1H634.9v-1H636.2v-1H636.3v-1v-1v-1v-1H634.3v-1H633.2v-1H631.8v-1H630.9v-1H629.3v-1H625.8v-1v-1H626.3v-1H629.7v-1H634.8v-1H636.3v-1v-1v-1H635.1v-1H635.6v-1H636v-1H636.3v-1H635.7v-1H634.8v-1H635.7v-1H634.7v-1H635v-1H635.6v-1H635.3v-1H636.3v-1H634.1v-1H635.6v-1H636.3v-1v-1H635.6v-1H636.3v-1v-1v-1v-1v-1v-1H635.9v-1H635.5v-1H636.3v-1H635.9v-1H636.3v-1v-1H634.3v-1H634.6v-1H635.9v-1H636.3v-1H635.1v-1H633.2v-1H633.6v-1H633.2v-1H634.9v-1H635.9v-1H636.3v-1H635.6v-1H636.3v-1v-1H635.4v-1H635.1v-1H631.5v-1H632.6v-1H634.1v-1H635.3v-1H634.9v-1H636.3v-1H635.8v-1H634.5v-1H635.5v-1H636.3v-1v-1v-1v-1H635.5v-1H633.6v-1H635.8v-1H636.1v-1H635.8v-1H635.7v-1H635v-1H635.5v-1H634.9v-1H635v-1H634.1v-1H636.3v-1H634.4v-1H636.1v-1H636.3v-1v-1v-1H635.6v-1H634.9v-1H634.2v-1H634.7v-1H636.3v-1H634.6v-1H635.1v-1H633.4v-1v-1H633v-1H635.5v-1H636.3v-1H634.4v-1H634.3v-1H636.3v-1v-1v-1H635v-1H634.2v-1H636.3v-1H635.8v-1H633.4v-1H631.1v-1H629.5v-1H626.8v-1H629.2v-1H630.4v-1H631.8v-1H634.5v-1H633.5v-1H635.2v-1H633.9v-1H634.9v-1H632.9v-1H631v-1H629.5v-1H631.2v-1H635.2v-1H636.3v-1H634v-1H635.6v-1H636.3v-1H635.4v-1H635.6v-1H636.3v-1H635.3v-1H633.2v-1H635.2v-1v-1H636.3v-1H635.5v-1H635.7v-1H636v-1H631.9v-1H631.8v-1H630.6v-1H631.6v-1H635.6v-1H634.9ZM672.7 71v1H673.7v1H673.8v1H676v1H673.9v1H671.6v1H669v1v1v1H671.7v1H672.3v1H676.4v1H676.6v1H675.6v1H675.7v1H671.9v1H671.8v1H673.8v1H674.3v1H675.8v1H674.4v1H669.5v1H672.6v1H670.7v1H669v1v1H670.2v1H669.9v1H671v1H669v1H672.9v1H677.1v1H688.7v1H692.5v1H690.6v1H684.5v1H678.7v1H677.3v1H674v1H676.3v1H672.3v1H670.8v1H669.4v1H670.3v1H670.6v1H671.6v1H672.8v1H673.1v1H674.7v1H675.7v1v1H675.1v1H674.9v1H672.3v1H674.8v1H676v1H676.3v1H673.4v1H672.3v1H671v1H673.7v1H673.9v1H672.4v1H669v1v1H670v1H672.5v1H675.4v1H675.5v1H675.3v1H670.5v1H669.6v1H672.2v1H672.5v1H673.8v1H673.5v1H673.7v1H673.2v1H670.7v1H672.4v1H673.7v1H675.1v1H672.9v1H669.6v1H674v1H675.1v1H673.4v1H674.6v1H670.5v1H669v1v1H671.3v1H673.5v1H675.8v1H678.6v1H677.2v1H671.3v1H670.1v1H670.5v1H671.5v1H672.9v1H673.7v1H673.2v1H671.1v1H669v1H669.3v1H669v1H671.1v1H669.8v1H673.3v1H671.2v1H669.6v1H669v1H670.7v1H672.8v1H671.5v1H674.7v1H671v1H669v1H669.4v1H669v1H670.5v1H673.8v1v1H671.1v1H674.8v1H671.6v1H669.8v1H672.4v1H673.8v1H672.8v1H671.3v1H670.9v1H670.6v1H670.1v1H674.7v1H673.9v1H676v1H680.3v1H687.1v1H692.5v1H691.4v1H681.5v1H674.8v1H673.4v1H674.6v1H675.8v1H675v1H675.4v1H674.8v1H673.5v1H674.5v1H670.8v1H671.9v1H669.7v1H669v1H669.8v1H669v1H670.1v1H670.7v1H675.9v1H671.6v1H669v1H676.7v1H682.8v1H688.7v1H691.6v1H689.9v1H683.5v1H675.1v1H669v1v1H671.5v1H673.1v1H672.9v1H674.8v1H680.3v1H681.5v1H682.1v1H686.2v1H685.4v1H678.9v1H675.9v1H672.3v1H672.7v1H669v1v1v1H672.7v1H677.9v1H678.6v1H678.9v1H676.7v1H670.9v1H676.6v1H681v1H680.4v1H677.6v1H674.8v1H669.6v1H669v1H672.8v1H674.9v1H670.3v1H669.1v1H669v1H670.4v1H669.3v1H671.5v1H671.3v1H672.6v1H672.5v1H669v1v1H672.9v1H679.1v1H665v-1v-1v-1v-1v-1H664.8v-1H662.2v-1H665v-1v-1v-1H663.6v-1H665v-1v-1v-1H663.8v-1H662.7v-1H664v-1H665v-1v-1H664.7v-1H664.1v-1H663.9v-1H664.8v-1H664.7v-1H664.3v-1H662.6v-1H662.5v-1H663.5v-1H664.5v-1H664.3v-1H665v-1v-1H664.2v-1H663.5v-1H664.6v-1H665v-1v-1v-1H663.3v-1H661.9v-1H663.9v-1H663.3v-1H663.4v-1H664.9v-1H664.2v-1H661.2v-1H661v-1H663.8v-1H663.9v-1H664.4v-1H665v-1v-1H664.5v-1H665v-1H664.5v-1H662.6v-1H665v-1v-1v-1H664.9v-1H665v-1v-1v-1v-1v-1H663.9v-1H665v-1H664.6v-1H665v-1v-1v-1v-1v-1H661.4v-1H656.7v-1H654.8v-1H656.3v-1H662.9v-1H662.4v-1H665v-1H663.9v-1H664.5v-1H664.2v-1v-1H663.2v-1H665v-1v-1H664.9v-1H665v-1H664v-1H664.9v-1H665v-1v-1v-1H662.5v-1H663.7v-1H664.2v-1H664.9v-1H664.8v-1v-1H664.4v-1H665v-1H664.2v-1H665v-1v-1H664.7v-1H665v-1v-1v-1v-1v-1v-1v-1v-1v-1v-1v-1v-1v-1v-1v-1v-1H663.9v-1H663.8v-1H665v-1H664.9v-1H664.3v-1H665v-1v-1v-1H664.7v-1H664v-1H665v-1H664.9v-1H663.6v-1H664.3v-1H663.2v-1H662.3v-1H664.3v-1H662.5v-1H664.9v-1H663.3v-1H663.5v-1H663.4v-1H665v-1H664.9v-1H665v-1v-1v-1v-1v-1H663.1v-1H662.9v-1H661.6v-1H662v-1H662.6v-1H664.5v-1H664.4v-1H665v-1v-1v-1v-1v-1H664.7v-1H665v-1v-1v-1v-1v-1H664.5v-1H665v-1v-1H664.9v-1H665v-1v-1H664.5v-1H664.4v-1H664.7v-1H664.9v-1H661.8v-1H657.8v-1H654.9v-1H654.5v-1H657.1v-1H662.2v-1H663.3v-1H665v-1H664.3v-1H665v-1H664.8v-1H663.1v-1H663.5v-1H663.6v-1H665v-1v-1H664.6v-1H663.8v-1H663.7v-1H662.1v-1H663.5v-1H664.1v-1H663.6v-1H664.6v-1H664.3v-1v-1H664v-1H663.3v-1H665v-1v-1H664.7v-1H663.9v-1H664.2v-1H661.7v-1H663.1v-1H659.5v-1H662.2ZM700.9 71v1H701.4v1H704.1v1H706v1H702.7v1H701.3v1H697.7v1H697.9v1H697.7v1H698.1v1H698v1H698.2v1H700.3v1H704.5v1H701.7v1H701v1H702.4v1H701.4v1H700.3v1H705v1H709.3v1H706.5v1H706.6v1H700.3v1H700.6v1H700.8v1H698.9v1H703.6v1H706.7v1H711.8v1H714.6v1H720.4v1H721.2v1v1H718.7v1H708.5v1H704.9v1H701.6v1H702.4v1H701.6v1H701.3v1H701.1v1H701.2v1H698.4v1H699.6v1H699.9v1H700.2v1H702v1H701.6v1H701.5v1H702.9v1H700.7v1H700.9v1H701.1v1H703.4v1H702.5v1H702.7v1H699.2v1H703.7v1H702.3v1H702.7v1H703.1v1H704.8v1H707.2v1H708.8v1H705.7v1H701.2v1H697.7v1H702.3v1H709.5v1H707.4v1H706.2v1H702.7v1H703v1H703.8v1H703.1v1H702.1v1H700.8v1H704v1H706.1v1H709.9v1H705.8v1H705v1H700.8v1H702v1H704.5v1H705.8v1H708.9v1H709v1H712v1H713.8v1H713.6v1H712.4v1H705.5v1H699.2v1H702.6v1H705.4v1H706.8v1H703.6v1H704.4v1H700v1H700.1v1H698.6v1H697.7v1H701.1v1H701v1H700.8v1H698.8v1H697.7v1v1H698.8v1H697.7v1v1H699.6v1H697.9v1H699.9v1H699.5v1H697.8v1H699.8v1H700.8v1H702.3v1H702.9v1H701.9v1H700v1H698.3v1H700.5v1H697.9v1H698.6v1H700.1v1H698.1v1H699.1v1H698.4v1H697.7v1v1H699.4v1H700.3v1H700.5v1H705.2v1H713.8v1H721.2v1v1H719v1H710v1H709v1H705.6v1H705.8v1H701.8v1H697.7v1H702.3v1H704.9v1v1H700.8v1H699.5v1H705.2v1H709.2v1H709.6v1H709.9v1H706.3v1H702.8v1H703v1H704.9v1H703.3v1v1H701.5v1H697.7v1v1H699.5v1H701.4v1H704v1H703.3v1H704v1H698.8v1H697.7v1v1v1H697.8v1H698.7v1H698.4v1H697.7v1H698.3v1H697.7v1H698.9v1H702.8v1H707.5v1H708.2v1H705.4v1H704.3v1H703.2v1H700.2v1H697.7v1H700.5v1H703.9v1H703.5v1H702.6v1H703.1v1H700v1H700.2v1H702.8v1H704.4v1H705.8v1H704.7v1H704v1H701.1v1H699.2v1H699.7v1H702.1v1H705.6v1H709.2v1H708.1v1H703.3v1H698.4v1H698.6v1H703.4v1H706.4v1H705v1H706.8v1H689.5v-1H689.6v-1H693v-1H693.2v-1H692.4v-1v-1H692.5v-1H691.4v-1H690v-1H691.3v-1H691.4v-1H692.7v-1H693.7v-1H693.6v-1H693.5v-1H693.7v-1H693.6v-1H691.7v-1H693.7v-1H693.1v-1H691v-1H690.1v-1H691.7v-1H692.2v-1H693.7v-1v-1v-1v-1v-1v-1v-1v-1H693.2v-1H691.9v-1H691v-1H693.7v-1v-1H693.6v-1H693.7v-1H693.5v-1H693.2v-1H693.7v-1H693.2v-1H693.7v-1H692.7v-1H693.5v-1H693.3v-1H693.7v-1v-1v-1v-1v-1H693.4v-1H693.7v-1H691.9v-1H691.7v-1H689.4v-1H692.4v-1H692.9v-1H693.7v-1v-1H692.9v-1H693.6v-1H691.8v-1H691.9v-1H693.7v-1v-1H693.6v-1H692.2v-1H691.7v-1H691.3v-1H693.3v-1H692.6v-1H691v-1H689.5v-1H684.5v-1v-1H688.6v-1H689.3v-1H690.2v-1H693v-1H691.9v-1H692.3v-1H691.8v-1H693.7v-1H691.8v-1H693.7v-1v-1v-1v-1v-1v-1v-1v-1v-1v-1v-1v-1v-1v-1H693.3v-1H693.7v-1v-1v-1v-1v-1H693.3v-1H691.7v-1H692.3v-1H691.5v-1H693.7v-1H693.6v-1H692.2v-1H693.7v-1v-1H693.1v-1H693.7v-1v-1H690.2v-1H689.6v-1H687.2v-1H690.5v-1H693.7v-1H691.7v-1H688.8v-1H688.5v-1H691.1v-1H689.2v-1H688.7v-1H688.5v-1H686.9v-1H688.5v-1H692.7v-1H693v-1H693.1v-1H693.7v-1v-1H692.1v-1H692.9v-1H693.7v-1v-1v-1v-1v-1H692.9v-1H691.5v-1H692.4v-1H693.5v-1H693.7v-1H693.6v-1H691.3v-1H690.4v-1H689.7v-1H688.8v-1H690.2v-1H692v-1H693.7v-1v-1v-1v-1v-1H693.5v-1H692.7v-1H692v-1H693.7v-1H693.2v-1H693.7v-1v-1H691.9v-1H691.5v-1H692.2v-1H692.8v-1H693.6v-1H693.1v-1H693.7v-1v-1H692.6v-1H693.4v-1H693.7v-1H692.1v-1H690.6v-1H687.2v-1H684.5v-1H683.4v-1H686.1v-1H689.8v-1H690.6v-1H692.3v-1H691.5v-1H690.7v-1H691.3v-1H691.7v-1H693.7v-1H692.7v-1H693.7v-1v-1v-1v-1v-1v-1v-1v-1H693.5v-1H693.7v-1v-1H692.8v-1H691.4v-1H692.3v-1H693.7v-1H692.9v-1H692.5v-1H692.6v-1H692.1v-1H693.3v-1H693.7v-1ZM748.3 71v1H749.9v1v1v1v1H747.9v1H744.2v1H741.7v1H738.6v1H732.8v1H730.2v1H726.4v1H727.6v1H732.2v1H730.1v1H732.2v1H729.1v1H731.6v1H733.2v1H735.3v1H737.5v1H738.5v1H745.2v1H747.8v1H744.8v1H739.2v1H736.2v1H735.5v1H737.9v1H738.4v1H739v1H745v1H749.9v1v1v1v1v1H740.9v1H729.4v1v1H737.1v1H744.6v1H746.4v1H746.8v1H744.7v1H745.1v1H745.8v1H743.1v1H739.3v1H740.4v1H740.5v1H740.7v1H736.4v1H740.2v1H742.4v1H740.8v1H738.3v1H734.9v1H736.9v1H738.7v1H736.7v1H735.9v1H730.7v1H728.8v1H726.4v1v1H732.6v1H737v1H737.3v1H732.3v1H732.8v1H730.7v1H731.2v1H732v1H727.4v1H728.4v1H726.7v1H726.6v1H727.8v1H727.4v1H732.9v1H737v1H742v1H741.7v1H740.3v1H735.6v1H730.9v1H726.4v1v1H727.9v1H728.3v1H727.8v1H726.4v1H727v1H727.2v1H728.3v1H729.4v1H728.2v1H730.5v1H727.5v1H726.4v1H728v1H729.9v1v1H730.3v1H730.8v1H731.6v1H730.8v1H729.1v1H731.4v1H733.1v1H736.5v1H736.4v1H734.5v1H729.4v1H727.8v1H726.4v1H735.5v1H742.7v1H745.1v1H746.9v1H745.7v1H742.5v1H735.4v1H732.6v1H732.1v1H730.6v1H728v1H731.6v1H729.6v1H732.9v1H733.4v1H734.1v1H731v1H733.8v1H735.6v1H741.1v1H749.8v1H749.9v1v1v1H742.6v1H731.5v1H732.8v1H729v1H728.3v1H727.2v1H730v1H731.9v1H735.4v1H736.2v1H737.2v1H734.4v1H736.3v1H739.5v1H742.1v1H743.2v1H740.6v1H742.7v1H737.6v1H733.5v1H730.6v1H732.6v1H738.3v1H740.2v1H741.7v1H744.6v1H743.6v1H742v1H736.3v1H729.8v1H728.3v1H730.7v1H732.3v1H732.5v1H733.8v1H732.7v1H732.2v1H726.4v1v1H728.4v1H727.2v1H726.4v1v1H728.3v1H727v1H726.4v1v1H727.7v1H729.8v1H728.9v1H726.4v1v1H728.5v1H728.7v1H726.4v1v1v1H731.3v1H736v1H736.9v1H733.1v1H734.5v1H736.3v1H733.1v1H732.4v1H727.5v1H726.4v1H729.2v1H727.2v1H726.4v1H727.8v1H732.7v1H735.3v1H735.8v1H732.3v1H722.4v-1v-1H719.8v-1H720.7v-1H720.4v-1H722.4v-1v-1H719.5v-1H720.6v-1H721.4v-1v-1H718.9v-1H717.3v-1H717.7v-1H717.4v-1H720.7v-1H722v-1H722.4v-1v-1v-1v-1H722.3v-1H722.4v-1H721.3v-1H722v-1H721.8v-1H719.9v-1H720.4v-1H721.2v-1v-1H721.4v-1H720.6v-1H721.1v-1H721.7v-1H721.9v-1H722.4v-1H721.2v-1H718.5v-1H720.3v-1H720.8v-1H721.5v-1H720.7v-1H718.4v-1H719v-1H719.7v-1H720.1v-1H722.4v-1H720.2v-1H720v-1H719.7v-1H720v-1H720.3v-1H722.2v-1H722.4v-1v-1H721.9v-1H721.8v-1H721v-1H721.7v-1H720.7v-1H719.6v-1H721v-1v-1H722.1v-1H722.4v-1H720.7v-1H719v-1H719.6v-1H721v-1H721.6v-1H722.2v-1H721.7v-1H720.7v-1H720.2v-1H717.5v-1H711.9v-1v-1v-1H716.8v-1H720.7v-1H721.7v-1H722.4v-1v-1v-1H721.3v-1H720.8v-1H719.8v-1H720v-1H720.5v-1H719.2v-1H721.5v-1H719.4v-1H722.3v-1H720.9v-1H720.2v-1H718v-1H718.2v-1H718.7v-1H718.9v-1H720.7v-1H720.2v-1H721.5v-1H721.2v-1H721.9v-1H722.4v-1H722.1v-1H722.4v-1H722v-1H722.4v-1H722.1v-1H722.2v-1H721.3v-1H722.4v-1v-1v-1H721.2v-1H722.4v-1H722v-1H722.3v-1H722.4v-1v-1H722.2v-1H722.4v-1v-1v-1v-1v-1v-1v-1H721.8v-1H720.8v-1H721.1v-1H720.8v-1H721.7v-1H722.3v-1H720v-1H718.5v-1H719.8v-1H719.2v-1H721.5v-1H722.4v-1H722.2v-1H720.7v-1H722.4v-1v-1H722v-1H721.7v-1H722.1v-1H722.3v-1H719.7v-1H716.7v-1H719.3v-1H720.5v-1H721.2v-1H722.4v-1v-1v-1v-1v-1H722v-1H722.4v-1v-1H721.1v-1H720.5v-1H722.4v-1H721.8v-1H721.3v-1H720.7v-1H722.4v-1v-1v-1H721v-1H719v-1H720.2v-1H720.9v-1H722.4v-1v-1H722v-1H719.8v-1H719.4v-1H715.8v-1H711.9v-1v-1H715.4v-1H717.8v-1H718.1v-1H719.5v-1H719.2v-1H720.4v-1H722.4v-1H721.8v-1H720.8v-1H722.4v-1H721.5v-1H722.4v-1H721.1v-1H722.4v-1v-1v-1H722.2v-1H722.1v-1H722v-1H721.5v-1H722.3v-1H721.8v-1H721.4v-1H722.2v-1H720.3v-1H722.4v-1v-1H721.5v-1H722.1v-1v-1H721.7v-1H720.4v-1H719.6ZM755.8 71v1H758.6v1H756.6v1H756v1H755.7v1H758.6v1H760.4v1H759.7v1H759v1H760v1H758.2v1H760.6v1H759.2v1H759.9v1H756.3v1H758.9v1H755.2v1H755.1v1v1H756.2v1H756.1v1H755.8v1H757.6v1H761.7v1H757.5v1H757.6v1H760.1v1H758.3v1H755.1v1v1H758.8v1H758.6v1H769.1v1H777.5v1H778.6v1H770.2v1H762.5v1H758.1v1H757.3v1H756.3v1H758.4v1H757.4v1H755.1v1v1v1H755.7v1H755.2v1v1H755.1v1v1v1v1H755.6v1H756.8v1H758.3v1H757.4v1H755.9v1H761.8v1H761.2v1H762.4v1H761.1v1H758.8v1v1v1H758.1v1H760.6v1H756.3v1v1H755.1v1v1H755.5v1H755.3v1H757v1H760.5v1H764.4v1H762.2v1H757.6v1H755.6v1H755.1v1H755.5v1H759.4v1H758.2v1H761.2v1H759.2v1H757.9v1H757.1v1H757.5v1H755.1v1v1H755.3v1H755.8v1H762.4v1H762.5v1H764.1v1H758.7v1H755.1v1H759.4v1H761.4v1H761.2v1v1H760.4v1H762.9v1H760.7v1H759.1v1H761.3v1H758.6v1H757.1v1H759.2v1H763.8v1H764.6v1H765.6v1H762.9v1H755.1v1v1H760.9v1H762.8v1H766v1H763.9v1H761.7v1H755.1v1v1H756.5v1H755.1v1H759.4v1H763.4v1H762.9v1H757.5v1H758.3v1H758v1H757.8v1H760.2v1H755.7v1H760.3v1H763v1H763.1v1H765.2v1H762v1H768.4v1H778.5v1H778.6v1H777.4v1H767.9v1H759.7v1H763.8v1H768.4v1H770.5v1H768.1v1H762.8v1H757.5v1H755.1v1H757.8v1H759.4v1H760.5v1H759v1H762.1v1H760.4v1H759.1v1H755.1v1H760.4v1H759.6v1H760.1v1H763.4v1H768.7v1H772.5v1H774.6v1H767.6v1H765v1H759.5v1H759v1H764.2v1H762.6v1H761.8v1H756.5v1H755.1v1v1H759.3v1H761v1H762v1H762.3v1H757.5v1H759.9v1H760.1v1H760v1H761.1v1H759.1v1H759.6v1H759.2v1H759.3v1H761.8v1H762.4v1H760.6v1H759.4v1H759.1v1H760.2v1H759.7v1H759.4v1H759.6v1H760.2v1H759.1v1H763v1H761.2v1H758.3v1H755.6v1H758v1H759.7v1H759.6v1H760.5v1H760.4v1H760v1H760.9v1H755.5v1H755.1v1H757.7v1H762.3v1H762v1H758.3v1H751.1v-1H749.1v-1H750.3v-1H749.5v-1H749.8v-1H751.1v-1H750v-1H750.1v-1H750.9v-1H749.6v-1H750.1v-1H751.1v-1v-1v-1v-1v-1H750.9v-1H751.1v-1H750.3v-1H751.1v-1v-1v-1H749.3v-1H751.1v-1v-1v-1H750.7v-1H751.1v-1v-1H749.9v-1H750v-1H750.2v-1H750.3v-1H749.8v-1H750.9v-1H750.6v-1H751.1v-1v-1v-1v-1H750.4v-1H749.1v-1H750.9v-1H751.1v-1v-1H750.6v-1H750.5v-1H749.2v-1H751.1v-1H750.3v-1H748.5v-1H749.3v-1H749.4v-1H749.5v-1H751.1v-1H750.8v-1H749.8v-1H750.9v-1H750.3v-1v-1H748.5v-1H749.8v-1H750.6v-1H749.5v-1H749.9v-1H750.2v-1H749.2v-1H748.9v-1H748.5v-1H749.2v-1H750.7v-1H750.3v-1H751.1v-1H749.3v-1H748.3v-1H742.4v-1H740.6v-1v-1v-1H744.6v-1H744.8v-1H746.4v-1H746.2v-1H746.7v-1H748.2v-1H749.1v-1v-1H751.1v-1H750.4v-1H750.5v-1H751.1v-1H750.9v-1H751.1v-1H750.1v-1H750.5v-1H751.1v-1v-1v-1v-1H748.2v-1H748.6v-1H750.5v-1H751.1v-1H750v-1H751.1v-1H750.1v-1H751v-1H750.5v-1H751.1v-1v-1H750.4v-1H751.1v-1v-1H748.5v-1H747.6v-1H746.2v-1H747.8v-1H747v-1H749.1v-1H750.3v-1H749.8v-1H749.4v-1H749.5v-1H750.9v-1H751.1v-1H750.5v-1H750.1v-1H750v-1H749v-1H749.3v-1H750.7v-1H751.1v-1v-1v-1H750.7v-1H749.3v-1H749.4v-1H748.9v-1H750.1v-1H751.1v-1v-1H751v-1H751.1v-1v-1v-1v-1v-1H750.6v-1H751.1v-1v-1H750.2v-1H749.3v-1H750.2v-1H751.1v-1v-1v-1v-1H750.2v-1H751.1v-1v-1v-1H749.7v-1H750.5v-1v-1H750.4v-1H750.8v-1H751.1v-1v-1v-1H749.9v-1H751.1v-1H750.4v-1H749.3v-1H751v-1H750.6v-1H751.1v-1v-1H749.8v-1H749.2v-1H746.4v-1H742.8v-1H740.6v-1v-1H746.8v-1H750.2v-1H751.1v-1v-1v-1v-1v-1v-1v-1v-1H749.5v-1H750.2v-1H751.1v-1H750.5v-1H751.1v-1v-1v-1v-1v-1v-1v-1H750.1v-1H750.9v-1H751.1v-1H750.6v-1H751.1v-1H749.9v-1H751.1v-1H750.4v-1H749.3v-1H750.1v-1H751.1v-1ZM784.5 71v1H784.2v1H785.2v1H784.8v1H785.4v1H785.9v1H787.9v1H787.7v1H787.8v1H793.1v1H792.6v1H791.6v1H787.8v1H786.8v1H786.1v1H785.8v1H784.5v1H783.9v1H785.7v1H783.9v1H784.8v1H787.2v1H786.4v1H784.2v1H787.8v1H789.1v1H788.3v1H788.9v1H793.4v1H790.7v1H788.3v1H787.8v1H792.3v1H803.8v1H807.4v1v1H797v1H790.2v1H788.7v1H789.3v1H790.8v1H792.9v1H794.6v1H794v1H794.5v1H795.5v1H794.8v1H794.1v1H797.6v1H801.4v1H800.8v1H802.3v1H802.9v1H800.9v1H802.2v1H795.1v1H788.7v1H783.9v1H785.3v1H783.9v1H786.9v1H791.4v1H795.7v1H791.5v1H790.4v1H787.9v1H788.4v1H788.1v1H786.5v1H786.4v1H787.1v1H794.6v1H796v1H801.7v1H799.1v1H796.8v1H794.1v1H790.4v1H787.5v1H783.9v1v1H788.1v1H788.5v1H789.1v1H787v1H785.1v1H788.6v1H789.3v1H798.2v1H798.1v1H800.4v1H794.6v1H788.6v1H786.7v1H786.8v1H792.1v1H793.8v1H795.8v1H798.2v1H796.1v1H798.8v1H797.1v1H798.1v1H800.4v1H799v1H793.2v1H788.7v1H783.9v1H784.2v1H785.7v1H788.3v1H787.6v1H788.3v1H790.6v1H789v1H786.2v1H785.4v1H786.5v1H783.9v1v1v1v1v1v1v1v1v1v1v1v1H785.2v1H784.1v1H787.2v1H787.6v1H786.7v1H792.2v1H796v1H804v1H807.4v1v1v1H804.1v1H794.8v1H787.6v1v1H793.4v1H796.1v1H797.3v1H794.7v1H786.9v1H786.6v1H786.4v1H789v1H789.5v1v1H785.8v1H783.9v1H789v1H790.4v1H790.2v1H790.6v1H789.5v1H789.8v1H791.4v1H787.8v1H788.7v1H793.5v1H790.8v1H788.4v1H786.6v1H790.5v1H794.3v1H793.3v1H792.7v1H784.4v1H783.9v1H785.4v1H787.6v1H790.3v1H793.7v1H790.9v1H791.9v1H792v1H793.2v1H792.7v1H792.3v1H792.1v1H786.7v1H787.3v1H789.6v1H789.9v1v1v1H786.4v1H785.7v1H787.6v1H789.3v1H786.3v1H790.8v1H793.2v1H795.8v1H797v1H798.7v1H791.7v1H785v1H784.9v1H788.3v1H788.8v1H786.1v1H786v1H785.1v1H783.9v1H788.1v1H794.5v1H795.3v1H795v1H779.1v-1H779v-1H779.9v-1v-1v-1v-1H778.4v-1H779.9v-1v-1H779.5v-1H778.6v-1H779.9v-1v-1H779.6v-1H779.9v-1v-1v-1v-1v-1H778.4v-1H777.1v-1H777v-1H776.3v-1H776.6v-1H778.2v-1H779v-1H779.8v-1H778.3v-1H778.7v-1H779.8v-1H779.9v-1v-1H779.1v-1H779.9v-1H776v-1H778.7v-1H777.3v-1H776.3v-1H779.2v-1H779v-1H776.6v-1H777.6v-1H778.3v-1H779.9v-1H778.6v-1H777.1v-1H776.9v-1H779v-1H779.2v-1H779.9v-1H779.7v-1H779.9v-1H779.8v-1H779.9v-1v-1H777.9v-1H778.9v-1H779.7v-1H779.9v-1v-1H778.4v-1H779.7v-1H778.9v-1H779.4v-1H779.9v-1H778.6v-1H779.9v-1H778v-1H777.6v-1H777.4v-1H778.3v-1H779.5v-1H778.2v-1H777.4v-1H778v-1H775.6v-1H769.4v-1v-1H770.9v-1H774.5v-1H777.8v-1H779.8v-1H778.6v-1H779.6v-1H779.2v-1H779.7v-1H779.9v-1v-1v-1H779.2v-1H779.4v-1H779.8v-1H779.9v-1v-1v-1v-1v-1v-1v-1H778.7v-1H779.4v-1H779.9v-1v-1v-1v-1v-1v-1H779.7v-1H779.9v-1H778v-1H777.7v-1H778v-1v-1H779.5v-1H778.7v-1H779.9v-1v-1H777.6v-1H776.6v-1H777.5v-1H775.6v-1H776.9v-1H778.4v-1H779.3v-1H779.9v-1v-1H778.2v-1H779.9v-1v-1v-1H779.1v-1H779.9v-1v-1v-1H779.1v-1H779.9v-1v-1v-1H777.2v-1H776.9v-1v-1H779.9v-1H779.7v-1H778.3v-1H779.3v-1H776.9v-1H779.1v-1H779.6v-1H779.8v-1H778.9v-1H777v-1H776.7v-1H776.8v-1H776.2v-1H779.7v-1H778.8v-1H778.5v-1H779.2v-1H778.1v-1H779.5v-1H778.6v-1H779.2v-1H779.9v-1v-1v-1H779.8v-1H779.9v-1v-1H779.1v-1H779.9v-1H779.5v-1v-1H777v-1H778.5v-1H778.3v-1H779.9v-1v-1H779.1v-1H777.9v-1H774.2v-1H770.8v-1H770.3v-1H773.7v-1H777.3v-1H778.1v-1H779.9v-1H778.6v-1H779.2v-1H779.9v-1v-1H779.7v-1v-1H779.9v-1v-1v-1H778.8v-1H779v-1H779.5v-1H777.9v-1H777v-1H779.7v-1H779.9v-1v-1v-1v-1H779.3v-1H778.9v-1H779.9v-1v-1H776.8v-1H778.1v-1H779.2v-1H779.9v-1v-1v-1ZM816.1 71v1H818.3v1H816.8v1H815.3v1H815.8v1H816.5v1H816v1H818v1H818.3v1H821.1v1H818.6v1H815.9v1H815.6v1H813.9v1H812.6v1v1v1v1H815.3v1H814.2v1H815v1v1H812.6v1v1v1H813v1H813.9v1H812.6v1v1H812.8v1H812.6v1v1H817.9v1H828.5v1H834.1v1H836.1v1H832.7v1H822.1v1H817.8v1H814.8v1H816.3v1H816.9v1H817.3v1H812.6v1v1H815.9v1H817.7v1H818.3v1H817.3v1H816.2v1H818.8v1H820.8v1H822.4v1H817.7v1H818.5v1H816.4v1H818.5v1H816.9v1H818.4v1H821v1H821.1v1H816.1v1H815.1v1H816.7v1H817.2v1H815.4v1H812.6v1H813.4v1H817.7v1H818.6v1H818.7v1H816.9v1H815.6v1H814.3v1H812.6v1H815.6v1H817.3v1H817.9v1H819v1H819.8v1H820.9v1H822.3v1v1H819.5v1H817.6v1H813.9v1H812.6v1H816.7v1H818.8v1H818.3v1H816v1H814.8v1H812.6v1H813.1v1H812.6v1H817.4v1H820.7v1H823.9v1H820.2v1H815.7v1H817.9v1H821.7v1H820.3v1H820v1H815.8v1H815.4v1H813.3v1H813.8v1H816.4v1H816.8v1H822v1H817.7v1H820.1v1H818.5v1H814.7v1H814.8v1H815.1v1H816.5v1H815v1H816.2v1H815.6v1H812.8v1H812.6v1H813.8v1H813.4v1H813.5v1H812.6v1H813.1v1H814v1H814.3v1H818.1v1H817.9v1H818.8v1H819.2v1H817.9v1H822.9v1H834.8v1H836.1v1v1H828v1H821.8v1H814v1H813.4v1H817.7v1H818.4v1H821.5v1H820.5v1H821.6v1H820.1v1H819.6v1H819.2v1H817.4v1H813.8v1H815.1v1H817.9v1H819.3v1H816.9v1H816v1H814v1H812.6v1H813.1v1H812.6v1v1v1v1v1H813.3v1H819.3v1H818.5v1H817.8v1H814.5v1H814.2v1H812.6v1v1H814.6v1H817.2v1H818.2v1H817.4v1H816v1H814.8v1H815.8v1H814.2v1H815.5v1H815.2v1H813.9v1H814.1v1H815v1H814v1H813.8v1H814.1v1H812.6v1H816.7v1H817v1H815.9v1H813.3v1H814v1H816.7v1v1H818.1v1H817.5v1H812.6v1v1H813.3v1H812.6v1v1H812.7v1H814.6v1H815.9v1H816.8v1H817.4v1H816.2v1H814.8v1H813.5v1H814.4v1H812.6v1v1H808v-1H808.6v-1v-1v-1v-1H808.2v-1H808.1v-1H808.6v-1v-1v-1H807.8v-1H808.6v-1v-1H808.5v-1H808.6v-1v-1v-1H808.4v-1H808.6v-1v-1H808.1v-1H807.6v-1H808.6v-1v-1v-1v-1H807.9v-1H808.6v-1v-1v-1v-1H807.7v-1H806.5v-1H808.1v-1H808.2v-1H808.6v-1v-1v-1H808.1v-1H808.4v-1H808v-1H808.4v-1H808.6v-1H808v-1H808.6v-1H808.1v-1H808.6v-1v-1H807.4v-1H808v-1H807.1v-1H808v-1H806.8v-1H807.6v-1H807.9v-1v-1H808.2v-1H808.6v-1v-1v-1v-1H807.5v-1v-1H807.4v-1H807.5v-1H808.3v-1H808.6v-1v-1v-1v-1v-1v-1v-1H807v-1H806.1v-1H804v-1H800.6v-1H799.3v-1H798.1v-1H802v-1H805.3v-1H806.9v-1H808.6v-1v-1H806.1v-1H808.5v-1H808v-1v-1H807.6v-1H808.6v-1H808.5v-1H808.6v-1v-1H808.5v-1H807.8v-1H808.6v-1v-1v-1v-1v-1H807.2v-1H807.7v-1v-1H807.9v-1H808.6v-1v-1H807.2v-1H807.9v-1H808.5v-1H806.7v-1H805.6v-1H805.8v-1H807.3v-1H808.6v-1H807.8v-1H808.6v-1v-1H806.6v-1H807v-1H806.8v-1H805.6v-1H806.1v-1H803.9v-1H805.4v-1H808v-1H808.2v-1H808.6v-1H805.2v-1H805.5v-1H806.2v-1H805.6v-1H806v-1H806.5v-1H807.7v-1H805.9v-1H807.6v-1H807.9v-1H805.7v-1H806.2v-1H807.4v-1H808.6v-1H807.2v-1H804.9v-1H806.4v-1H807.3v-1H807.5v-1H807.1v-1H807.4v-1H808.2v-1H807.8v-1H808.1v-1H807.1v-1H806.8v-1H806.5v-1H806.7v-1H808.6v-1v-1H807.5v-1v-1H805.9v-1H807.2v-1H806.7v-1H804.4v-1H805.4v-1H804.3v-1v-1H805.9v-1H807.9v-1H808.6v-1v-1v-1v-1v-1v-1v-1v-1v-1H807.8v-1H805v-1H801v-1H798.1v-1H798.7v-1H802.9v-1H805.9v-1H807.1v-1H808.6v-1H808.5v-1v-1H808.6v-1v-1H807.7v-1H808.6v-1H808v-1H808.6v-1v-1v-1H807.8v-1H806.5v-1H806.4v-1H808.6v-1H808.1v-1H808.6v-1H807.4v-1H808.2v-1H808.6v-1v-1H808.5v-1H808.6v-1H806.4v-1H807.3v-1v-1H808.6v-1v-1H806.5v-1H808.6v-1H807.9ZM850 71v1H852.9v1H852.8v1H854v1H857v1H852.8v1H852.3v1H855v1v1H857.3v1H853.7v1H849.5v1H842.9v1H841.3v1H842.8v1H846.4v1H845.1v1H844.6v1H844.9v1H846.4v1H843.7v1H842.6v1H841.7v1H841.3v1v1v1v1H844.1v1H847.8v1v1H849.5v1H849.1v1H850.1v1H854.2v1H862.2v1H864.8v1H861.1v1H853.4v1H847.8v1H846.4v1H843.6v1H843v1H843.1v1H844.8v1H844.3v1H841.7v1H841.3v1H841.6v1H843.9v1H845.6v1H846v1H842.9v1H841.3v1H843.6v1H842.5v1H844.3v1H847.2v1H844.2v1H843.6v1H842.7v1H841.3v1H842v1H842.4v1H841.3v1H844.8v1H841.8v1H841.3v1v1H845.2v1H842.5v1H843.1v1H844.1v1H846.1v1H849.2v1H847.1v1H844.2v1H848.4v1H851.2v1H849.3v1H844v1v1H841.3v1v1v1H843.8v1v1v1v1H841.3v1v1v1v1v1H843.8v1H841.3v1v1v1H843.9v1H842.6v1H843.5v1H843.8v1H845.2v1H846.4v1H845.7v1H847.1v1H845.1v1H846v1H848.8v1H849.6v1H847.1v1H844.7v1H843.4v1H845.8v1H845.3v1H848.8v1H849.1v1H848.9v1H849.4v1H846.8v1H841.3v1H844.1v1H848.4v1H853.1v1H852v1H851v1H851.1v1H852v1H850.2v1H844.3v1H847.9v1H850.5v1H850.3v1H842.7v1H841.8v1H842.7v1H849.7v1H862.3v1H864.8v1v1H859.5v1H850.7v1H850.8v1H847.9v1H843v1H843.8v1H841.3v1H842.3v1H842.7v1H846.4v1H849.3v1H847v1H841.3v1v1H846.4v1H850.5v1H852.2v1H850.6v1H847v1H841.3v1H843.5v1H848.2v1H850.4v1H852.7v1H853.8v1H850.8v1H849.6v1H842.9v1H845.2v1H845.8v1H847.1v1H848.3v1H847.9v1H846.3v1H844v1H841.3v1H842.4v1H846.3v1H845.5v1H843.8v1H843.1v1H841.3v1v1H844.1v1H844.6v1H842.2v1H842.5v1H844.4v1H842.7v1H841.3v1H842.5v1H843.1v1H845.5v1H845.9v1H843.8v1H842.7v1H841.3v1H847.6v1H850.8v1H856.9v1H857.5v1H856.7v1H852.6v1H847.7v1H842.4v1H841.3v1H844.6v1H847v1H852.2v1H855.7v1H851.9v1H845.8v1H842.8v1H842.3v1H844.5v1H846.9v1H843.1v1H835.5v-1H836.3v-1H837.2v-1H837.3v-1v-1H836.7v-1H837.3v-1H834.1v-1H833.3v-1H835.7v-1H837.3v-1v-1H836.1v-1H837.3v-1v-1v-1H835.5v-1H834.8v-1H835.5v-1H835.2v-1H837.3v-1H836.2v-1H835.6v-1H834.1v-1H835.3v-1H837.3v-1H834.4v-1H835.2v-1H835v-1H836.2v-1H837.3v-1H835.4v-1H837v-1H836.6v-1H837.2v-1H836.8v-1H835.6v-1H834.6v-1H835.6v-1H835.5v-1H833.6v-1H832.8v-1H833.1v-1H833.2v-1H836.5v-1H836.4v-1H833.3v-1H833.2v-1H833.3v-1H835.7v-1H836.4v-1H837.3v-1v-1v-1v-1H835.2v-1H834.6v-1H831.9v-1H832.8v-1H835.4v-1H837v-1H837.3v-1v-1H836.8v-1H835.2v-1H832.9v-1H833.1v-1H833v-1H832.9v-1H832.6v-1H831.7v-1H834.9v-1H835.2v-1H835.5v-1H836.4v-1H837.3v-1H833.7v-1H827.6v-1H826.8v-1v-1H831.3v-1H834.6v-1H834.1v-1H836.6v-1H835.5v-1H836.2v-1H834v-1H834.5v-1H835.4v-1H837.3v-1H836.8v-1H837.3v-1H836.1v-1H837.3v-1v-1v-1v-1v-1H836.9v-1H836v-1H835.9v-1H834.3v-1H836.2v-1H834.4v-1H833.9v-1H835.3v-1H834v-1H833.8v-1H834.9v-1H836.6v-1H837.3v-1v-1v-1v-1v-1H836.2v-1H837.2v-1H836.5v-1H834.8v-1H835.6v-1H836.8v-1H836.6v-1H836.2v-1H837.3v-1v-1H837.2v-1H837.3v-1H835.5v-1H835.1v-1H836v-1H835.1v-1H837.3v-1v-1H836.5v-1H835.3v-1H835.2v-1H834.6v-1H835.4v-1H835.2v-1H834.4v-1H836v-1H837.3v-1H835.5v-1H835.4v-1H837.3v-1H835.5v-1H836.9v-1H837.3v-1H836.4v-1H837.3v-1H837v-1H835.9v-1H836.4v-1H836v-1H836.9v-1H836.7v-1H836.3v-1H835.2v-1H835.8v-1H837.3v-1H834.9v-1H835.8v-1H836.7v-1H836v-1H835.9v-1H836v-1H837v-1H836.6v-1H836.8v-1H837.2v-1H837.3v-1v-1v-1v-1v-1H836.5v-1H837v-1H836.3v-1H831.5v-1H829.3v-1H827.3v-1H829.4v-1H833.9v-1H836.3v-1H837v-1H837.2v-1H837v-1H837.3v-1v-1v-1v-1v-1H835.7v-1H836.7v-1H837.1v-1H836.6v-1H837.3v-1H837.1v-1H837.3v-1H837.2v-1H836.7v-1v-1H836.6v-1H837.3v-1H836.6v-1H833.9v-1H835.6v-1H835.7v-1H837.3v-1v-1v-1v-1H836.8v-1H836.7v-1H837.3v-1ZM872.6 71v1H872.8v1H875.4v1H874.6v1H874.5v1H878.8v1H878v1v1H880.8v1H881.4v1H880.2v1H872.6v1H875.5v1H871.8v1H872.2v1H871.3v1H874.4v1H872.5v1H870v1H870.1v1H870v1v1v1v1H872.3v1H876.5v1H879.5v1H875.6v1H879.5v1H878.1v1H874.7v1H877.8v1H875.9v1H879.8v1H886.5v1H893.5v1v1v1H884v1H874.1v1H871.9v1H870v1H871.4v1H870v1v1v1v1H872.4v1H870v1H870.4v1H871.4v1H871.6v1H870.3v1H872.1v1H873.3v1H871.5v1H870v1H870.8v1H871.3v1H873.1v1H872.7v1H873.1v1H873.2v1H871.3v1H870v1v1v1H872.6v1H871.9v1H872.4v1H874.8v1H870v1v1H873.5v1H872.5v1H871.5v1H871.1v1H871.8v1H873.1v1H871.5v1H875v1H881.5v1H878.9v1H879.6v1H877.4v1H876.8v1H877.1v1H877.4v1H876.4v1H875.6v1H874.7v1H872.1v1H871.3v1H875.6v1H875.4v1H875.3v1H878v1H877.3v1H877.8v1H877.2v1H871.6v1H870.9v1H870v1H872.4v1H875.1v1H871.9v1H870v1H877.8v1H879.1v1H879v1H875.4v1H874.2v1H871.6v1H874.6v1H876.8v1H878v1H875.9v1H873.1v1H870.7v1H870.6v1H879v1H881.4v1H885.1v1H884.2v1H881.6v1H877.7v1H874.2v1H874.5v1H876.5v1H877.3v1H876.2v1H870.5v1H872.9v1H876.3v1H885.5v1H889.7v1H893.5v1v1v1H886.7v1H882.7v1H880.1v1H874.9v1H871.9v1H872.2v1H872.4v1H871.6v1H875.4v1H874.2v1H874.6v1H872.9v1H871.3v1H870v1H871.8v1H872.7v1v1H873.2v1H874.4v1H876v1H873.7v1H877.6v1H874.2v1H872.1v1H873v1H870v1v1H870.6v1H870v1H870.1v1H870v1v1v1H870.9v1H870.4v1H874v1H872.9v1H872.8v1H870.2v1H870v1v1v1v1H870.6v1H870v1v1H873.9v1H875.5v1H876.9v1H876.7v1H878.6v1H876.4v1H876.8v1H876.4v1H876.8v1H875.7v1H875.1v1H875.3v1H873v1H872.9v1H870v1H872.8v1H870.7v1H875.1v1H873.3v1H872.7v1H874.1v1H875.9v1H877.5v1H875.3v1H875.9v1H877.4v1H879.8v1H880.5v1H882.1v1H883.8v1H885.3v1H866v-1v-1H865.4v-1H866v-1H865.9v-1H865.5v-1H865.9v-1v-1H864.2v-1H863.3v-1H862.2v-1H864.6v-1H864.5v-1v-1H866v-1v-1v-1H865.6v-1H864.1v-1v-1H866v-1H864.8v-1H864.9v-1H866v-1H865.8v-1H866v-1v-1v-1v-1H865.3v-1H865v-1v-1H865.4v-1H866v-1H865.6v-1v-1H866v-1v-1v-1H865.7v-1H864.5v-1H866v-1v-1v-1H865.6v-1H865.9v-1H865.6v-1H865.3v-1H866v-1v-1H865.3v-1H865.4v-1H863.6v-1H865.4v-1H866v-1v-1H865.5v-1H866v-1v-1H865.5v-1H866v-1v-1v-1v-1H864v-1H863.7v-1H864.3v-1H864.1v-1H865.4v-1v-1H862.4v-1H863.8v-1H864.4v-1H865.2v-1H866v-1v-1H861v-1H858.5v-1H856v-1H857.1v-1H861.2v-1H864.5v-1H866v-1v-1v-1H865.6v-1H864.5v-1H866v-1H864.4v-1H864.1v-1H862.4v-1H864.2v-1H865v-1H866v-1H865.4v-1H864.7v-1H862.2v-1H865v-1H865.6v-1H866v-1H864v-1H863.6v-1H864.8v-1v-1H866v-1v-1H865.6v-1H865.4v-1H864.6v-1H861.7v-1H863.9v-1H865.6v-1H866v-1v-1v-1v-1v-1v-1v-1v-1v-1v-1H865.6v-1v-1H864.4v-1H863.1v-1H862.8v-1H865.9v-1H866v-1H865.6v-1H865.8v-1H865.3v-1H866v-1H865.6v-1H866v-1v-1v-1v-1H865.7v-1H864.6v-1H866v-1v-1v-1v-1H865.7v-1H865.3v-1H865.5v-1H865.4v-1H866v-1v-1v-1v-1v-1v-1H865.9v-1H864.8v-1H865.4v-1H866v-1v-1v-1v-1v-1v-1H865.8v-1H865.9v-1H866v-1v-1v-1H865.3v-1H866v-1v-1H865.7v-1H865.1v-1H864.5v-1H864.1v-1H862v-1H861.6v-1H860.1v-1H856.1v-1H855.5v-1v-1H861.9v-1H866v-1v-1v-1v-1v-1v-1v-1H865.6v-1H866v-1v-1v-1v-1v-1v-1H865.8v-1H866v-1H865.1v-1H866v-1H865.8v-1H864.2v-1H865.7v-1H864.6v-1H861.1v-1H861.7v-1H862.4v-1H862.7v-1H862.5v-1H863.1v-1H862.4v-1H864.4v-1H865.4v-1H866v-1v-1H865.3ZM907 71v1H907.1v1H903.6v1H901.7v1H900.3v1H900.5v1H898.7v1H900.2v1H898.7v1H899.6v1H898.7v1v1H899v1H903.3v1H899.2v1H900.2v1H899v1H899.9v1H899v1H904.2v1H906.6v1H909.3v1H905.7v1H908.4v1H908.5v1H905.7v1H905.3v1H903.2v1H901.7v1H904.6v1H906.4v1H905.8v1H902.2v1H905.6v1H906.2v1H913.6v1H922.2v1v1v1H910.9v1H902.1v1H901.3v1H900v1H901.1v1H899.9v1H901.5v1H904.9v1H907.3v1H906v1H901v1H900.2v1H900.4v1H901.3v1H902.5v1H900.5v1H899.9v1H899.4v1H898.7v1H903.2v1H902.8v1H901.9v1H901.4v1H899.7v1H898.7v1v1v1v1H899.6v1H899.3v1v1H901.4v1H900.6v1H901.4v1H899.9v1H899.3v1H898.7v1H900.8v1H898.7v1v1H901.8v1H901.5v1H901.7v1H899.3v1H904.4v1H906v1H901.7v1H900.5v1H902.4v1H904.5v1H906.9v1H905.8v1H906.1v1H910.7v1H911.2v1H908.3v1H900.8v1H899.5v1H898.7v1H901.3v1H902.6v1H909.4v1H906.5v1H905.8v1H907v1H909.1v1H907.6v1H902.7v1H900.5v1H904.9v1H904.4v1H903v1H906.3v1H908v1H908.6v1H903.8v1H901v1H899.7v1H901.1v1v1H902.8v1H904v1H902.5v1H901.9v1H903.9v1H901.5v1H903.1v1H901.2v1H899.3v1v1H898.7v1v1H899.4v1H901v1H905.5v1H911.2v1H919.4v1H922.2v1v1H914.4v1H903.6v1H899.7v1H898.7v1H899.7v1H901.1v1H898.7v1v1v1H899.2v1H898.7v1H899.1v1H898.7v1H900.4v1H903.3v1H902.4v1H904.9v1H903.1v1H902.6v1H902.2v1H903.1v1H902.8v1H903.7v1H898.7v1v1v1H901.1v1H901.9v1H900.1v1H900.2v1H905.5v1H905.1v1H902.8v1H900.9v1H901.3v1H900.8v1H906.2v1H910.3v1H910.8v1v1H908.1v1H905.6v1H901.5v1H898.7v1H907.3v1H910.5v1H917.9v1H916.9v1H912.1v1H903.9v1H899.8v1H909.3v1H913.9v1H918.4v1H921.9v1H917.1v1H913.6v1H908.4v1H903v1H899v1H904.3v1H908.1v1H904.1v1H900v1H898.7v1H898.9v1H903.4v1H904.8v1H903.5v1H900.3v1H900.6v1H901.5v1H901.1v1H904.7v1H903.6v1v1H905.9v1H901.7v1H894.3v-1H894.4v-1H894.7v-1H894v-1v-1H894.7v-1H891.6v-1H894.7v-1H892.8v-1H894.7v-1v-1v-1H894.3v-1H894.7v-1H893.5v-1H894.7v-1H893.6v-1H892.8v-1H894.1v-1H894.7v-1H893.4v-1H893.8v-1H892.8v-1H891.6v-1H892.3v-1H892.5v-1H892.7v-1H892.2v-1H893v-1H890.6v-1H891.3v-1H892v-1H892.5v-1H894.7v-1v-1H894.5v-1H892.6v-1H892.3v-1H892.4v-1H892v-1H894.2v-1H893.3v-1H892.3v-1H893.1v-1H891.2v-1H891.4v-1H892.1v-1H893.1v-1H892.8v-1H893.2v-1H894.4v-1H894.7v-1v-1v-1H894.6v-1H894.7v-1H894.2v-1H894.7v-1v-1v-1v-1H894.3v-1H894.7v-1v-1H894.3v-1H894.7v-1v-1v-1H894.2v-1H894.7v-1H894.4v-1H894.7v-1H894.4v-1H894.7v-1v-1v-1H893.1v-1H889.2v-1H886.2v-1H886.1v-1H888.6v-1H892.6v-1H893.7v-1H894.5v-1H894.7v-1v-1v-1v-1H893.5v-1H894.7v-1v-1v-1H894.4v-1H892.9v-1H891.8v-1H892.6v-1H893.6v-1H894.7v-1H892.7v-1H892.6v-1H890.9v-1H893.2v-1H894.7v-1H892.7v-1H891.9v-1H891.4v-1H892v-1H894.7v-1H894.4v-1H893.8v-1H893.5v-1H894.2v-1H894.7v-1v-1v-1v-1v-1v-1v-1H891.9v-1H893v-1H894v-1H892.4v-1H892.6v-1H894.7v-1H894.4v-1H892.6v-1H894.7v-1H894.5v-1H894.1v-1H894.5v-1H894.2v-1H894.7v-1H894.5v-1H894.4v-1H893.6v-1H894.7v-1v-1v-1v-1v-1v-1H893.2v-1H894.4v-1H894.7v-1H893v-1H893.4v-1H894.5v-1H894.7v-1H893.3v-1H892v-1H892.6v-1H890.4v-1H891v-1H892.4v-1H892.9v-1H894.5v-1H893.1v-1H893.6v-1H893.4v-1H891.8v-1H891.4v-1H890.7v-1H891.8v-1H893.4v-1H893.1v-1H893.3v-1H894.7v-1v-1v-1H893.7v-1H893.4v-1H891.3v-1H893v-1H894.1v-1H891.6v-1H891.5v-1H886.6v-1H887v-1H884.2v-1H884.3v-1H888.5v-1H890.6v-1H893.9v-1H893.6v-1H894.7v-1v-1v-1v-1H894.5v-1H893.9v-1H894.4v-1H893.9v-1H894.7v-1H892.9v-1H894.7v-1H894v-1H894.7v-1H893.8v-1H894.7v-1v-1v-1v-1v-1v-1H894.1v-1H894.7v-1v-1v-1v-1H894.5v-1H892.7v-1H893.5v-1H894.7v-1v-1H893ZM928.7 71v1H929.7v1H930.8v1H928.4v1H929.3v1H930.8v1H930.3v1H931.8v1H931.9v1H929.9v1H931.3v1H927.5v1v1H929.7v1H935.5v1H934.7v1H937.7v1H936.8v1H940.8v1H939.2v1H943v1H935.9v1H930.9v1H927.5v1v1H928.9v1H928.6v1H927.5v1H928.4v1H928.2v1H936.4v1H936.2v1H942.5v1H941.2v1H951v1v1v1H943v1H935.2v1H934.7v1H938.6v1H936.6v1H933.9v1H930.3v1H929.2v1H931.5v1H929.4v1H931.8v1H929.1v1H929.5v1H933.2v1H933.1v1H935.4v1H931.6v1v1H928.9v1H930.4v1H927.5v1v1v1H928v1H930.4v1H932.4v1H935.2v1H938.4v1H939.4v1H936.6v1H937v1H936.1v1H937.1v1H936.6v1H934.5v1H932.5v1H927.5v1v1H929.1v1H927.5v1H930.9v1H931.3v1H930.7v1H927.5v1v1v1v1H928.9v1H928.8v1H932.8v1H931.4v1H928.7v1H928.2v1H928.6v1v1H933v1v1H933.7v1H933.5v1H933v1H931.3v1H927.5v1H929.9v1H931.2v1H932.5v1H931.9v1H929.4v1H927.5v1H930.1v1H930.9v1H930.1v1H930v1H928.1v1H932.1v1H936.3v1H938.2v1H939.1v1H935.5v1H934.8v1H933.1v1H928.6v1H930.2v1H930.9v1H937.5v1H939.3v1H937.6v1H934v1H927.5v1H933.8v1H937.3v1H935.6v1H934.3v1H933.2v1H930.2v1v1H935v1H940.1v1H946v1H951v1v1H948.8v1H938.1v1H933.4v1H930.7v1H932.1v1H933.4v1H932.9v1H932.3v1H931.2v1H929.8v1H927.5v1H929.3v1H931.1v1H932.5v1H931.1v1H930.5v1H934.5v1H935v1H936.8v1H937.2v1H937v1H935.3v1H935.8v1H932.9v1H929.7v1H931.6v1H929.9v1H931.6v1H928.6v1H928.2v1H927.5v1H931.6v1H933.1v1H933.6v1H933.3v1H931.5v1H929.4v1H927.5v1H929.1v1H930.5v1H932.4v1H936.1v1H935.6v1H939.4v1H941.3v1H936.3v1H934.6v1H931.6v1H931.9v1H930.9v1H928v1H927.8v1H928.6v1H930.1v1H927.5v1H928.4v1H928.9v1H930.3v1H932v1H935.1v1H936.5v1H939.6v1H943.1v1H938.2v1H937v1H931.4v1H930.1v1H931.7v1H931.5v1H929.3v1H931v1H931.8v1H934.7v1H934.3v1H934.9v1H934.1v1H933.6v1H933.1v1H931.9v1H923.5v-1v-1v-1v-1v-1v-1v-1v-1v-1v-1H921.4v-1H921.3v-1H920.1v-1H920.8v-1H922.9v-1H923.5v-1H923.2v-1H919.6v-1H917.6v-1H919.6v-1H920.2v-1H923.5v-1v-1H921.7v-1H920.4v-1H920.6v-1H919.1v-1H921.6v-1H921v-1H923v-1H923.5v-1v-1v-1v-1v-1v-1H923v-1H922.8v-1H923.5v-1v-1H922.1v-1H921.7v-1H920.7v-1H921.4v-1H920.6v-1H921.1v-1H919v-1H920v-1H920.6v-1H921.4v-1H922.4v-1H922.3v-1H919.4v-1H919v-1H922.7v-1H923.3v-1H920v-1H915.9v-1H915.8v-1H917.5v-1H918.9v-1H922.4v-1H923.5v-1v-1v-1v-1v-1v-1H922.3v-1H921.9v-1H921.4v-1H921.9v-1H920.9v-1H923.5v-1H923.4v-1H923.1v-1H922.2v-1H917.8v-1H915.7v-1H913v-1H914.8v-1H920v-1H921.6v-1H923.3v-1H922.8v-1H922.6v-1H923.3v-1H923.2v-1H923.5v-1H921.9v-1H922.6v-1H921.9v-1H921.7v-1H922.1v-1H921.3v-1H922.3v-1H921.5v-1H921.3v-1H923.3v-1H920.9v-1H921.7v-1H920.5v-1H921.7v-1H921.5v-1H921.6v-1H923.5v-1v-1v-1v-1v-1v-1v-1v-1v-1v-1v-1v-1v-1v-1H922.5v-1H923.5v-1v-1v-1v-1v-1v-1v-1v-1v-1H922.3v-1H923.5v-1H922.9v-1H922.6v-1H922.5v-1H922.3v-1H923.5v-1v-1H922.2v-1H923.5v-1v-1v-1H922.9v-1H922.1v-1H922.8v-1H922.3v-1H922.8v-1H923.5v-1H922.9v-1H923.5v-1v-1v-1H923.1v-1H923.3v-1H923.5v-1v-1H923.3v-1H921.1v-1H921.5v-1H922.5v-1H922.4v-1H923.5v-1v-1v-1H923.3v-1H923.5v-1v-1v-1v-1v-1v-1H922.5v-1H922.4v-1H923.5v-1H922.9v-1H923.5v-1H922.4v-1H923.5v-1H922.1v-1H918.2v-1H915.9v-1H913v-1H914.7v-1H919.5v-1H922v-1H922.7v-1H922.1v-1H922.4v-1H923.1v-1H922.6v-1H921.2v-1H919.2v-1H922.3v-1H922.4v-1H923.4v-1H921.3v-1H919.5v-1H920.5v-1H922.6v-1H921.9v-1H921.7v-1H922.5v-1H923.5v-1H923.2v-1H921.7v-1H922v-1H923.5v-1H922.3v-1H923.5v-1H922.8v-1H923.5v-1v-1v-1v-1v-1v-1ZM961.8 71v1H963.2v1H961.4v1H959.8v1H964.2v1H963.9v1H966.3v1H964.7v1H960.7v1H957.6v1H963.4v1H969.1v1H972.2v1H968.1v1H965.3v1H961v1H962.5v1H963.7v1H964.2v1H966.7v1H968.9v1H970.5v1H969.7v1H971.8v1H967.6v1H965.6v1H963.6v1v1H963.1v1H960.1v1H956.2v1H960.6v1H959.8v1H962.4v1H960.6v1H966.5v1H975.5v1H979.7v1v1H979.4v1H966.9v1H960.1v1H956.6v1H956.2v1v1H957.7v1H959.5v1H960.5v1H956.5v1H956.8v1H956.2v1H960.4v1H966.5v1H967.5v1H966.1v1H964.3v1H961.4v1H960.3v1H962.1v1H962.3v1H960.6v1H957.5v1H959.8v1H957.3v1H956.2v1v1H957.6v1H957.5v1H956.2v1v1v1H958.3v1H957.5v1H961.4v1H960.8v1H961.7v1H958.6v1H956.2v1H958.2v1H959.1v1H963.3v1H962.4v1H960.8v1H956.3v1H956.2v1v1v1H960v1H963.6v1H962.1v1H960.4v1v1H961.7v1H961.5v1H963.3v1H961.1v1H961v1H963.1v1H966.3v1H963.3v1H965.9v1H960.9v1H959.3v1H960.3v1H964v1H968.5v1H969.8v1H970.9v1H968.2v1H962.5v1H959.4v1H957.2v1H960.8v1H961.9v1H958.1v1H956.2v1v1H959.9v1H962.4v1H962v1H963.1v1H959v1H962.3v1H965.4v1H964.1v1H960.8v1H957.4v1H956.2v1H959v1H958.2v1H960.3v1H958.5v1H961.8v1H965.1v1H976.6v1H979.7v1v1H972.8v1H962.3v1H958.5v1H957.7v1H962.4v1H957.2v1H957.5v1H956.2v1H959.8v1H964v1H970v1H974.1v1H971.9v1H968.6v1H964.5v1H959v1H960.6v1H957.3v1H962.6v1H964v1H964.6v1H960.7v1H963.2v1H956.2v1v1H957v1H957.9v1H960.5v1H962.8v1H962.2v1H961.4v1H962.1v1H957.3v1H962.1v1H959.2v1H959.7v1H958.9v1H960.6v1H958.4v1H959v1H956.3v1H959.1v1H961.4v1H964.1v1H966.7v1H967v1H965.3v1H968.5v1H966.8v1H962.7v1H958.6v1H960.1v1H956.4v1H959.7v1H961.1v1H963.1v1H962.6v1H961.5v1H963.6v1H961.4v1H963.9v1H965.4v1H961.1v1H961.6v1H959v1H956.2v1H958.9v1H960.2v1H956.5v1H956.2v1H957v1H959.1v1H962.2v1H964.2v1H964.7v1H961v1H957.6v1H956.9v1H956.2v1H950.6v-1H950.9v-1H948.9v-1H951v-1H950.2v-1H950.7v-1H951.2v-1H952.2v-1H951.9v-1H952v-1H952.2v-1v-1v-1v-1H950.5v-1H950.2v-1H948.2v-1H949.1v-1H948.3v-1H950.5v-1v-1H952.2v-1H950.7v-1H951.5v-1H949.9v-1H950.6v-1H951.2v-1H949.9v-1H951.5v-1v-1H952.2v-1v-1H951.5v-1v-1H950.5v-1H951.6v-1H952.2v-1v-1v-1v-1H951.9v-1H952.2v-1v-1v-1H952.1v-1H951.6v-1H952.2v-1v-1v-1H950.9v-1H949.9v-1H951.4v-1H952.2v-1H951.7v-1H952.2v-1H952v-1H951.8v-1H952.2v-1v-1v-1H951.8v-1H950.8v-1H949.8v-1H946.4v-1H948.1v-1H948.8v-1H949.7v-1H952v-1H951.2v-1H950.5v-1H948.3v-1H948.9v-1v-1H946.4v-1H947.5v-1H950v-1H949.7v-1H948.6v-1H947.4v-1H945v-1H942.7v-1H943.9v-1H948.4v-1H949.2v-1H949.1v-1H948.2v-1H950v-1H952.2v-1v-1H950.4v-1H952v-1H948.6v-1H946.1v-1H947.9v-1H948.2v-1H952.2v-1H951.6v-1H948.6v-1H948.9v-1H948.5v-1H949.4v-1H948.9v-1H949.9v-1H951.2v-1H950.6v-1H950.3v-1H950.7v-1H950.8v-1H951.7v-1H952.2v-1H951.3v-1H952.2v-1H950.5v-1H951.1v-1v-1H951.5v-1H952v-1H950.7v-1H948.5v-1H949.8v-1H949.1v-1H951.4v-1H952.1v-1H949.1v-1H945.7v-1H945.4v-1H949.5v-1H949.9v-1H952.2v-1H950.5v-1H951.2v-1H952.2v-1v-1H951.2v-1H950.2v-1H951.6v-1H950.8v-1H951.1v-1H947.3v-1H947.5v-1H948.2v-1H950.4v-1H952.2v-1v-1v-1v-1H951v-1H951.2v-1H952.2v-1H951.4v-1H950.5v-1H951.7v-1H950.6v-1H950.1v-1H952.2v-1H951.7v-1H952.2v-1v-1v-1H950.2v-1H950.6v-1H951v-1H950.7v-1H950.8v-1H950.9v-1H949.2v-1H949v-1H950.2v-1H949.2v-1H950.2v-1H951.3v-1H951.8v-1H951.2v-1H948.1v-1H948.8v-1H951v-1H946.7v-1H941.7v-1v-1H943.2v-1H947.3v-1H951.4v-1H952.2v-1H951.1v-1H951v-1H947.7v-1H948.8v-1H950.8v-1H952.1v-1H952.2v-1H948v-1H947.5v-1H947.3v-1H949.4v-1H951v-1H950.8v-1H952.2v-1H950.1v-1H951v-1H947.2v-1H949.6v-1H949.7v-1H952.2v-1v-1H951.7v-1H950.9v-1H951.6v-1H952.2v-1v-1H950.3v-1H950.4v-1H951.1v-1H951v-1H952.2v-1v-1H951.7ZM990.9 71v1H987.3v1H986.4v1H988.2v1H990v1H985.4v1H984.9v1H989.3v1H990.3v1H990.8v1H991.8v1H993.8v1H993.2v1H991.8v1H987.4v1H988.5v1H988.6v1H986.5v1H985.7v1H984.9v1H988.7v1H991v1H997v1H994.5v1H992.8v1H990.6v1H987.1v1H984.9v1v1v1H986.7v1H993.2v1H997.5v1H1002.4v1H1005.3v1H1008.4v1v1v1v1H1006.4v1H1000.5v1H996.8v1H994v1H991.5v1H994.2v1H993.4v1H988.1v1H985.5v1H984.9v1H986.5v1H992.6v1H999v1H1000.2v1H999.5v1H996.5v1H988.5v1H985.2v1H993.4v1H999.8v1H995.8v1H989.1v1H991.7v1H992.6v1H993.2v1H991.5v1H988.3v1H985.6v1H987.6v1v1H991.9v1H989.6v1H990.2v1H989.2v1H989.7v1H985v1H986.1v1H989.1v1H993v1H991.7v1H985v1H984.9v1H989.2v1H993.9v1H996.6v1H997.7v1H994.1v1H994v1H990.8v1H984.9v1H985.1v1H987.9v1H992.7v1H989.5v1H987.9v1H984.9v1v1H986.3v1H986.7v1H988.7v1H989.6v1H989.9v1H989.6v1H992.7v1H991.9v1v1H992.5v1H990.2v1H989.5v1H988.4v1H988v1H989.3v1H988.2v1H988.7v1H985.3v1H985.4v1H985.8v1H985.2v1H986v1H986.9v1H987v1H988.1v1v1H989.6v1H988.3v1H987.4v1H984.9v1H986.6v1H985.8v1H986.9v1H989.7v1H986.2v1H985.3v1H985.9v1H987.6v1H994.2v1H1007v1H1008.4v1H1005v1H994.3v1H989.1v1H986.6v1H987.6v1H984.9v1H990.3v1H991v1H989.8v1H987.2v1H985.1v1v1H986.3v1H989.1v1H986.7v1H987v1H988.4v1H988.7v1H987.9v1H992.2v1H993.7v1H992.7v1H993.7v1H992.4v1H993v1H992.7v1H990.4v1H987.7v1H989.1v1H985.9v1H985.7v1H991.7v1H994.9v1H995.2v1H992.5v1H993.4v1H993.1v1H994.8v1H997v1H999.2v1H995.4v1H990.3v1H985.5v1H985.8v1H985.6v1H984.9v1H985.8v1H988.1v1H987.2v1H986.2v1H984.9v1v1v1v1v1v1H987v1H984.9v1H985.1v1H984.9v1v1v1v1v1H985.2v1H985v1H984.9v1v1H985.2v1H986.6v1H988.6v1H989v1H990.4v1H988v1H984.9v1H986.4v1H989.9v1H991.7v1H994.7v1H979.1v-1H979.7v-1H980.8v-1H980.2v-1H979.3v-1H980.9v-1H980.8v-1H980.1v-1H980.9v-1v-1v-1H980.8v-1H980.2v-1H980.9v-1v-1H979.5v-1H980.9v-1v-1v-1H980.7v-1H980.9v-1H979.5v-1H980.9v-1H980.6v-1H980.9v-1v-1v-1v-1v-1v-1H980.8v-1H980.9v-1v-1v-1v-1H980.1v-1H980.9v-1v-1v-1v-1H980.2v-1H977.8v-1H980.9v-1v-1v-1H980.5v-1H980.8v-1H979.9v-1H979.8v-1H980.9v-1v-1H980.5v-1H980.9v-1H980.7v-1H980.9v-1v-1v-1H980.5v-1H980.9v-1v-1v-1v-1v-1v-1v-1v-1v-1v-1v-1v-1v-1v-1v-1H978.5v-1H979.9v-1H980.2v-1H979.8v-1H974.9v-1H971.8v-1H970.7v-1H974v-1H977.9v-1H978.9v-1H979.7v-1H980.9v-1v-1H980v-1H980.9v-1H978.9v-1H980.9v-1H980.2v-1H980.9v-1v-1v-1v-1v-1v-1H980.8v-1H980.9v-1v-1H980.2v-1H979.9v-1H979.8v-1H979.7v-1H979.8v-1H980.9v-1v-1v-1H980.7v-1H980.9v-1v-1v-1v-1v-1v-1H980.2v-1H980.9v-1v-1H979.4v-1H980.9v-1H980.3v-1H980.9v-1v-1H980v-1H979.1v-1H980.4v-1H979.4v-1H980.9v-1v-1v-1H979.7v-1H979.8v-1H980.1v-1H979.4v-1H980.2v-1H980.4v-1H979.9v-1H979v-1H979.8v-1H979.1v-1H978.4v-1H977.9v-1H976.7v-1H974.9v-1H975v-1H973.4v-1H976v-1H978.2v-1H980.9v-1H980.6v-1H977.9v-1H979.2v-1H979.9v-1H978.3v-1H975.4v-1H978v-1H979.9v-1H979.7v-1H979.2v-1H978.9v-1H980.7v-1H980.9v-1v-1v-1v-1v-1H979.9v-1H980v-1H980.9v-1H979.5v-1H980.9v-1v-1v-1H978.8v-1H978.3v-1H979.3v-1H975.7v-1H972.1v-1H971.3v-1H970.4v-1H976.4v-1H979.2v-1H979.5v-1H979.4v-1H978.8v-1H978.4v-1H977.1v-1H979.2v-1H979.5v-1H980.9v-1v-1v-1H980v-1H979.6v-1H978.4v-1H977.8v-1H976.1v-1H975.1v-1H973.5v-1H973.6v-1H974.4v-1H976.1v-1H977v-1H976.5v-1H978.5v-1H978.8v-1H979.6v-1H979.1v-1H979.4v-1H979v-1H979.9v-1H980.4v-1H980.9v-1v-1H980.5v-1H979.5ZM1017.6 71v1H1013.6v1v1H1013.8v1H1017.3v1H1017v1H1017.3v1H1016.3v1H1013.6v1H1015.2v1H1016.1v1H1017.9v1H1018.5v1H1018v1H1016.7v1H1017.7v1H1015.4v1H1015.9v1H1015.8v1H1014.1v1H1014.4v1H1013.6v1H1015.4v1H1013.6v1H1015.8v1H1013.6v1H1014.4v1H1013.9v1H1013.6v1v1v1H1014.7v1H1014.6v1H1016.8v1H1021.5v1H1025.7v1H1035.4v1H1037.1v1v1H1026.9v1H1018.8v1H1016.1v1H1013.6v1v1H1014.2v1H1017.7v1H1018.3v1H1020.6v1H1020.4v1H1021.8v1H1020.9v1H1020.7v1H1017v1H1015.3v1H1014.1v1H1015.3v1H1014.6v1H1013.6v1v1H1015.7v1H1014.9v1H1015.2v1H1016v1H1016.6v1H1020.8v1H1017.5v1H1015.5v1H1013.6v1v1H1019.2v1H1020.2v1H1018.5v1H1017.9v1H1014.6v1H1013.6v1H1014.4v1H1016.4v1H1017v1H1014.1v1H1014.2v1H1015.6v1H1016.1v1H1016.5v1H1014.7v1H1020.1v1H1024.5v1H1024.9v1H1023.7v1H1016.3v1H1014v1H1020.6v1H1018.8v1H1016.7v1H1022.5v1H1024.9v1H1026.9v1H1022.7v1H1019v1H1014.8v1H1013.6v1H1017.8v1H1019.6v1H1017.8v1H1018.5v1H1017.6v1H1016v1H1014.1v1H1015v1v1H1015.4v1H1014.1v1H1013.8v1H1013.6v1H1014.2v1H1017.6v1H1015.4v1H1016.9v1H1018.4v1H1017.8v1H1015v1H1018.6v1H1016.6v1H1016.4v1H1018v1H1014.6v1H1016v1H1015.2v1H1019v1H1019.4v1H1019.8v1H1019.9v1H1017.2v1H1017.6v1H1023.1v1H1037.1v1v1H1036v1H1029.4v1H1023.5v1H1019.5v1H1015.7v1H1015.3v1H1014.7v1H1014.6v1H1015v1H1013.9v1H1015.8v1H1018.4v1H1020.2v1H1018.7v1H1016v1H1016.6v1H1021.8v1H1023.9v1H1025.2v1H1019.8v1H1015.6v1H1017.1v1H1017.7v1H1018.7v1H1016.2v1H1013.6v1H1016.4v1H1018.2v1H1022.9v1H1025v1H1031.4v1H1031.2v1H1027v1H1024.8v1H1020.9v1H1016.3v1H1013.6v1v1H1016.2v1H1016.3v1H1015v1H1015.8v1H1014.7v1H1017.9v1H1019.8v1H1019v1H1018.6v1H1016.8v1H1014.9v1H1013.6v1v1v1H1018.3v1H1014.6v1H1016.1v1H1015.4v1H1014.4v1H1014.6v1H1014.1v1H1013.6v1H1016.5v1H1017.6v1H1014.8v1H1014.5v1H1013.8v1H1015.8v1H1013.6v1v1H1017v1H1017.4v1H1021.2v1H1018.2v1H1016.6v1H1017v1H1018v1H1015.5v1H1018.2v1H1019.2v1H1019.7v1H1021.4v1H1009.6v-1H1008v-1H1008.7v-1H1007.4v-1H1007.5v-1H1008v-1H1009.4v-1H1009.6v-1v-1v-1v-1v-1v-1H1007.7v-1H1009.6v-1v-1v-1H1009.5v-1H1008.9v-1H1009.4v-1H1009.6v-1H1008.6v-1H1008v-1H1009.4v-1H1009.6v-1v-1v-1H1008.9v-1H1007.5v-1H1006.7v-1H1007v-1H1009.1v-1H1008.8v-1H1007.3v-1H1009.3v-1H1009.6v-1H1009.3v-1H1009.5v-1H1009.2v-1H1007.7v-1v-1H1006.1v-1H1006.6v-1H1006.5v-1H1007.8v-1H1009.5v-1H1009.6v-1H1009v-1v-1H1009.6v-1v-1v-1H1009.1v-1H1009.6v-1H1009.5v-1H1008.1v-1H1009.6v-1H1009v-1H1006.7v-1H1009.4v-1H1009.1v-1H1009.6v-1H1009.5v-1H1007.5v-1H1009.3v-1H1009.6v-1v-1v-1H1007.2v-1H1009.6v-1v-1v-1v-1H1008.8v-1H1008.4v-1H1009.4v-1H1009.1v-1H1007v-1H1003.8v-1H999.1v-1v-1v-1H1003v-1H1008.6v-1H1006.7v-1H1009.6v-1v-1v-1H1009.1v-1H1009.6v-1H1009.3v-1H1009.6v-1H1008.5v-1H1009v-1H1009.6v-1v-1v-1v-1v-1H1009.4v-1H1009.6v-1v-1v-1v-1v-1v-1v-1v-1v-1v-1H1008.8v-1H1009.6v-1v-1v-1H1009.2v-1H1009.6v-1v-1H1009v-1H1008.4v-1H1007v-1H1004.2v-1H1004.1v-1H1005v-1H1005.2v-1H1004.9v-1H1007.4v-1H1007.7v-1H1006.6v-1H1006.7v-1H1009.6v-1v-1H1008.9v-1H1009.1v-1H1009.6v-1v-1H1009.2v-1H1008.5v-1H1006.9v-1H1008.9v-1H1008.2v-1H1008.8v-1H1009.6v-1v-1v-1H1009v-1H1008.3v-1H1008.6v-1H1008.7v-1H1009.3v-1H1009.6v-1v-1H1009.2v-1H1008.4v-1H1007.9v-1H1009.2v-1H1009.6v-1H1008v-1H1008.6v-1H1008.2v-1H1009v-1H1009.6v-1H1009v-1H1009.1v-1H1008.2v-1H1006.6v-1H1009.6v-1H1009.2v-1v-1H1009.6v-1H1008.8v-1H1007.9v-1H1008.3v-1H1008.7v-1H1009.2v-1H1009.6v-1H1008.3v-1H1004.5v-1H1003.1v-1H1001.8v-1H1002.4v-1H1007.6v-1H1009.5v-1H1009.6v-1v-1v-1v-1H1007.7v-1H1009.6v-1v-1v-1H1009.2v-1H1008.7v-1H1009.6v-1H1009.2v-1H1009.6v-1v-1v-1v-1H1009.5v-1H1008.4v-1H1007.8v-1H1009.2v-1H1008.6v-1H1009.6v-1H1007.3v-1H1009.6v-1v-1v-1v-1v-1v-1v-1v-1v-1H1008.6v-1H1007.1ZM1052.4 71v1H1052.3v1H1051.5v1H1051.6v1H1052.2v1H1050.2v1H1045.4v1H1045v1H1044v1H1042.3v1v1H1044.2v1H1045.3v1H1046.1v1H1044.5v1H1044.9v1H1045.1v1H1043.4v1H1046.9v1H1050.7v1H1052.7v1H1053.1v1H1052.4v1H1054.3v1H1047.3v1H1046.3v1H1042.3v1v1H1043.3v1H1044.3v1H1045.1v1H1047v1H1046.7v1H1047.7v1H1050.2v1H1056.3v1H1065.8v1v1v1v1H1054.5v1H1045.9v1H1044.6v1H1042.4v1H1042.3v1H1045.3v1H1045.2v1H1048.4v1H1049.6v1v1H1048.7v1H1048.8v1H1052.6v1H1052.5v1H1050.6v1H1048.4v1H1044.1v1H1042.3v1v1H1044.3v1H1046v1H1050.4v1H1051v1H1052.2v1H1055.9v1H1056.1v1H1050.8v1H1046v1H1045.5v1H1043.4v1H1042.3v1H1044.6v1H1043.1v1H1045.7v1H1052.5v1H1053.1v1H1058.9v1H1063.3v1H1064v1H1060.1v1H1052.9v1H1048.8v1H1044.1v1H1043.4v1H1049.8v1H1050.6v1H1055.4v1H1055.8v1H1051.3v1H1048.3v1H1046.4v1H1043.3v1H1042.3v1v1H1043.8v1H1047.5v1H1050.8v1H1051.4v1H1054v1H1049.6v1H1047.2v1H1045.1v1H1045.4v1H1045.8v1H1047.7v1H1047v1H1045.2v1H1048.1v1H1046.5v1H1048.2v1H1045.7v1H1045v1H1047.6v1H1049.4v1H1052.8v1H1050.5v1H1047.9v1H1047.5v1H1051.2v1H1049.7v1H1049v1H1047.2v1H1046.9v1H1048.6v1H1051.6v1H1047v1H1046.6v1H1045.6v1H1043.4v1H1045.9v1H1045.6v1H1046.7v1H1049.3v1H1060.2v1H1065.8v1v1H1060.7v1H1053v1H1046.1v1H1047v1H1048.9v1H1049.3v1H1049.9v1H1045.4v1H1045.8v1H1045.2v1H1048v1H1045v1H1047.9v1H1047.2v1H1045.4v1H1042.3v1H1042.5v1H1044.9v1H1046.5v1H1049.1v1H1047.2v1H1042.3v1v1H1043.2v1H1042.8v1H1044.7v1H1042.3v1H1045.1v1H1043.8v1H1042.7v1H1045.7v1H1043.3v1H1043.1v1H1043.4v1H1047.6v1H1048.2v1H1044.1v1H1046.1v1H1048.8v1H1051.6v1H1052.4v1H1049.1v1H1048.2v1H1046.7v1H1048.7v1v1H1051.3v1H1050.8v1H1051.5v1H1045.2v1H1042.3v1H1043.3v1H1042.3v1H1046v1H1042.5v1H1042.3v1v1v1H1042.5v1H1047.7v1H1046.5v1H1046.6v1H1048.6v1H1047.4v1H1043.7v1H1043.1v1H1042.3v1v1H1043v1H1043.9v1H1046v1H1044.4v1H1042.9v1H1043.1v1H1042.3v1v1H1042.7v1H1042.3v1H1044.7v1H1044.3v1H1038v-1H1038.3v-1v-1v-1v-1v-1v-1v-1v-1v-1v-1v-1H1037.6v-1H1037.5v-1H1038.3v-1H1038.2v-1H1038.3v-1v-1v-1H1037.7v-1H1038.3v-1v-1H1037.3v-1H1037.1v-1H1036.9v-1H1038v-1H1036.4v-1H1038.3v-1v-1H1038v-1H1038.3v-1H1038.2v-1H1038.3v-1v-1v-1v-1H1035.9v-1H1036.7v-1H1036.9v-1H1034.9v-1H1036.4v-1H1037.3v-1H1037v-1H1037.2v-1H1035.5v-1H1035.8v-1H1036.8v-1H1036.7v-1H1038v-1H1037.1v-1H1037.7v-1H1037.6v-1H1038.1v-1H1038.3v-1H1037.1v-1H1038.3v-1H1038.1v-1H1037.7v-1H1038.3v-1H1036.4v-1H1038.3v-1v-1v-1v-1H1037.6v-1H1038.2v-1H1038.3v-1H1038v-1H1038.2v-1H1038.3v-1v-1v-1H1037.8v-1H1038.3v-1v-1H1038.1v-1H1038.3v-1H1037.4v-1H1035v-1H1032.2v-1H1027.8v-1H1030v-1H1031.6v-1H1035.9v-1H1036.7v-1H1037.2v-1H1038.3v-1v-1H1037.8v-1H1038.2v-1H1038.1v-1H1037.5v-1H1038.3v-1v-1H1037.9v-1H1038.3v-1v-1H1036.2v-1H1037.1v-1H1036.2v-1H1037.8v-1H1036.9v-1H1037v-1H1035.7v-1H1035.8v-1H1035.6v-1H1036.6v-1H1036.4v-1H1035.6v-1H1035.2v-1H1036.4v-1H1036.3v-1H1038.3v-1v-1H1038v-1H1037.5v-1H1037.3v-1H1038.3v-1H1037.5v-1H1037.9v-1H1037.8v-1H1037.4v-1H1037.7v-1H1038.3v-1H1038.2v-1H1037.6v-1H1036.5v-1H1037.4v-1H1038.3v-1H1036.3v-1H1038.2v-1H1037.1v-1H1037.4v-1H1038v-1H1038.3v-1H1037.8v-1H1037.4v-1H1036.8v-1H1037.6v-1H1035.4v-1H1033.9v-1H1035v-1H1036.7v-1H1037.5v-1H1037.8v-1H1038.1v-1H1038.3v-1H1038.2v-1H1038.3v-1H1035.3v-1H1035.8v-1H1037v-1H1038.3v-1H1037.1v-1H1036.7v-1H1037v-1H1038.3v-1v-1H1037.8v-1H1037v-1H1038v-1H1038.1v-1H1037.7v-1H1037.1v-1H1035.6v-1H1037.8v-1H1036.1v-1H1035v-1H1037v-1H1036.2v-1H1038.3v-1H1036.3v-1H1036v-1H1034.7v-1H1035.1v-1H1034.2v-1H1030.8v-1H1027.8v-1H1028.9v-1H1033.7v-1H1036.6v-1H1038.3v-1v-1H1038v-1H1038.1v-1H1037.6v-1H1037.8v-1H1038.3v-1H1036.9v-1H1038.3v-1H1037.3v-1H1038.3v-1v-1H1037.6v-1H1038v-1H1038.3v-1v-1v-1v-1v-1v-1v-1v-1v-1H1037v-1H1038.3v-1H1036.4v-1H1035.6v-1H1037.9v-1H1036.7v-1H1037.6v-1H1037v-1H1036.1v-1H1033.7v-1H1033.5v-1H1033.2ZM1075.8 71v1H1076.4v1H1078.1v1H1081.8v1H1083.3v1H1084v1H1084.4v1H1088v1H1084v1H1083.3v1H1083.4v1H1076.2v1H1076.5v1H1078.4v1H1082.2v1H1079.3v1H1076.6v1H1077.4v1H1073.9v1H1071.9v1H1072.3v1H1074.3v1H1076.5v1H1074.5v1H1071.4v1H1071.1v1v1v1H1072.5v1H1071.1v1H1072.5v1H1071.6v1H1072.5v1H1073.2v1H1075.2v1H1079.1v1H1085.7v1H1090.4v1H1094.6v1v1v1H1087.5v1H1076.5v1H1071.1v1v1H1071.7v1H1072.5v1H1071.1v1H1072v1v1H1071.1v1v1H1072v1H1071.1v1v1H1072.1v1H1071.2v1H1073.1v1H1071.1v1v1v1v1H1071.6v1H1071.4v1H1071.1v1v1v1H1072.8v1H1076.9v1H1076.6v1H1078v1H1075.1v1H1072.1v1H1071.1v1H1072.9v1H1074.4v1H1077.5v1H1077.3v1H1077.2v1H1078.3v1H1079.1v1H1079.6v1H1080.6v1H1075.9v1H1071.1v1H1075.8v1H1078v1H1079.5v1H1077v1H1074.7v1H1076.3v1H1077.3v1H1080.5v1H1080.3v1H1079.8v1H1079.2v1H1079.6v1H1074.5v1H1071.1v1v1v1H1072.1v1H1075.2v1H1074.7v1H1076.1v1H1073.1v1H1077.6v1H1075.1v1H1076.2v1H1077.4v1H1074.8v1H1071.1v1v1H1072.2v1H1075.9v1H1073.8v1H1071.6v1H1071.1v1v1v1H1074.1v1H1071.3v1H1073v1H1071.1v1H1071.3v1H1072.1v1H1072.6v1H1072v1H1072.7v1H1071.6v1H1074.6v1H1075.3v1H1086.1v1H1094.6v1v1H1089.6v1H1079.1v1H1076.2v1H1073.7v1H1071.1v1H1071.8v1H1071.1v1v1H1072v1H1073.9v1H1071.9v1H1072.6v1H1073.3v1H1077.1v1H1074.8v1H1076.7v1H1074.4v1H1075.2v1H1075.9v1H1077.5v1H1074v1H1072.6v1H1071.1v1v1H1071.3v1H1074.5v1H1076.6v1H1074.4v1H1073.4v1H1071.1v1v1H1071.3v1H1072.8v1H1071.1v1v1H1071.3v1H1075.2v1H1072.6v1H1071.1v1v1v1H1073.5v1H1072.9v1H1074.7v1H1071.6v1H1072.7v1H1074.1v1H1075.8v1H1078.2v1H1077.6v1H1076v1H1071.1v1v1v1v1H1074.7v1H1073.4v1H1074.4v1v1H1074.2v1H1071.1v1v1H1072v1H1074v1H1076.3v1H1074.7v1H1077.3v1H1075.4v1H1073.4v1H1075v1H1077.2v1H1077.1v1H1078.6v1H1077.3v1v1H1075.1v1H1071.1v1H1074.7v1H1079.9v1H1082.7v1H1083.9v1H1065.4v-1H1064.1v-1H1064.2v-1H1064.9v-1H1065.5v-1H1065.7v-1v-1H1065.9v-1H1067v-1H1066v-1H1065.4v-1H1064.1v-1H1065.6v-1H1064.4v-1H1066.2v-1H1067.1v-1v-1v-1v-1v-1H1067v-1H1067.1v-1v-1v-1v-1H1066.1v-1H1067.1v-1H1066.4v-1H1067.1v-1H1066.9v-1H1066.4v-1H1067.1v-1H1066.6v-1H1066.5v-1H1067.1v-1v-1H1066.6v-1H1065.8v-1H1067.1v-1H1066.9v-1H1065.8v-1H1067.1v-1v-1H1066.8v-1H1067.1v-1v-1H1066.2v-1H1066.1v-1H1065.7v-1v-1H1066.9v-1H1066.8v-1v-1H1066.6v-1H1066.7v-1H1065.7v-1H1065.9v-1H1066.3v-1H1066.4v-1H1066.6v-1H1067.1v-1v-1v-1v-1v-1v-1H1067v-1H1066.9v-1H1067.1v-1H1065.7v-1H1067.1v-1H1066.7v-1H1067.1v-1H1065.2v-1H1065.9v-1H1066.5v-1v-1H1066.3v-1v-1H1065.6v-1H1062.1v-1H1057.2v-1H1058.1v-1H1061.5v-1H1065.8v-1H1066.2v-1H1067.1v-1H1065.8v-1H1067.1v-1v-1v-1v-1H1066.3v-1H1066.5v-1H1065.1v-1H1066.8v-1H1066v-1H1066.8v-1H1067.1v-1v-1v-1v-1v-1v-1H1065.9v-1H1066.4v-1H1066.1v-1H1066.2v-1H1065.5v-1H1067v-1H1067.1v-1v-1v-1v-1H1066.2v-1H1063.6v-1H1067.1v-1v-1v-1v-1H1066.9v-1H1064.3v-1H1063.7v-1H1064.8v-1H1065.8v-1H1063.3v-1H1064v-1H1064.5v-1H1065.8v-1H1063v-1H1062v-1H1063v-1H1062.9v-1H1066.5v-1H1065.9v-1H1065.5v-1v-1H1067.1v-1v-1v-1H1066.3v-1H1067.1v-1H1064.6v-1H1064.4v-1H1066.2v-1H1066v-1v-1H1065.5v-1H1065.7v-1H1066.1v-1H1065.6v-1H1067.1v-1v-1H1066.9v-1H1067.1v-1H1066.1v-1H1067.1v-1v-1H1066.6v-1H1067.1v-1H1067v-1H1067.1v-1v-1v-1v-1v-1H1066.2v-1H1065.7v-1H1066.2v-1H1067.1v-1v-1H1066.3v-1H1065v-1v-1H1063.2v-1H1057.1v-1H1056.6v-1H1059.4v-1H1064.3v-1H1065.2v-1H1067.1v-1H1066.4v-1H1066.5v-1H1067.1v-1v-1v-1v-1v-1H1066.7v-1H1066.6v-1H1067.1v-1v-1H1066.2v-1H1066v-1H1066.8v-1H1067.1v-1v-1v-1H1067v-1H1066.5v-1H1067.1v-1H1064.3v-1H1066.5v-1H1067.1v-1H1065.9v-1H1066.5v-1H1064.4v-1H1063.2v-1H1064.8v-1H1065.1v-1H1067.1v-1v-1v-1v-1H1066.2v-1H1066ZM1104.9 71v1H1102v1H1099.8v1v1H1100.9v1H1102.7v1H1099.8v1H1100.8v1H1105.4v1H1107.2v1H1107.8v1H1108.5v1H1110.3v1H1112.3v1H1112.4v1H1110.6v1H1109.2v1H1102.5v1H1102.6v1H1103v1H1101.6v1H1101.5v1H1100.8v1H1099.8v1H1102v1H1100v1H1103.9v1H1103.3v1H1101.8v1H1102.5v1H1106.2v1H1112v1H1108.7v1H1111.1v1H1109.2v1H1108.2v1H1115.3v1H1123.3v1v1v1v1H1112.2v1H1100.6v1H1105.2v1H1105.1v1H1103.1v1H1099.8v1v1v1v1v1v1v1H1100.3v1H1099.8v1v1H1101.9v1H1100.7v1H1101.2v1H1102.8v1H1105.1v1H1101.9v1H1102.3v1H1099.8v1v1v1v1H1102.2v1H1102.7v1H1100.8v1H1099.8v1v1H1103.3v1H1103v1H1103.3v1H1102v1H1102.5v1H1108.9v1H1111.1v1H1106.8v1H1105v1H1099.8v1H1108.4v1H1114.8v1H1112.4v1H1112.5v1H1106.3v1H1104v1H1102.8v1H1099.8v1v1H1103.2v1H1107.8v1H1111.4v1H1110.8v1H1106v1H1103.3v1H1099.8v1H1105.3v1H1106.5v1H1108.7v1H1109.2v1H1111.1v1H1111.5v1H1106.2v1H1105.5v1H1102.5v1H1099.8v1H1101.2v1H1106.7v1H1109v1H1108.2v1H1105.4v1H1100.2v1H1100.9v1H1104.9v1H1103.8v1H1099.8v1H1101.2v1H1102.1v1H1103.5v1H1100.9v1H1099.9v1H1101.8v1H1100.4v1H1099.8v1v1H1099.9v1H1101.4v1H1099.8v1H1100.9v1H1110.7v1H1117.8v1H1123.3v1v1H1119.6v1H1108.8v1H1104.5v1H1099.8v1v1H1101.7v1H1104v1H1103.6v1H1102.1v1H1099.8v1H1103.3v1H1105.6v1H1108.5v1H1106v1H1105.2v1H1104.8v1H1106.4v1H1108v1H1109.7v1H1112.6v1H1109.4v1H1108.4v1H1105.1v1H1106.7v1H1106.6v1H1107.8v1H1106.3v1v1H1104.9v1H1105.4v1H1102.8v1v1H1105.3v1H1108.1v1H1113.3v1H1107.9v1H1107.3v1H1105.3v1H1105.6v1H1109v1H1111.6v1v1H1107.6v1H1106.2v1H1103.1v1H1099.8v1H1104v1H1102.5v1H1102.8v1H1101.4v1H1101v1H1100v1H1104.9v1H1110.4v1H1113.2v1H1112.4v1H1109v1H1101.7v1H1101.4v1H1099.8v1v1H1103.6v1H1099.8v1v1v1H1099.9v1H1099.8v1v1H1102.9v1H1104.2v1H1103.8v1H1101.1v1H1099.9v1H1102v1H1101.5v1H1099.8v1v1v1H1100.5v1H1099.8v1v1H1095.8v-1v-1v-1v-1H1095.6v-1H1095.8v-1H1094.3v-1H1095.8v-1H1095.5v-1H1095.8v-1v-1H1095.2v-1H1094.4v-1H1092.8v-1H1095v-1H1095.8v-1v-1v-1H1095.4v-1H1095.8v-1H1094.6v-1H1095.7v-1H1095.8v-1v-1v-1H1094.7v-1H1095.5v-1H1091.7v-1H1094.2v-1v-1v-1H1094v-1H1095.5v-1H1095.2v-1H1094.7v-1H1094.4v-1H1094.3v-1H1092.8v-1H1092.5v-1H1091v-1H1093.8v-1H1095.8v-1v-1v-1v-1v-1v-1v-1v-1v-1H1095.2v-1H1094.5v-1H1095.8v-1v-1v-1H1095.7v-1H1094.1v-1H1094.3v-1H1093.7v-1H1092.6v-1H1093.1v-1H1091.3v-1H1092.4v-1H1092.3v-1H1094.9v-1H1094.8v-1H1092.6v-1H1093v-1H1091.7v-1v-1H1093.7v-1H1095.8v-1H1092.7v-1H1091.8v-1H1091.5v-1H1093.7v-1H1095.8v-1v-1H1093.6v-1H1090.6v-1H1086.3v-1H1086.6v-1H1086.2v-1H1090.9v-1H1094.3v-1H1094.2v-1H1095.8v-1v-1v-1v-1v-1v-1v-1v-1H1093.9v-1H1094.9v-1H1095v-1H1093.8v-1H1095.2v-1H1094.8v-1H1095.8v-1v-1v-1v-1v-1v-1v-1H1094.7v-1H1093.7v-1H1095.4v-1H1094.7v-1H1095.8v-1v-1v-1v-1v-1v-1v-1v-1H1095.6v-1H1094.4v-1H1092.5v-1H1094.4v-1H1095.8v-1v-1H1095.6v-1H1094.7v-1H1095.4v-1H1094.8v-1H1093.7v-1H1095.5v-1v-1H1095.8v-1v-1v-1H1094.4v-1H1095.8v-1H1095v-1H1095.8v-1H1095.6v-1H1095.3v-1H1095.2v-1H1095.8v-1v-1H1095.1v-1H1095.8v-1v-1v-1v-1v-1v-1v-1v-1v-1H1095.6v-1H1095.8v-1H1095.7v-1H1095.8v-1v-1H1095.7v-1H1095.8v-1v-1v-1v-1H1094.3v-1H1095.5v-1H1093.4v-1H1093.6v-1H1093.3v-1H1094.8v-1v-1H1095.6v-1H1095.8v-1v-1H1093.6v-1H1087.1v-1H1085.3v-1H1085.5v-1H1092.9v-1H1093.4v-1H1094.4v-1H1094.8v-1H1095.8v-1H1094.8v-1H1094v-1H1095.7v-1H1094.9v-1H1094.1v-1H1094.2v-1H1093.1v-1H1093.3v-1H1091.5v-1H1094.2v-1H1094.3v-1H1094.6v-1v-1H1095.8v-1v-1v-1H1095.7v-1H1094.9v-1H1095.8v-1v-1H1095v-1H1093.9v-1H1094.2v-1H1095.8v-1H1095.2v-1H1094.3v-1H1094.4v-1H1093.6v-1H1092.4v-1H1095.7v-1H1095.8v-1H1095.3v-1H1094.2ZM1135.4 71v1H1136.7v1H1137.2v1H1138.1v1H1142.2v1H1137.7v1H1130.8v1H1128.5v1H1129.7v1H1130v1H1133.5v1H1135.4v1H1131.8v1H1135v1H1136.6v1H1137.1v1H1133.6v1H1130.3v1H1130.1v1H1131.2v1H1131v1H1130.8v1H1132.6v1H1129.9v1H1133.2v1H1134.1v1H1134.2v1H1131.2v1H1131.6v1H1134.7v1H1132.2v1H1132.1v1H1131.3v1H1131.6v1H1129.6v1H1133.1v1H1142.9v1H1152v1v1v1H1146.6v1H1140.3v1H1132.8v1H1129.8v1H1131.3v1H1132.7v1H1129.7v1H1128.9v1H1128.5v1v1v1H1131.1v1H1129.1v1H1128.5v1H1129.9v1H1136.5v1H1140.4v1H1137.7v1H1135.3v1H1130v1H1128.5v1H1129.5v1H1128.7v1H1132.3v1H1135.9v1H1134.2v1H1132.4v1H1129.4v1H1128.5v1H1128.6v1H1130.8v1H1130.6v1H1131.5v1H1132v1H1132.7v1H1131.9v1H1134.2v1H1134.1v1H1131v1H1132.2v1H1135.3v1H1139.1v1H1135.4v1H1134.9v1H1131.4v1H1129.9v1H1131.6v1H1130.6v1H1130.9v1H1133.4v1H1136.9v1H1137.9v1H1135.6v1H1137.2v1H1130.8v1H1130.7v1H1128.5v1v1H1132.8v1H1138.4v1H1141.3v1H1143.1v1H1139.9v1H1139.7v1H1138.1v1H1135.1v1H1131.5v1H1132.3v1H1132.2v1H1132.8v1H1131.5v1H1129.7v1H1129.6v1H1132v1H1130.1v1H1131.4v1H1134.9v1H1132.6v1H1135.8v1H1137.3v1H1138.7v1H1139.6v1H1138.5v1H1139.3v1H1140.6v1H1139v1H1136.8v1H1129.2v1H1128.7v1H1133.6v1H1134.1v1H1136v1H1140.9v1H1148.6v1H1152v1v1H1143.9v1H1134.4v1H1131.9v1H1130.8v1H1129.7v1H1128.5v1v1v1v1H1129.1v1H1131v1H1130.2v1H1128.5v1H1129.9v1H1130.3v1H1130.1v1H1129.9v1v1H1128.5v1v1v1v1H1129.5v1H1132.1v1H1134.2v1H1133.9v1H1131.9v1H1136.7v1H1140.7v1H1142.8v1H1139.8v1H1139.7v1H1138.1v1H1136.7v1H1140.7v1H1142v1H1139.3v1H1137.1v1H1135.7v1H1133.6v1H1131.9v1H1132.4v1H1134.2v1H1135.1v1H1137.9v1H1137.5v1H1135v1H1129.8v1H1128.5v1H1131.6v1H1135.7v1H1137.4v1H1137.9v1H1132v1H1128.6v1H1131.9v1H1133.3v1H1133.4v1H1132.9v1H1129.4v1H1128.8v1H1129.9v1H1129.5v1H1128.5v1H1128.7v1H1133.6v1H1133.7v1H1134.7v1H1138.3v1H1134.1v1H1133.4v1H1131.8v1H1132.6v1H1134.4v1H1136.5v1H1136.2v1H1134.8v1H1133.6v1H1129.8v1v1H1124.5v-1v-1H1123.9v-1H1122.1v-1H1122.3v-1H1123.2v-1H1122.5v-1H1122.8v-1H1123.7v-1H1124.5v-1v-1v-1v-1v-1H1123.5v-1H1123.2v-1H1124.5v-1H1123.8v-1H1123.9v-1H1122.4v-1H1124.4v-1H1124.5v-1v-1v-1H1122.4v-1v-1H1122.7v-1H1123.9v-1H1124.5v-1v-1v-1H1124.3v-1H1124.5v-1H1124.2v-1H1124.5v-1v-1H1123.1v-1H1122.4v-1H1122.8v-1H1124.4v-1H1122.6v-1H1122.1v-1H1124.1v-1H1122.9v-1H1124.5v-1H1124.3v-1H1124.5v-1H1123.1v-1H1123.8v-1H1123v-1H1123.3v-1H1124.5v-1H1124.1v-1H1124.3v-1H1124.5v-1H1123.3v-1H1123.1v-1H1124.5v-1v-1v-1H1124.4v-1H1124.5v-1v-1H1122.6v-1H1123.1v-1H1123.7v-1H1123v-1H1124.1v-1H1123.7v-1H1123.9v-1v-1H1124.5v-1v-1H1124.4v-1H1124.1v-1H1124.5v-1v-1H1123.5v-1H1123.8v-1H1121.6v-1H1116v-1H1114v-1H1117.3v-1H1119.5v-1H1123.1v-1H1123v-1H1124.1v-1v-1v-1H1124.3v-1H1122.5v-1H1123.8v-1H1124.1v-1H1124.5v-1H1123.8v-1H1123.3v-1H1122.4v-1H1123.4v-1H1124.5v-1v-1v-1v-1H1124.2v-1H1124.5v-1H1123.4v-1H1124.5v-1v-1v-1H1124.3v-1H1122.1v-1H1123.9v-1H1124.5v-1v-1H1123v-1H1120.6v-1H1122.3v-1H1120.5v-1H1120v-1H1120.7v-1H1120.4v-1H1124.3v-1H1124.5v-1v-1H1123.5v-1H1123.9v-1H1120.7v-1H1122.2v-1H1121.6v-1H1122.3v-1H1124.1v-1H1124.5v-1v-1H1124.4v-1H1123.5v-1v-1H1123.9v-1H1124.4v-1H1124v-1H1124.5v-1H1123.9v-1H1124.5v-1v-1v-1H1123.3v-1H1124.5v-1H1123.9v-1H1124.1v-1H1124.3v-1H1124.5v-1v-1H1124v-1H1123.3v-1H1124.2v-1H1123.3v-1H1122.6v-1H1124.5v-1v-1H1123.5v-1H1124v-1H1124.5v-1v-1H1123.9v-1H1122.2v-1H1121v-1v-1H1121.5v-1H1121.7v-1H1122.3v-1H1124.5v-1H1123v-1H1123.2v-1H1122.3v-1H1121.5v-1H1121.4v-1H1123v-1H1118.6v-1H1116v-1H1115.1v-1H1117.1v-1H1120.4v-1H1123.1v-1H1124.3v-1H1124.5v-1v-1v-1v-1v-1v-1v-1v-1H1123.8v-1H1124.5v-1v-1v-1v-1v-1H1124.3v-1H1123.5v-1H1124.5v-1H1123.3v-1H1123.4v-1H1123.9v-1H1123.5v-1H1124.2v-1H1122.6v-1H1122.4v-1H1120.4v-1H1121.6v-1H1119.9v-1H1121.5v-1H1123.6v-1H1124.5v-1v-1v-1v-1H1121.8ZM1160.3 71v1H1157.2v1H1160.6v1H1166.9v1H1169.1v1H1169.7v1H1166.4v1H1165.4v1H1159.3v1H1159.8v1H1164.5v1H1169.2v1H1172.1v1H1171.7v1H1168.4v1H1164.1v1H1160.2v1H1160v1H1161.8v1H1164.7v1H1169.9v1H1170.2v1H1170.1v1H1167.4v1H1166.2v1H1159.5v1H1162v1v1H1161.5v1H1161.4v1H1161.9v1H1162.3v1H1163.1v1H1162.5v1H1165.2v1H1163.5v1H1164.2v1H1166.5v1H1171.7v1H1180.7v1v1v1H1176.5v1H1163.8v1H1159v1H1157.4v1v1H1158.8v1H1157.2v1H1160.3v1H1163.4v1H1164.8v1H1162.8v1H1163.6v1H1160.6v1H1159.3v1H1161.6v1H1164.6v1H1162.7v1H1163.3v1H1163.7v1H1162.3v1H1159.5v1H1161.7v1H1159.4v1H1160.4v1H1161.5v1H1161.2v1H1159.7v1H1161v1H1163.8v1H1166v1H1159.8v1H1157.2v1H1160.4v1H1162.9v1H1161.2v1H1160.3v1H1164.4v1H1164.9v1H1162.5v1H1166.9v1H1165.8v1H1165.1v1H1163.3v1H1165.2v1H1167.3v1H1169.1v1H1163.6v1H1161.9v1H1159.8v1H1157.4v1H1157.9v1H1157.2v1v1H1158.2v1H1162.2v1H1162.6v1H1162.3v1H1161.8v1H1162.6v1H1161.3v1H1161.2v1H1164.3v1H1165.8v1H1168.6v1H1169.2v1H1166.5v1H1164.8v1H1157.2v1v1H1159v1H1163v1H1168.2v1H1169.4v1H1168.3v1H1164.8v1H1162.7v1H1161.1v1H1160.5v1H1158.7v1H1161.2v1H1157.6v1H1157.7v1H1157.2v1H1157.8v1v1H1157.4v1H1158v1H1158.2v1H1159.8v1H1169.9v1H1178.7v1H1180.7v1v1H1171.6v1H1163.3v1H1159.3v1H1157.2v1H1157.6v1H1158.2v1H1160.3v1H1158.6v1H1157.2v1H1159.2v1H1165v1H1164.6v1H1162.5v1H1159v1H1163.8v1H1162.4v1H1165.9v1H1162.7v1H1165.1v1H1167.4v1H1173v1H1177v1H1177.6v1H1172.8v1H1171.4v1H1165.2v1H1163v1H1160.7v1H1158.8v1H1157.4v1H1161.8v1H1166.1v1H1170.1v1H1165v1H1162.1v1H1157.4v1H1157.2v1H1161.6v1H1164.8v1H1163.4v1H1163.3v1H1162.4v1H1160.2v1H1159v1H1157.2v1v1v1v1v1H1157.6v1H1157.2v1H1158.7v1H1157.2v1H1159.1v1H1159.4v1H1157.2v1v1H1160.5v1H1158.4v1H1159v1H1158.7v1H1161.1v1H1164.4v1H1165v1H1159.8v1H1157.2v1H1160.3v1H1165.3v1H1162.4v1v1H1162.1v1H1164.6v1H1166.2v1H1166.8v1H1162.1v1H1161.8v1H1160v1H1161.1v1H1162.2v1H1165.5v1H1170.1v1H1153.2v-1v-1H1152.4v-1H1151.6v-1H1149.5v-1H1149.8v-1H1148.8v-1H1150.4v-1H1150.7v-1H1151.3v-1H1149.6v-1H1151.9v-1H1149.5v-1H1149.3v-1H1151.6v-1H1153.1v-1H1153.2v-1v-1H1152.6v-1H1153.2v-1v-1v-1v-1H1152.5v-1H1153.2v-1v-1H1152.2v-1H1153.2v-1v-1v-1H1152.6v-1H1153.2v-1v-1v-1v-1v-1v-1v-1H1151.9v-1H1152.5v-1H1153.2v-1H1150.9v-1H1152.2v-1H1152.6v-1H1153.2v-1v-1H1153v-1H1153.2v-1H1151.2v-1H1152v-1H1153.2v-1v-1v-1H1153.1v-1H1153.2v-1H1152.7v-1H1151.7v-1H1153.2v-1H1151.1v-1H1153.2v-1v-1v-1v-1H1153.1v-1H1153.2v-1H1152.3v-1H1150.4v-1H1151.6v-1H1150.4v-1H1153.2v-1H1152.1v-1H1151.3v-1H1152.3v-1H1153.2v-1H1150.9v-1H1152.1v-1H1152.8v-1H1153.2v-1v-1H1152.8v-1H1149.3v-1H1145.3v-1H1142.7v-1H1144.3v-1H1146.2v-1H1149.5v-1H1152.8v-1H1153.2v-1v-1v-1v-1H1152.7v-1H1153.2v-1v-1H1152.5v-1H1152v-1H1152.5v-1H1153.2v-1v-1H1152.9v-1H1151.6v-1H1151v-1H1153v-1H1152.2v-1H1152.7v-1H1153.2v-1v-1v-1H1151.5v-1H1152.6v-1H1152.1v-1H1151.9v-1H1153.2v-1v-1v-1v-1v-1H1152.7v-1H1151.8v-1H1151.4v-1H1151.8v-1H1151.1v-1H1151.5v-1H1153v-1H1153.2v-1v-1v-1H1151.2v-1H1153.2v-1v-1v-1v-1H1152.5v-1H1151.6v-1H1151.9v-1H1151.4v-1H1153.2v-1v-1H1153v-1H1151.6v-1H1151.9v-1H1151v-1H1151.2v-1H1152.1v-1H1151.3v-1H1149.2v-1H1149.4v-1H1147.8v-1H1151v-1H1152.1v-1H1153.2v-1H1153.1v-1H1152.4v-1H1153.2v-1v-1H1151.9v-1v-1H1152.2v-1H1152.1v-1H1152v-1H1151.2v-1H1150.3v-1H1152.6v-1H1153.1v-1H1151.1v-1H1152.6v-1H1152.5v-1H1152.3v-1H1153.2v-1H1152.7v-1H1151.9v-1H1152.8v-1H1149.6v-1H1146.6v-1H1142.7v-1v-1v-1H1146.5v-1H1149.1v-1H1152.1v-1H1152.2v-1H1151.2v-1v-1H1152.4v-1H1152v-1H1153.2v-1v-1H1152.9v-1H1153.2v-1H1152.7v-1H1153.2v-1v-1v-1H1152.1v-1H1151.2v-1H1148.8v-1H1151v-1H1151.9v-1H1152.5v-1H1152v-1H1153.2v-1H1151.6v-1H1152.3v-1H1153.1v-1H1150.1v-1H1152.6v-1H1150.5v-1H1149.9v-1H1148.7v-1H1150.8v-1H1153.2v-1H1153.1v-1H1151.5v-1v-1H1152.2v-1H1153.2ZM1189.2 71v1H1191.9v1H1195.3v1H1195.7v1H1191.8v1H1189.4v1H1186.5v1H1185.9v1v1v1H1187.8v1H1185.9v1H1187.6v1H1187.8v1H1189.5v1H1190.7v1H1194v1H1193.4v1H1192.7v1H1190.8v1H1191.7v1H1189.5v1H1188.8v1H1186.2v1H1185.9v1H1190.3v1H1189.2v1H1188.6v1H1190.4v1H1187.9v1H1188.4v1H1187.9v1H1187.1v1H1187v1H1185.9v1v1H1186v1H1193v1H1204.3v1H1209.4v1v1H1197.6v1H1192.1v1H1190v1H1187.9v1H1188.6v1H1187.3v1H1185.9v1H1187.5v1H1191.3v1H1194v1H1197v1H1199.3v1H1195.5v1H1192.5v1H1189.7v1H1189.9v1H1189v1H1192.6v1H1191.4v1H1190.9v1H1191v1H1186.5v1H1191.6v1H1198.1v1H1198.3v1H1198.1v1H1196.5v1H1192.8v1H1195v1H1190.8v1H1189.8v1H1190.7v1H1189.5v1H1190.1v1H1190.3v1H1185.9v1v1H1186.4v1H1188v1H1185.9v1v1v1H1188.6v1H1187v1H1190.2v1H1188.7v1H1187.7v1H1188.3v1H1187.8v1H1188.1v1H1190.3v1H1193.2v1H1191.5v1H1191.2v1H1192.7v1H1190.6v1H1191.4v1H1190.8v1H1188.3v1H1187.4v1H1190.1v1H1193.6v1H1194.3v1H1194.1v1H1192.1v1H1185.9v1v1H1187v1H1188.1v1H1190.2v1H1191.1v1H1195.3v1H1197v1v1H1195v1H1190.4v1H1192.8v1H1197.4v1H1197.5v1H1197.3v1H1188.3v1H1189.2v1H1190.2v1H1188.6v1H1189v1H1190.9v1H1189.4v1H1190.4v1H1193.2v1H1201.1v1H1209.4v1v1H1209.1v1H1199v1H1197.3v1H1195.9v1H1194.7v1H1193.2v1H1189.1v1H1190.5v1H1192.8v1H1195.2v1H1196.8v1H1196.2v1H1191.6v1H1185.9v1H1186.2v1H1190v1H1185.9v1H1187.4v1H1191.3v1H1191v1H1195.9v1H1192.4v1H1190.3v1H1188.8v1H1191.7v1H1189v1H1189.8v1H1187.8v1H1187.4v1H1189.8v1H1188.3v1H1189.6v1H1188.6v1H1185.9v1v1v1H1186.8v1v1H1189.5v1H1190.3v1H1190.7v1H1190v1H1188.5v1H1186.7v1H1190.5v1H1191.7v1H1192.1v1H1190.5v1H1191v1H1191.3v1H1187.7v1H1192.4v1H1196.6v1H1194.6v1H1197v1H1195.5v1H1190.8v1H1187.8v1H1186.4v1H1190.7v1H1185.9v1H1188.9v1H1191.3v1H1193.6v1H1188.8v1H1187.6v1H1185.9v1v1H1188.6v1H1188.7v1H1188.8v1H1187.1v1H1189.6v1H1188.4v1H1189.7v1H1188.7v1H1188.6v1H1189.3v1H1191.7v1H1195.1v1H1199.4v1H1204.9v1v1H1179.1v-1H1180.2v-1H1181.9v-1v-1H1180.5v-1H1181.9v-1v-1v-1v-1v-1H1181v-1H1181.9v-1H1180.7v-1H1179.8v-1H1180.8v-1H1181.9v-1v-1H1180.2v-1H1178.6v-1H1176.2v-1H1176.8v-1H1179.3v-1H1179.2v-1H1180.4v-1H1180.3v-1H1181.7v-1H1180.9v-1H1181.9v-1H1181.7v-1H1181.9v-1v-1v-1v-1v-1H1181.5v-1H1181.7v-1H1181.9v-1H1179.3v-1H1180.8v-1H1181.9v-1H1181.1v-1H1181.9v-1v-1H1179.7v-1H1180.9v-1H1180.7v-1H1181.9v-1v-1v-1H1181.1v-1H1180.5v-1H1180.2v-1H1181v-1v-1H1181.9v-1v-1H1179.8v-1H1180.4v-1H1181.5v-1H1181.4v-1H1181.9v-1v-1v-1v-1v-1H1179.9v-1H1181.6v-1H1181.7v-1H1181v-1H1179.7v-1H1178.4v-1H1178.8v-1H1180.1v-1H1180.5v-1H1181.8v-1v-1H1181.9v-1v-1v-1H1181.4v-1H1180.8v-1H1177.8v-1H1172.5v-1H1171.9v-1H1172.8v-1H1178v-1H1180.9v-1H1181.9v-1H1181.5v-1H1179.8v-1H1181.3v-1H1179.9v-1H1181.9v-1H1180.3v-1H1180.7v-1H1181.3v-1H1181.9v-1H1181.1v-1H1181.2v-1H1181.4v-1H1177.6v-1H1179.1v-1H1181.4v-1H1180.6v-1H1180.1v-1H1180.7v-1H1180.8v-1H1180.7v-1H1181.9v-1H1180.6v-1H1179.4v-1H1181.1v-1H1181.9v-1H1180.9v-1H1181.8v-1H1181.9v-1H1181v-1H1180.3v-1H1178.5v-1H1181v-1H1180.8v-1v-1H1181.9v-1v-1H1180.1v-1H1180.7v-1H1179.5v-1H1181.3v-1H1181.8v-1H1181.9v-1v-1H1181.2v-1H1181.9v-1H1180.9v-1H1181.9v-1H1181v-1H1180.2v-1H1180.1v-1H1179.5v-1H1181.9v-1H1181.5v-1H1181.9v-1H1181.1v-1H1181.9v-1v-1v-1v-1v-1v-1H1181.8v-1H1181.9v-1H1181.8v-1H1181.9v-1v-1v-1v-1H1180.8v-1H1181.9v-1v-1v-1H1180.9v-1H1181.8v-1H1180.8v-1H1181.9v-1v-1H1181.3v-1H1180.6v-1H1181.9v-1v-1v-1v-1v-1H1181.8v-1H1181.2v-1H1177.8v-1H1173.6v-1H1174v-1H1176.2v-1H1178.5v-1H1181.6v-1H1181.9v-1v-1H1180.3v-1H1181.9v-1H1181.4v-1H1181.9v-1v-1v-1v-1v-1v-1H1181.2v-1H1181.9v-1H1180.7v-1H1179.3v-1H1180.9v-1H1181.7v-1H1180.7v-1H1181.7v-1H1181.9v-1v-1v-1v-1H1181v-1H1180.3v-1H1181.6v-1H1180.5v-1H1181v-1H1181.9v-1v-1v-1v-1v-1v-1H1181.3v-1H1180.4ZM1216.6 71v1H1215.6v1H1218.7v1H1217.3v1H1220.2v1H1216.5v1H1215.2v1H1218.6v1H1224.8v1H1223.3v1H1222.9v1H1219.7v1H1215.4v1H1214.7v1v1H1220.4v1H1218.7v1H1216v1H1216.9v1v1H1218.5v1H1218.7v1H1216v1H1219.8v1H1218.1v1H1217v1H1217.8v1H1214.7v1H1215v1H1217.5v1H1218.8v1H1218.3v1H1214.7v1v1v1v1H1214.8v1H1218.1v1H1223.4v1H1238.2v1v1v1H1228v1H1219.3v1H1218.7v1H1221.4v1H1225v1H1224.4v1H1223.9v1H1224.2v1H1221.5v1H1221.9v1H1219.7v1H1222.6v1H1221.9v1H1220.7v1H1220.5v1H1218.6v1H1218v1H1217.9v1H1220v1H1219.1v1H1221.4v1H1217.2v1H1214.7v1H1218.1v1H1224v1H1227.3v1H1229.2v1H1220.7v1H1218.8v1v1H1218.2v1H1217.3v1H1215v1H1218.8v1H1218.1v1H1214.7v1v1v1H1215.6v1H1216.6v1H1219.2v1H1217.2v1H1216.1v1H1214.7v1H1215.4v1H1216v1H1218.8v1H1221.4v1H1219.8v1H1216.4v1H1214.7v1H1215.1v1H1214.7v1H1218.6v1H1219.2v1H1217.4v1H1217.1v1H1216.4v1H1214.7v1H1215.9v1H1215.2v1H1216.6v1H1215v1v1H1215.5v1H1214.7v1v1v1v1H1215.6v1H1220.8v1H1218v1H1217.6v1H1216.5v1H1216v1H1218.4v1H1221.1v1H1221.5v1H1223.5v1H1225v1H1225.9v1H1225.6v1H1223.4v1H1223v1H1223.9v1H1222v1H1222.5v1H1223.4v1H1225v1H1233.8v1H1238.2v1v1H1229.5v1H1221.1v1H1219.9v1H1225.3v1H1224.8v1H1221v1H1217.6v1H1217.2v1H1218.4v1H1216.1v1H1214.7v1H1215.8v1H1220v1H1217v1H1215v1H1214.7v1v1H1217.4v1H1218.6v1H1221.5v1H1218.9v1H1214.7v1v1v1v1H1218v1H1217.8v1H1217.1v1H1216.5v1H1214.7v1v1H1215.5v1H1214.7v1H1219.7v1H1215.4v1H1216.2v1H1214.7v1v1v1v1H1215.8v1H1217.1v1H1220.3v1H1220.2v1H1222.2v1H1220.4v1H1217.3v1H1217.8v1H1217.6v1H1215.1v1H1214.7v1H1215.9v1H1215v1H1215.1v1H1215.2v1H1216.1v1H1214.7v1v1H1216.5v1H1218.6v1H1217.9v1H1221.8v1H1221.5v1H1224.6v1H1224v1H1218.3v1H1214.7v1v1v1v1H1214.8v1H1215.5v1H1214.7v1H1216.7v1H1218.9v1H1217.9v1H1219.4v1H1219.9v1H1221v1H1223.8v1H1224.4v1H1223.1v1H1208v-1H1210.6v-1H1210.7v-1v-1H1210.2v-1H1210.7v-1H1210.4v-1H1210.7v-1H1210.4v-1H1208.9v-1H1207.7v-1H1209.6v-1H1210.7v-1v-1v-1H1209.7v-1H1209.9v-1H1209.3v-1H1208.6v-1H1206.9v-1H1208.1v-1H1207.7v-1H1210.7v-1H1210v-1H1210.7v-1H1209.7v-1H1209.6v-1H1209.8v-1H1210.7v-1v-1v-1v-1v-1v-1v-1H1209.6v-1H1210.7v-1H1209.9v-1H1209.6v-1H1209.2v-1H1210.7v-1v-1v-1v-1H1210.6v-1H1210.7v-1v-1v-1H1209.6v-1H1210.4v-1H1210.7v-1v-1v-1v-1v-1v-1v-1v-1v-1v-1H1210.2v-1H1207.5v-1H1207.1v-1H1208.7v-1H1207.4v-1H1208v-1H1208.1v-1H1208.4v-1H1208.9v-1H1210.7v-1v-1H1208.7v-1H1209.6v-1H1208v-1H1208.6v-1H1208.2v-1H1206.5v-1H1206.4v-1H1208.3v-1H1207.6v-1H1206.3v-1H1204.1v-1H1201.3v-1H1201.2v-1H1204.8v-1H1209v-1H1209.4v-1H1210.7v-1H1209.1v-1H1208.1v-1H1209.2v-1H1210.6v-1H1209.3v-1H1210.4v-1H1210.7v-1H1209.7v-1H1209.5v-1H1210.7v-1H1210.1v-1H1210v-1H1210.7v-1v-1v-1v-1H1210.4v-1H1209.9v-1H1209.8v-1H1210.7v-1v-1H1209.2v-1H1210.7v-1H1209.4v-1H1210.4v-1H1210.3v-1H1209.4v-1H1210.3v-1H1210.7v-1v-1v-1v-1v-1v-1v-1v-1v-1v-1H1210v-1H1210.1v-1H1210.7v-1H1209.5v-1H1210.7v-1v-1v-1v-1H1208.9v-1H1209.9v-1H1210.7v-1v-1v-1v-1H1206.9v-1v-1H1207.5v-1H1208.6v-1H1209v-1H1208.5v-1H1210.2v-1H1210.7v-1H1210.5v-1H1208.2v-1H1210.1v-1H1210.7v-1H1209.9v-1H1210.4v-1H1210.3v-1H1209.3v-1H1208.6v-1H1208.3v-1H1210.1v-1H1209.9v-1H1208.3v-1H1209.5v-1H1209.2v-1H1209.4v-1H1210.7v-1v-1H1210.5v-1H1210.7v-1H1209.2v-1H1210.7v-1v-1v-1H1208.8v-1H1205.9v-1H1200.2v-1v-1v-1H1205.2v-1H1207.9v-1H1210.1v-1H1210.7v-1H1209.9v-1H1210.7v-1H1210.6v-1H1210.5v-1H1210.7v-1H1210.1v-1H1210.4v-1H1210.3v-1H1210.5v-1H1210.1v-1H1210v-1H1209.2v-1H1208.7v-1H1207.6v-1H1206.2v-1H1206.7v-1H1208v-1H1207.8v-1H1210.3v-1H1210.7v-1H1209.6v-1H1210.7v-1H1207.1v-1H1208.8v-1H1210.7v-1H1210.6v-1H1210.7v-1v-1H1210.4v-1H1210.7v-1v-1H1210.5v-1H1210.7v-1H1210.6v-1H1210.7ZM1248 71v1H1249.4v1H1243.4v1v1H1244.7v1H1248.8v1H1246.7v1H1252.3v1H1246v1H1246.1v1H1243.4v1v1v1H1243.8v1H1243.4v1v1v1v1H1244.3v1H1245.3v1H1248.9v1H1249.4v1H1248.2v1H1243.4v1v1v1H1244.4v1H1243.6v1H1244.1v1H1243.7v1H1245.7v1H1243.4v1H1246.3v1H1249v1H1250v1H1250.8v1H1249.7v1H1256.1v1H1257.2v1H1266.9v1v1v1H1257.4v1H1251.4v1H1248.8v1H1253.3v1H1256.1v1H1259.9v1H1257.4v1H1251.9v1H1249.6v1H1245.3v1H1247.4v1H1249.4v1H1247.2v1H1249.5v1H1245.2v1H1244v1H1245.6v1H1246v1H1247.2v1H1250.4v1H1252.7v1H1253.3v1H1253.1v1H1248.8v1H1245.3v1H1247.4v1H1248.9v1H1244.3v1H1246.2v1H1243.5v1H1246.7v1H1247.5v1H1249.5v1H1247.2v1H1248.5v1H1243.8v1H1243.4v1H1243.6v1H1247v1H1246.6v1H1247.5v1H1246.2v1H1243.4v1v1v1v1H1245.1v1H1247.1v1H1247.2v1H1244.8v1H1245.2v1H1248.1v1H1249.1v1H1249v1H1252.2v1H1252.6v1H1256.3v1H1255.4v1H1257.8v1H1255.3v1H1250v1H1248v1v1H1247v1H1245.2v1H1244.1v1H1243.4v1v1v1H1246.9v1H1248.8v1H1252.3v1H1251.6v1H1248.8v1H1243.6v1H1243.4v1H1247.8v1H1246.5v1H1250.3v1H1249.8v1H1247.3v1H1245.2v1H1247.7v1H1244.4v1H1248.4v1H1247.5v1H1250.4v1H1253.5v1H1264.2v1H1266.9v1v1H1259.2v1H1253.4v1H1250v1H1250.9v1H1254.7v1H1257.2v1H1260.1v1H1257.8v1H1255.7v1H1250.3v1H1245.7v1H1246.2v1H1246v1H1246.2v1H1243.9v1H1243.4v1v1v1H1244.5v1H1243.8v1H1244.2v1H1245.5v1H1246.3v1H1245.2v1H1244.3v1H1243.4v1H1244.9v1H1247.7v1H1244.6v1H1245.5v1H1245.8v1H1249.2v1H1250.7v1H1247.6v1H1249.5v1H1251.8v1H1252.9v1H1253.7v1H1257v1H1260.2v1H1258.9v1H1258.7v1H1255v1H1252.9v1H1250.6v1H1250.4v1H1245.2v1H1245v1H1245.5v1H1247.6v1H1246.5v1H1247.7v1H1245.6v1H1243.4v1H1244.2v1H1245.1v1H1248v1H1249.3v1H1248.2v1H1249.1v1H1249v1H1249.5v1H1247.1v1H1247.8v1H1248.2v1H1249v1H1248.7v1H1248.4v1H1248.3v1H1249.5v1H1250.8v1H1249.6v1H1251.6v1H1245.4v1H1244.6v1H1243.8v1H1246.6v1H1248.2v1H1249.2v1H1250.1v1H1246.3v1H1249.6v1H1245.2v1H1238.7v-1H1238.3v-1H1238.7v-1H1239.3v-1H1238.9v-1H1239.4v-1v-1v-1v-1v-1v-1v-1v-1H1238.1v-1H1236.8v-1H1238.8v-1H1238.2v-1H1237.1v-1H1236v-1H1235.7v-1H1236.4v-1H1238.7v-1H1239v-1H1239.4v-1v-1H1237.9v-1H1239.4v-1H1239.3v-1H1239.4v-1H1238.4v-1H1239.2v-1H1239.4v-1H1238.3v-1H1238v-1H1238.2v-1H1238.3v-1H1239.1v-1H1237.4v-1H1236.9v-1H1235.7v-1H1237.7v-1H1239v-1H1239.4v-1v-1v-1v-1v-1v-1H1238.4v-1H1237v-1H1233.7v-1H1236.8v-1H1239v-1H1239.4v-1H1238.8v-1H1239.2v-1H1237.9v-1H1237.1v-1H1238.8v-1H1239.1v-1H1239.4v-1v-1v-1H1238.4v-1H1239.4v-1v-1v-1v-1v-1v-1H1239v-1H1239.4v-1v-1H1238.7v-1H1237.4v-1H1236.9v-1H1239.3v-1H1239.4v-1v-1v-1H1239.2v-1H1236.4v-1H1231.1v-1H1228.9v-1v-1H1230.7v-1H1236.4v-1H1238.8v-1H1239.4v-1H1238.7v-1H1236.7v-1H1237v-1H1235.1v-1H1235.6v-1H1237.7v-1H1236.5v-1H1239.4v-1v-1v-1v-1H1239.3v-1H1237.7v-1H1237.2v-1H1236.3v-1H1237.5v-1H1239.1v-1H1238.5v-1H1238.1v-1H1238v-1H1237v-1H1239.4v-1H1239.2v-1H1239.4v-1H1239v-1H1237.2v-1H1239v-1H1237.8v-1H1237.7v-1H1238.7v-1H1239.4v-1v-1H1239v-1H1239.4v-1H1238.9v-1H1238.7v-1H1239.4v-1H1238.9v-1H1238.8v-1H1238.1v-1H1237.4v-1H1239v-1H1239.4v-1H1239.3v-1H1238.1v-1H1237.5v-1H1238.5v-1H1239.4v-1H1238.7v-1H1239.3v-1H1239.4v-1H1239v-1H1239.1v-1H1238.4v-1H1239.4v-1v-1v-1v-1v-1v-1v-1v-1v-1H1239.2v-1H1239.4v-1H1238.7v-1H1237.7v-1H1238v-1H1236.3v-1H1236.5v-1H1237.8v-1H1238.7v-1H1239.4v-1H1239v-1H1238.6v-1H1238.7v-1H1238.8v-1H1239.4v-1v-1H1238.7v-1H1238.9v-1H1238.1v-1H1238v-1H1239.4v-1H1233.6v-1H1228.9v-1v-1H1231.3v-1H1233.5v-1H1234.4v-1H1238.1v-1H1239.4v-1v-1v-1v-1v-1H1238.4v-1H1239.4v-1v-1H1237.6v-1H1237.2v-1H1236.4v-1H1237.9v-1H1239.1v-1H1238.9v-1H1239.4v-1v-1v-1H1238.6v-1H1239.4v-1v-1H1239.2v-1H1238.5v-1H1239.4v-1v-1v-1H1238.7v-1H1237.7v-1H1239v-1H1239.3v-1H1238.4v-1H1239.1v-1H1239.4v-1H1238.6v-1H1239.4v-1H1238.8v-1H1239.2Z" fill="#000"/>
<path d="M120.8 79.5h20.7M120.8 84.5h13.3M120.8 103.5h21.8M120.8 173.5h24.5M120.8 176.5h22.1M120.8 186.5h23.8M120.8 198.5h15.1M120.8 210.5h25.3M120.8 228.5h10M120.8 233.5h24M120.8 243.5h11.5M149.5 74.5h8.1M149.5 105.5h8.6M149.5 154.5h19.3M149.5 163.5h19.6M149.5 202.5h13.4M149.5 215.5h22.8M149.5 228.5h23.8M149.5 233.5h14M149.5 238.5h11.2M149.5 254.5h23M149.5 255.5h15.7M149.5 258.5h20.1M149.5 260.5h14M149.5 264.5h12.3M149.5 266.5h24.7M149.5 275.5h24.8M149.5 283.5h15.2M178.2 73.5h13.9M178.2 88.5h21.9M178.2 92.5h20.5M178.2 99.5h10.7M178.2 107.5h14.6M178.2 149.5h10.9M178.2 157.5h20.4M178.2 163.5h26M178.2 175.5h19.3M178.2 193.5h23.8M178.2 194.5h16.8M178.2 196.5h16.6M178.2 204.5h23.4M178.2 211.5h21.7M178.2 227.5h22.3M178.2 232.5h16M178.2 237.5h12.9M178.2 246.5h21.1M178.2 255.5h9.4M178.2 259.5h15.6M178.2 271.5h9.3M178.2 286.5h16.4M207 85.5h25M207 92.5h15.7M207 101.5h22.4M207 126.5h19.2M207 136.5h21.4M207 144.5h11M207 147.5h23.2M207 155.5h15.2M207 195.5h20M207 226.5h12.2M207 251.5h9.4M207 267.5h13.9M207 282.5h12.6M235.7 84.5h15.9M235.7 99.5h19.6M235.7 102.5h14.8M235.7 106.5h24.2M235.7 170.5h21.2M235.7 193.5h10M235.7 204.5h13.1M235.7 220.5h20M235.7 238.5h24M235.7 244.5h25.2M264.4 72.5h20M264.4 81.5h22.6M264.4 100.5h13.3M264.4 108.5h24.3M264.4 113.5h18M264.4 131.5h17M264.4 150.5h17.6M264.4 167.5h21.9M264.4 179.5h19.7M264.4 191.5h22.4M264.4 210.5h23.7M264.4 211.5h14.8M264.4 229.5h23M264.4 241.5h22.6M264.4 246.5h11.7M264.4 250.5h21.2M264.4 264.5h9.4M264.4 284.5h10.3M293.1 74.5h24.1M293.1 91.5h15.4M293.1 97.5h15.7M293.1 108.5h15.9M293.1 115.5h16.6M293.1 120.5h10.2M293.1 130.5h16.1M293.1 135.5h9.6M293.1 162.5h18.9M293.1 164.5h16.5M293.1 167.5h22.9M293.1 201.5h15.6M293.1 210.5h22.2M293.1 222.5h20.1M293.1 242.5h20.6M293.1 247.5h20.3M293.1 248.5h19.1M293.1 265.5h24.3M293.1 267.5h10.1M293.1 270.5h24.4M293.1 284.5h24.9M293.1 286.5h13.1M321.8 71.5h13M321.8 87.5h21.2M321.8 100.5h25.2M321.8 123.5h21.7M321.8 135.5h9.5M321.8 138.5h9M321.8 147.5h10.9M321.8 178.5h16.2M321.8 185.5h15.3M321.8 191.5h19.1M321.8 205.5h18.7M321.8 207.5h25.8M321.8 216.5h21.8M321.8 247.5h9.6M321.8 257.5h22.2M321.8 268.5h18.4M321.8 275.5h24M350.6 77.5h23M350.6 80.5h25.5M350.6 106.5h22.9M350.6 165.5h19.4M350.6 174.5h24.2M350.6 208.5h10.1M350.6 209.5h10.1M350.6 214.5h19.6M350.6 246.5h16.5M350.6 278.5h10M379.3 113.5h10.7M379.3 129.5h12.6M379.3 178.5h23.4M379.3 235.5h19.1M379.3 273.5h17.4M408 84.5h8.8M408 97.5h8.4M408 110.5h9.4M408 146.5h11.3M408 153.5h23.4M408 168.5h11.4M408 173.5h25.1M408 207.5h18.4M408 209.5h20M408 233.5h15.4M408 278.5h18M408 284.5h19.8M436.7 72.5h23.8M436.7 102.5h14.3M436.7 108.5h8.2M436.7 150.5h13M436.7 159.5h24.8M436.7 165.5h11.8M436.7 179.5h18.1M436.7 196.5h21.9M436.7 235.5h11.5M436.7 262.5h23.4M465.4 73.5h15.3M465.4 112.5h8.3M465.4 120.5h21.4M465.4 121.5h8.1M465.4 135.5h9.1M465.4 144.5h10M465.4 157.5h14.4M465.4 166.5h16.5M465.4 175.5h17.6M465.4 178.5h11.9M465.4 202.5h9.6M465.4 216.5h9.6M465.4 219.5h23.1M465.4 222.5h13.9M465.4 225.5h18.4M465.4 242.5h8M465.4 247.5h22.5M465.4 263.5h19M465.4 273.5h9.5M494.2 77.5h20.1M494.2 84.5h11.4M494.2 90.5h12.5M494.2 93.5h25.2M494.2 98.5h20.8M494.2 101.5h22.7M494.2 132.5h25.5M494.2 156.5h20M494.2 171.5h19.8M494.2 173.5h18.8M494.2 176.5h16.9M494.2 179.5h11M494.2 183.5h13.9M494.2 186.5h23.6M494.2 188.5h19.1M494.2 231.5h19.7M494.2 249.5h21.1M494.2 250.5h19.5M522.9 86.5h17.1M522.9 88.5h11.7M522.9 219.5h12.6M522.9 227.5h16.7M522.9 246.5h18.3M522.9 247.5h9.9M522.9 258.5h20.8M522.9 272.5h13.6M522.9 286.5h11.7M551.6 72.5h10.2M551.6 93.5h23.6M551.6 100.5h9.1M551.6 115.5h16.6M551.6 125.5h15M551.6 150.5h12.6M551.6 152.5h15.8M551.6 155.5h8.1M551.6 162.5h17.6M551.6 175.5h22.2M551.6 185.5h12.8M551.6 190.5h18.7M551.6 202.5h18.6M551.6 285.5h13.3M580.3 96.5h13.6M580.3 136.5h8.9M580.3 156.5h23.9M580.3 188.5h16M580.3 200.5h21.6M580.3 225.5h12.3M580.3 231.5h12.2M580.3 233.5h13.8M580.3 240.5h23.5M580.3 244.5h10.6M580.3 253.5h21M580.3 271.5h16.9M580.3 286.5h21.3M609 86.5h10.2M609 108.5h21.1M609 121.5h17.5M609 131.5h12.2M609 139.5h9.6M609 142.5h24.2M609 155.5h11.9M609 172.5h11.3M609 174.5h18.9M609 192.5h20.4M609 203.5h17.6M609 204.5h13.9M609 209.5h25.1M609 238.5h14.3M609 249.5h12.6M609 268.5h17.4M609 281.5h11.8M609 283.5h23.4M637.8 89.5h15.1M637.8 95.5h20.1M637.8 112.5h9.2M637.8 135.5h8.7M637.8 143.5h14.9M637.8 156.5h10.5M637.8 163.5h10.2M637.8 165.5h13.6M637.8 176.5h25.5M637.8 180.5h8.7M637.8 182.5h18M637.8 184.5h19.3M637.8 199.5h15M637.8 200.5h9.1M637.8 206.5h18.4M637.8 223.5h8.1M637.8 234.5h10.5M637.8 269.5h22.4M637.8 285.5h23.9M666.5 72.5h13.8M666.5 112.5h14.2M666.5 115.5h10.8M666.5 120.5h13.2M666.5 121.5h11.7M666.5 146.5h11M666.5 162.5h24.3M666.5 224.5h23.6M666.5 239.5h20.6M666.5 274.5h20.2M666.5 285.5h12.5M695.2 95.5h13.7M695.2 120.5h15.3M695.2 133.5h21.1M695.2 134.5h24.4M695.2 138.5h13.8M695.2 139.5h25.7M695.2 143.5h8.5M695.2 171.5h13.4M695.2 181.5h20.9M695.2 201.5h13.3M695.2 214.5h23.8M695.2 221.5h19.7M695.2 231.5h11.6M695.2 246.5h24M695.2 247.5h10.9M695.2 250.5h24.9M695.2 283.5h23.5M723.9 89.5h23.7M723.9 103.5h14.5M723.9 132.5h10M723.9 141.5h19.1M723.9 146.5h23.8M723.9 193.5h16.5M723.9 212.5h18.5M723.9 216.5h23.1M723.9 224.5h13.6M723.9 263.5h18.4M723.9 264.5h9.9M723.9 284.5h8.6M752.6 73.5h8.2M752.6 79.5h14.2M752.6 88.5h13M752.6 98.5h21.4M752.6 129.5h9.4M752.6 155.5h19.4M752.6 172.5h14.9M752.6 223.5h9.9M752.6 231.5h22.3M752.6 244.5h14.8M752.6 270.5h13.1M781.4 77.5h24.1M781.4 91.5h8.5M781.4 93.5h25.1M781.4 123.5h17.6M781.4 141.5h14M781.4 146.5h16.2M781.4 154.5h9.2M781.4 158.5h17.4M781.4 182.5h23.1M781.4 187.5h9.2M781.4 193.5h8.1M781.4 205.5h11.9M781.4 231.5h19.6M781.4 243.5h19.6M781.4 248.5h11.2M781.4 263.5h11.3M781.4 276.5h24.6M781.4 279.5h19.2M810.1 84.5h12.8M810.1 112.5h22.5M810.1 114.5h10.8M810.1 115.5h12.9M810.1 116.5h9.2M810.1 123.5h16.8M810.1 144.5h23.7M810.1 157.5h9.1M810.1 172.5h15.2M810.1 182.5h10.9M810.1 192.5h25.5M810.1 213.5h10.8M810.1 228.5h11.2M810.1 240.5h18.6M810.1 244.5h9.4M810.1 255.5h13.3M810.1 261.5h18.7M810.1 280.5h12.3M838.8 75.5h25.5M838.8 80.5h10.3M838.8 82.5h24.4M838.8 83.5h21.8M838.8 87.5h25.5M838.8 93.5h8.4M838.8 109.5h12.7M838.8 113.5h22M838.8 121.5h14.3M838.8 137.5h13.6M838.8 141.5h23.4M838.8 151.5h11.1M838.8 187.5h16.6M838.8 188.5h18.5M838.8 195.5h24.3M838.8 209.5h14M838.8 228.5h19M838.8 243.5h15.7M838.8 267.5h10.4M838.8 269.5h11.7M838.8 270.5h24.8M838.8 276.5h18.5M867.5 90.5h10.9M867.5 133.5h23.3M867.5 162.5h16.3M867.5 187.5h21M867.5 197.5h14.1M867.5 224.5h12.5M867.5 235.5h13.5M867.5 239.5h9.8M867.5 253.5h21.1M867.5 257.5h20.4M867.5 259.5h19.8M867.5 275.5h16.2M867.5 286.5h8.9M896.2 78.5h18.8M896.2 121.5h24.5M896.2 203.5h15.6M896.2 207.5h17.5M896.2 209.5h13.7M896.2 259.5h20.6M896.2 261.5h21.9M896.2 277.5h11.1M896.2 278.5h22.6M896.2 279.5h21.5M925 72.5h13.2M925 80.5h19.6M925 81.5h14.1M925 84.5h17.3M925 99.5h16.8M925 106.5h21.8M925 107.5h23.5M925 118.5h22.9M925 125.5h15.1M925 133.5h15.9M925 135.5h17.6M925 136.5h21.6M925 137.5h9.8M925 138.5h14.5M925 165.5h16.6M925 168.5h21.6M925 177.5h10M925 182.5h11.5M925 244.5h18.8M925 260.5h11.2M925 261.5h10.6M925 286.5h12.3M953.7 72.5h22.6M953.7 81.5h22.1M953.7 105.5h16.2M953.7 151.5h20.7M953.7 163.5h16M953.7 177.5h8.9M953.7 184.5h19.6M953.7 258.5h15.8M982.4 74.5h24.1M982.4 105.5h13.7M982.4 114.5h12.9M982.4 132.5h8.3M982.4 134.5h19.6M982.4 135.5h20.1M982.4 140.5h9M982.4 158.5h14.6M982.4 166.5h9.8M982.4 170.5h10.6M982.4 176.5h14.3M982.4 212.5h22M982.4 235.5h19.7M982.4 238.5h19.3M982.4 272.5h11.6M1011.1 73.5h13.7M1011.1 104.5h9.8M1011.1 126.5h12.2M1011.1 131.5h13.4M1011.1 134.5h19.2M1011.1 168.5h25.4M1011.1 171.5h17.8M1011.1 176.5h19.6M1011.1 199.5h18.6M1011.1 207.5h16.5M1011.1 215.5h18.8M1011.1 224.5h10.5M1011.1 225.5h11.2M1011.1 229.5h24.5M1011.1 232.5h20.9M1011.1 234.5h20.7M1011.1 250.5h12.3M1011.1 274.5h19.3M1011.1 282.5h17.6M1039.8 71.5h22.3M1039.8 75.5h17.1M1039.8 78.5h17.4M1039.8 85.5h8.3M1039.8 95.5h22.9M1039.8 96.5h23.6M1039.8 104.5h12.3M1039.8 111.5h18.3M1039.8 155.5h16.3M1039.8 176.5h20.9M1039.8 182.5h11.8M1039.8 189.5h15.6M1039.8 198.5h22.4M1039.8 203.5h21.5M1039.8 205.5h23.8M1039.8 219.5h16.2M1039.8 237.5h24.9M1039.8 270.5h25.8M1039.8 284.5h19.9M1068.6 91.5h17.8M1068.6 103.5h16.4M1068.6 115.5h11.3M1068.6 117.5h22.5M1068.6 121.5h13.2M1068.6 145.5h9.7M1068.6 154.5h23M1068.6 225.5h12M1068.6 243.5h13.6M1068.6 246.5h19.4M1068.6 255.5h21.7M1068.6 274.5h20.1M1068.6 275.5h19.1M1068.6 286.5h13.7M1097.3 103.5h9.5M1097.3 106.5h25.8M1097.3 110.5h18.2M1097.3 123.5h12.5M1097.3 124.5h11.6M1097.3 125.5h23.8M1097.3 135.5h14.2M1097.3 138.5h25.7M1097.3 151.5h25M1097.3 181.5h12.7M1097.3 185.5h21M1097.3 215.5h9M1097.3 221.5h25.9M1097.3 223.5h18.8M1097.3 241.5h12.7M1097.3 260.5h24.9M1097.3 261.5h8.6M1097.3 265.5h8.8M1097.3 274.5h17.9M1126 82.5h10M1126 87.5h20.8M1126 97.5h18.1M1126 139.5h18.9M1126 154.5h24.9M1126 164.5h15.3M1126 169.5h22.4M1126 172.5h10.2M1126 182.5h21.4M1126 197.5h21.2M1126 200.5h14.2M1126 215.5h17.5M1126 231.5h11.2M1126 251.5h17.6M1126 256.5h9.5M1126 286.5h17.5M1154.7 71.5h10.8M1154.7 89.5h16.9M1154.7 93.5h14.9M1154.7 109.5h24.2M1154.7 117.5h19.8M1154.7 121.5h21.4M1154.7 157.5h13.3M1154.7 176.5h11.4M1154.7 198.5h17.8M1154.7 214.5h25.2M1154.7 222.5h19.8M1154.7 252.5h18.1M1154.7 264.5h21.7M1154.7 273.5h21.1M1183.4 96.5h9.3M1183.4 98.5h9.8M1183.4 100.5h12.6M1183.4 103.5h12.7M1183.4 122.5h24.7M1183.4 136.5h25.8M1183.4 162.5h22.4M1183.4 176.5h11.8M1183.4 209.5h10.2M1183.4 227.5h13M1183.4 259.5h18.4M1183.4 262.5h9.7M1183.4 263.5h25.7M1183.4 266.5h15.1M1183.4 271.5h16.9M1183.4 272.5h17.1M1212.2 98.5h20.6M1212.2 118.5h10.9M1212.2 127.5h12.3M1212.2 144.5h8.4M1212.2 150.5h23.7M1212.2 151.5h16.6M1212.2 155.5h11M1212.2 162.5h12.8M1212.2 184.5h24M1212.2 206.5h19M1212.2 227.5h19.8M1212.2 238.5h20.2M1212.2 239.5h16.5M1212.2 280.5h18.7M1240.9 78.5h21.3M1240.9 97.5h9M1240.9 101.5h21.2M1240.9 108.5h10M1240.9 165.5h9.8M1240.9 218.5h21.4M1240.9 232.5h20.2M1240.9 240.5h24.5M1240.9 244.5h8.3M1240.9 246.5h12M1240.9 271.5h20.6" stroke="#000" stroke-width="1" fill="none"/>
</g>
<line x1="95.7" y1="81.4" x2="1254.7" y2="81.4" stroke="#333" stroke-width="1.5" stroke-dasharray="1.5 5"/>
<line x1="95.7" y1="103.1" x2="1254.7" y2="103.1" stroke="#333" stroke-width="1.5" stroke-dasharray="1.5 5"/>
<line x1="95.7" y1="124.7" x2="1254.7" y2="124.7" stroke="#333" stroke-width="1.5" stroke-dasharray="1.5 5"/>
<line x1="95.7" y1="146.3" x2="1254.7" y2="146.3" stroke="#333" stroke-width="1.5" stroke-dasharray="1.5 5"/>
<line x1="95.7" y1="168.0" x2="1254.7" y2="168.0" stroke="#333" stroke-width="1.5" stroke-dasharray="1.5 5"/>
<line x1="95.7" y1="189.6" x2="1254.7" y2="189.6" stroke="#333" stroke-width="1.5" stroke-dasharray="1.5 5"/>
<line x1="95.7" y1="211.3" x2="1254.7" y2="211.3" stroke="#333" stroke-width="1.5" stroke-dasharray="1.5 5"/>
<line x1="95.7" y1="232.9" x2="1254.7" y2="232.9" stroke="#333" stroke-width="1.5" stroke-dasharray="1.5 5"/>
<line x1="95.7" y1="254.5" x2="1254.7" y2="254.5" stroke="#333" stroke-width="1.5" stroke-dasharray="1.5 5"/>
<line x1="95.7" y1="276.2" x2="1254.7" y2="276.2" stroke="#333" stroke-width="1.5" stroke-dasharray="1.5 5"/>
<line x1="95.7" y1="70.6" x2="1254.7" y2="70.6" stroke="#000" stroke-width="3"/>
<line x1="95.7" y1="92.2" x2="1254.7" y2="92.2" stroke="#000" stroke-width="1.8"/>
<line x1="95.7" y1="113.9" x2="1254.7" y2="113.9" stroke="#000" stroke-width="1.8"/>
<line x1="95.7" y1="135.5" x2="1254.7" y2="135.5" stroke="#000" stroke-width="1.8"/>
<line x1="95.7" y1="157.2" x2="1254.7" y2="157.2" stroke="#000" stroke-width="1.8"/>
<line x1="95.7" y1="178.8" x2="1254.7" y2="178.8" stroke="#000" stroke-width="1.8"/>
<line x1="95.7" y1="200.4" x2="1254.7" y2="200.4" stroke="#000" stroke-width="1.8"/>
<line x1="95.7" y1="222.1" x2="1254.7" y2="222.1" stroke="#000" stroke-width="1.8"/>
<line x1="95.7" y1="243.7" x2="1254.7" y2="243.7" stroke="#000" stroke-width="1.8"/>
<line x1="95.7" y1="265.4" x2="1254.7" y2="265.4" stroke="#000" stroke-width="1.8"/>
<line x1="95.7" y1="287.0" x2="1254.7" y2="287.0" stroke="#000" stroke-width="3"/>
<line x1="148.5" y1="64.5" x2="148.5" y2="70" stroke="#000" stroke-width="2"/>
<line x1="205.9" y1="64.5" x2="205.9" y2="70" stroke="#000" stroke-width="2"/>
<line x1="263.4" y1="64.5" x2="263.4" y2="70" stroke="#000" stroke-width="2"/>
<line x1="320.8" y1="64.5" x2="320.8" y2="70" stroke="#000" stroke-width="2"/>
<line x1="378.2" y1="64.5" x2="378.2" y2="70" stroke="#000" stroke-width="2"/>
<line x1="435.6" y1="64.5" x2="435.6" y2="70" stroke="#000" stroke-width="2"/>
<line x1="493.1" y1="64.5" x2="493.1" y2="70" stroke="#000" stroke-width="2"/>
<line x1="550.5" y1="64.5" x2="550.5" y2="70" stroke="#000" stroke-width="2"/>
<line x1="607.9" y1="64.5" x2="607.9" y2="70" stroke="#000" stroke-width="2"/>
<line x1="665.4" y1="64.5" x2="665.4" y2="70" stroke="#000" stroke-width="2"/>
<line x1="722.8" y1="64.5" x2="722.8" y2="70" stroke="#000" stroke-width="2"/>
<line x1="780.2" y1="64.5" x2="780.2" y2="70" stroke="#000" stroke-width="2"/>
<line x1="837.7" y1="64.5" x2="837.7" y2="70" stroke="#000" stroke-width="2"/>
<line x1="895.1" y1="64.5" x2="895.1" y2="70" stroke="#000" stroke-width="2"/>
<line x1="952.5" y1="64.5" x2="952.5" y2="70" stroke="#000" stroke-width="2"/>
<line x1="1010.0" y1="64.5" x2="1010.0" y2="70" stroke="#000" stroke-width="2"/>
<line x1="1067.4" y1="64.5" x2="1067.4" y2="70" stroke="#000" stroke-width="2"/>
<line x1="1124.8" y1="64.5" x2="1124.8" y2="70" stroke="#000" stroke-width="2"/>
<line x1="1182.2" y1="64.5" x2="1182.2" y2="70" stroke="#000" stroke-width="2"/>
<line x1="1239.7" y1="64.5" x2="1239.7" y2="70" stroke="#000" stroke-width="2"/>
<text x="1.4" y="41.4" font-family="Liberation Sans" font-weight="bold" font-size="44">A</text>
<text x="2.4" y="322.9" font-family="Liberation Sans" font-weight="bold" font-size="44">B</text>
<text transform="translate(606.4,24.5) scale(0.956,1)" font-family="Liberation Serif" font-weight="bold" font-size="33">Offset(m)</text>
<text x="116.1" y="61.6" font-family="Liberation Serif" font-weight="bold" font-size="26" text-anchor="middle">100</text>
<text x="260.5" y="61.6" font-family="Liberation Serif" font-weight="bold" font-size="26" text-anchor="middle">110</text>
<text x="400.9" y="61.6" font-family="Liberation Serif" font-weight="bold" font-size="26" text-anchor="middle">120</text>
<text x="546.7" y="61.6" font-family="Liberation Serif" font-weight="bold" font-size="26" text-anchor="middle">130</text>
<text x="690.4" y="61.6" font-family="Liberation Serif" font-weight="bold" font-size="26" text-anchor="middle">140</text>
<text x="835.4" y="61.6" font-family="Liberation Serif" font-weight="bold" font-size="26" text-anchor="middle">150</text>
<text x="974.9" y="61.6" font-family="Liberation Serif" font-weight="bold" font-size="26" text-anchor="middle">160</text>
<text x="1122.3" y="61.6" font-family="Liberation Serif" font-weight="bold" font-size="26" text-anchor="middle">170</text>
<text x="1250.9" y="61.6" font-family="Liberation Serif" font-weight="bold" font-size="26" text-anchor="middle">180</text>
<text x="91.9" y="77.4" font-family="Liberation Serif" font-weight="bold" font-size="26" text-anchor="end">0.0</text>
<text x="91.9" y="128.0" font-family="Liberation Serif" font-weight="bold" font-size="26" text-anchor="end">0.5</text>
<text x="91.9" y="186.5" font-family="Liberation Serif" font-weight="bold" font-size="26" text-anchor="end">1.0</text>
<text x="91.9" y="236.5" font-family="Liberation Serif" font-weight="bold" font-size="26" text-anchor="end">1.5</text>
<text x="91.9" y="291.6" font-family="Liberation Serif" font-weight="bold" font-size="26" text-anchor="end">2.0</text>
<text transform="translate(48.3,227.5) rotate(-90)" font-family="Liberation Serif" font-weight="bold" font-size="31">Time(s)</text>
<text x="115.9" y="348" font-family="Liberation Serif" font-weight="bold" font-size="26" text-anchor="middle">100</text>
<text x="259.7" y="348" font-family="Liberation Serif" font-weight="bold" font-size="26" text-anchor="middle">110</text>
<text x="400.5" y="348" font-family="Liberation Serif" font-weight="bold" font-size="26" text-anchor="middle">120</text>
<text x="546.7" y="348" font-family="Liberation Serif" font-weight="bold" font-size="26" text-anchor="middle">130</text>
<text x="690.1" y="348" font-family="Liberation Serif" font-weight="bold" font-size="26" text-anchor="middle">140</text>
<text x="835.7" y="348" font-family="Liberation Serif" font-weight="bold" font-size="26" text-anchor="middle">150</text>
<text x="975.1" y="348" font-family="Liberation Serif" font-weight="bold" font-size="26" text-anchor="middle">160</text>
<text x="1121.8" y="348" font-family="Liberation Serif" font-weight="bold" font-size="26" text-anchor="middle">170</text>
<text x="1250.6" y="348" font-family="Liberation Serif" font-weight="bold" font-size="26" text-anchor="middle">180</text>
<text x="78.5" y="371.6" font-family="Liberation Serif" font-weight="bold" font-size="26" text-anchor="middle">5</text>
<text x="78.5" y="436.4" font-family="Liberation Serif" font-weight="bold" font-size="26" text-anchor="middle">10</text>
<text x="78.5" y="507.8" font-family="Liberation Serif" font-weight="bold" font-size="26" text-anchor="middle">15</text>
<text x="78.5" y="573.1" font-family="Liberation Serif" font-weight="bold" font-size="26" text-anchor="middle">20</text>
<text transform="translate(49.5,591.5) rotate(-90)" font-family="Liberation Serif" font-weight="bold" font-size="31">half-wavelength(m)</text>
<text x="1292.5" y="376.0" font-family="Liberation Serif" font-weight="bold" font-size="26">1.2</text>
<text x="1292.5" y="418.0" font-family="Liberation Serif" font-weight="bold" font-size="26">1.0</text>
<text x="1292.5" y="459.8" font-family="Liberation Serif" font-weight="bold" font-size="26">0.8</text>
<text x="1292.5" y="500.0" font-family="Liberation Serif" font-weight="bold" font-size="26">0.6</text>
<text x="1292.5" y="539.4" font-family="Liberation Serif" font-weight="bold" font-size="26">0.4</text>
<text x="1292.5" y="576.8" font-family="Liberation Serif" font-weight="bold" font-size="26">0.2</text>
</svg>
</body></html>
